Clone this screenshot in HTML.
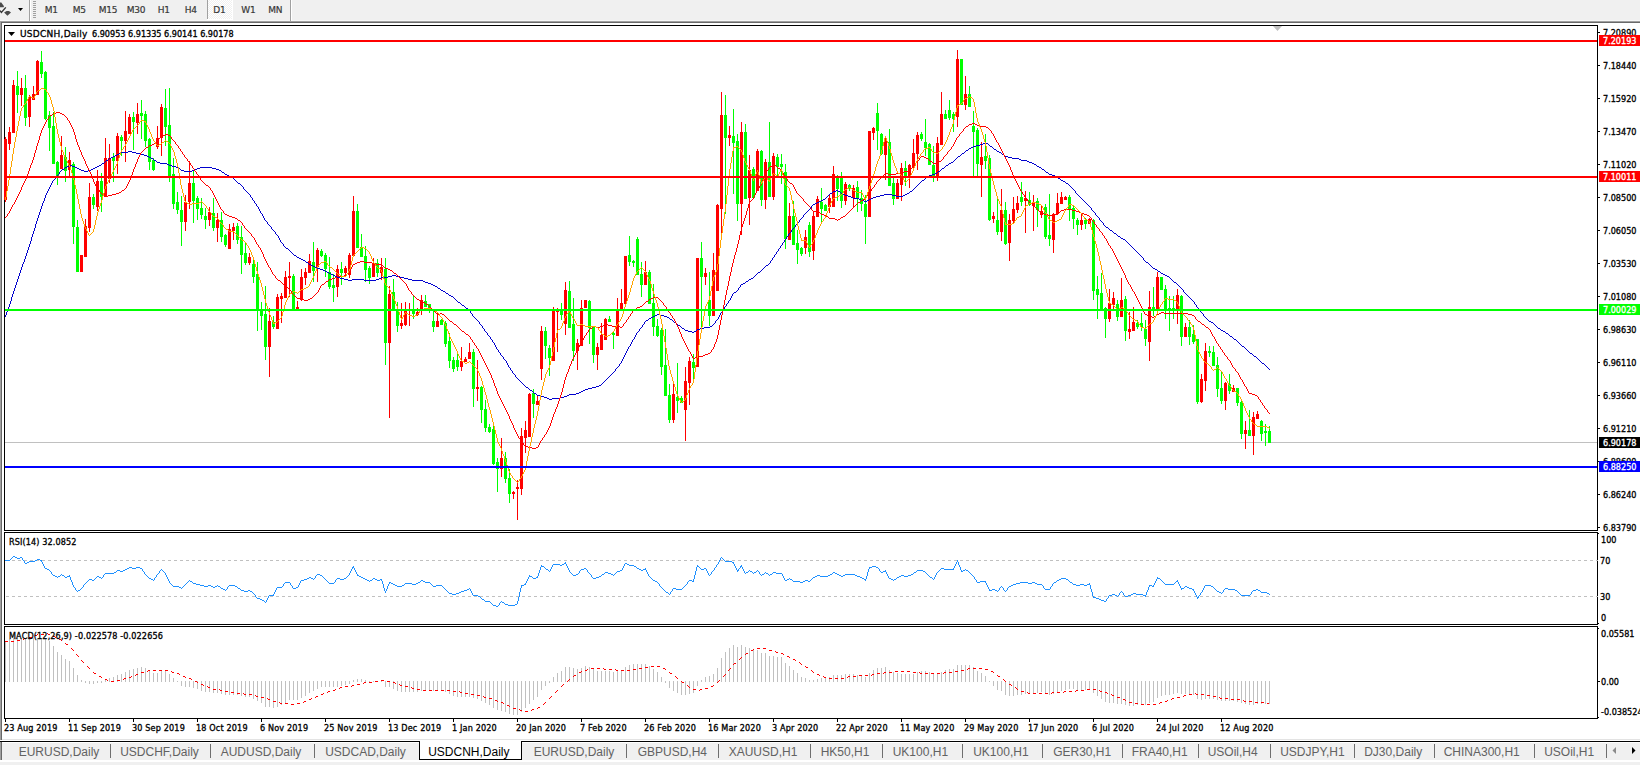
<!DOCTYPE html>
<html><head><meta charset="utf-8"><title>USDCNH,Daily</title>
<style>
html,body{margin:0;padding:0;width:1640px;height:765px;overflow:hidden;background:#f0f0f0;}
svg{display:block;position:absolute;left:0;top:0}
.t{font-family:"DejaVu Sans Condensed","DejaVu Sans",sans-serif;font-size:9px;fill:#000;stroke:#000;stroke-width:0.3px}
.t.w{fill:#fff;stroke:#fff}
.tw{font-family:"DejaVu Sans",sans-serif;font-size:9px;letter-spacing:0.25px}
.tb{font-family:"DejaVu Sans",sans-serif;font-size:9px;letter-spacing:-0.2px;fill:#383838;stroke:#383838;stroke-width:0.2px}
.tab{font-family:"Liberation Sans", sans-serif;font-size:12px;fill:#626262}
</style></head><body>
<svg width="1640" height="765" viewBox="0 0 1640 765" shape-rendering="crispEdges">

<rect x="0" y="0" width="1640" height="21" fill="#f0f0f0"/>
<rect x="0" y="20" width="1640" height="1" fill="#f7f7f7"/>
<g fill="#4a4a4a" shape-rendering="auto"><path d="M0 2.6 L1.3 2.6 L4 6.2 L3.6 7.3 L0 7.3 Z"/><path d="M4.1 12.4 L6.6 11 L9 11 L11 12.4 L7.4 15.8 Z"/></g>
<path d="M0 10.6 L1.4 12.4 L5.8 7.4" fill="none" stroke="#333" stroke-width="1.4" shape-rendering="auto"/>
<path d="M18 8 L23 8 L20.5 11 Z" fill="#000" shape-rendering="auto"/>
<rect x="29" y="0" width="1" height="21" fill="#a0a0a0"/><rect x="30" y="0" width="1" height="21" fill="#ffffff"/>
<rect x="33" y="1" width="3" height="1" fill="#a0a0a0"/>
<rect x="33" y="3" width="3" height="1" fill="#a0a0a0"/>
<rect x="33" y="5" width="3" height="1" fill="#a0a0a0"/>
<rect x="33" y="7" width="3" height="1" fill="#a0a0a0"/>
<rect x="33" y="9" width="3" height="1" fill="#a0a0a0"/>
<rect x="33" y="11" width="3" height="1" fill="#a0a0a0"/>
<rect x="33" y="13" width="3" height="1" fill="#a0a0a0"/>
<rect x="33" y="15" width="3" height="1" fill="#a0a0a0"/>
<rect x="33" y="17" width="3" height="1" fill="#a0a0a0"/>
<text class="tb" x="44.7" y="13">M1</text>
<text class="tb" x="72.7" y="13">M5</text>
<text class="tb" x="98.7" y="13">M15</text>
<text class="tb" x="126.7" y="13">M30</text>
<text class="tb" x="157.7" y="13">H1</text>
<text class="tb" x="184.7" y="13">H4</text>
<text class="tb" x="241.2" y="13">W1</text>
<text class="tb" x="268.2" y="13">MN</text>
<defs><pattern id="chk" x="0" y="0" width="2" height="2" patternUnits="userSpaceOnUse"><rect width="2" height="2" fill="#f0f0f0"/><rect width="1" height="1" fill="#ffffff"/><rect x="1" y="1" width="1" height="1" fill="#ffffff"/></pattern></defs>
<rect x="207" y="0" width="1" height="19" fill="#a0a0a0"/>
<rect x="208" y="0" width="24" height="19" fill="url(#chk)"/>
<rect x="232" y="0" width="1" height="20" fill="#ffffff"/><rect x="207" y="19" width="26" height="1" fill="#ffffff"/>
<text class="tb" x="213.2" y="13">D1</text>
<rect x="290" y="0" width="1" height="21" fill="#a0a0a0"/><rect x="291" y="0" width="1" height="21" fill="#ffffff"/>
<rect x="0" y="21" width="1640" height="1" fill="#a0a0a0"/>
<rect x="0" y="22" width="1640" height="1" fill="#696969"/>
<rect x="0" y="21" width="1" height="719" fill="#a0a0a0"/>
<rect x="1" y="22" width="1" height="718" fill="#696969"/>
<rect x="2" y="23" width="1638" height="716" fill="#ffffff"/>
<rect x="2" y="739" width="1638" height="1" fill="#e3e3e3"/>
<rect x="0" y="740" width="1640" height="1" fill="#ffffff"/>
<rect x="4.5" y="25.5" width="1593" height="505" fill="none" stroke="#000" stroke-width="1"/>
<rect x="4.5" y="532.5" width="1593" height="92" fill="none" stroke="#000" stroke-width="1"/>
<rect x="4.5" y="626.5" width="1593" height="92" fill="none" stroke="#000" stroke-width="1"/>
<rect x="5" y="442" width="1592" height="1" fill="#c0c0c0"/>
<g><rect x="5" y="137" width="1" height="65" fill="#ff0000"/><rect x="4" y="139" width="3" height="61" fill="#ff0000"/><rect x="9" y="127" width="1" height="23" fill="#ff0000"/><rect x="8" y="132" width="3" height="12" fill="#ff0000"/><rect x="13" y="80" width="1" height="53" fill="#ff0000"/><rect x="12" y="85" width="3" height="48" fill="#ff0000"/><rect x="17" y="71" width="1" height="42" fill="#00ff00"/><rect x="16" y="86" width="3" height="9" fill="#00ff00"/><rect x="21" y="78" width="1" height="28" fill="#ff0000"/><rect x="20" y="88" width="3" height="7" fill="#ff0000"/><rect x="25" y="75" width="1" height="51" fill="#00ff00"/><rect x="24" y="88" width="3" height="30" fill="#00ff00"/><rect x="29" y="95" width="1" height="32" fill="#ff0000"/><rect x="28" y="97" width="3" height="20" fill="#ff0000"/><rect x="33" y="86" width="1" height="14" fill="#ff0000"/><rect x="32" y="94" width="3" height="6" fill="#ff0000"/><rect x="37" y="60" width="1" height="35" fill="#ff0000"/><rect x="36" y="61" width="3" height="34" fill="#ff0000"/><rect x="41" y="51" width="1" height="27" fill="#00ff00"/><rect x="40" y="62" width="3" height="12" fill="#00ff00"/><rect x="45" y="71" width="1" height="49" fill="#00ff00"/><rect x="44" y="72" width="3" height="47" fill="#00ff00"/><rect x="49" y="111" width="1" height="40" fill="#00ff00"/><rect x="48" y="115" width="3" height="13" fill="#00ff00"/><rect x="53" y="112" width="1" height="52" fill="#00ff00"/><rect x="52" y="126" width="3" height="38" fill="#00ff00"/><rect x="57" y="161" width="1" height="24" fill="#00ff00"/><rect x="56" y="162" width="3" height="14" fill="#00ff00"/><rect x="61" y="136" width="1" height="33" fill="#ff0000"/><rect x="60" y="155" width="3" height="14" fill="#ff0000"/><rect x="65" y="147" width="1" height="35" fill="#00ff00"/><rect x="64" y="157" width="3" height="14" fill="#00ff00"/><rect x="69" y="152" width="1" height="24" fill="#ff0000"/><rect x="68" y="160" width="3" height="10" fill="#ff0000"/><rect x="73" y="162" width="1" height="82" fill="#00ff00"/><rect x="72" y="164" width="3" height="63" fill="#00ff00"/><rect x="77" y="220" width="1" height="52" fill="#00ff00"/><rect x="76" y="227" width="3" height="45" fill="#00ff00"/><rect x="81" y="255" width="1" height="17" fill="#ff0000"/><rect x="80" y="255" width="3" height="17" fill="#ff0000"/><rect x="85" y="219" width="1" height="38" fill="#ff0000"/><rect x="84" y="226" width="3" height="31" fill="#ff0000"/><rect x="89" y="183" width="1" height="49" fill="#ff0000"/><rect x="88" y="197" width="3" height="31" fill="#ff0000"/><rect x="93" y="194" width="1" height="15" fill="#00ff00"/><rect x="92" y="197" width="3" height="8" fill="#00ff00"/><rect x="97" y="170" width="1" height="41" fill="#ff0000"/><rect x="96" y="181" width="3" height="26" fill="#ff0000"/><rect x="101" y="173" width="1" height="39" fill="#00ff00"/><rect x="100" y="181" width="3" height="16" fill="#00ff00"/><rect x="105" y="138" width="1" height="59" fill="#ff0000"/><rect x="104" y="158" width="3" height="39" fill="#ff0000"/><rect x="109" y="144" width="1" height="39" fill="#ff0000"/><rect x="108" y="158" width="3" height="21" fill="#ff0000"/><rect x="113" y="153" width="1" height="29" fill="#00ff00"/><rect x="112" y="157" width="3" height="4" fill="#00ff00"/><rect x="117" y="133" width="1" height="41" fill="#ff0000"/><rect x="116" y="136" width="3" height="25" fill="#ff0000"/><rect x="121" y="135" width="1" height="21" fill="#00ff00"/><rect x="120" y="137" width="3" height="4" fill="#00ff00"/><rect x="125" y="111" width="1" height="51" fill="#ff0000"/><rect x="124" y="131" width="3" height="10" fill="#ff0000"/><rect x="129" y="114" width="1" height="20" fill="#ff0000"/><rect x="128" y="117" width="3" height="17" fill="#ff0000"/><rect x="133" y="112" width="1" height="38" fill="#00ff00"/><rect x="132" y="117" width="3" height="5" fill="#00ff00"/><rect x="137" y="103" width="1" height="31" fill="#ff0000"/><rect x="136" y="114" width="3" height="9" fill="#ff0000"/><rect x="141" y="100" width="1" height="39" fill="#00ff00"/><rect x="140" y="113" width="3" height="3" fill="#00ff00"/><rect x="145" y="111" width="1" height="36" fill="#00ff00"/><rect x="144" y="114" width="3" height="27" fill="#00ff00"/><rect x="149" y="138" width="1" height="32" fill="#00ff00"/><rect x="148" y="139" width="3" height="23" fill="#00ff00"/><rect x="153" y="158" width="1" height="13" fill="#00ff00"/><rect x="152" y="160" width="3" height="10" fill="#00ff00"/><rect x="157" y="126" width="1" height="23" fill="#ff0000"/><rect x="156" y="138" width="3" height="9" fill="#ff0000"/><rect x="161" y="104" width="1" height="52" fill="#ff0000"/><rect x="160" y="107" width="3" height="31" fill="#ff0000"/><rect x="165" y="89" width="1" height="57" fill="#00ff00"/><rect x="164" y="108" width="3" height="19" fill="#00ff00"/><rect x="169" y="88" width="1" height="94" fill="#00ff00"/><rect x="168" y="125" width="3" height="51" fill="#00ff00"/><rect x="173" y="158" width="1" height="51" fill="#00ff00"/><rect x="172" y="174" width="3" height="30" fill="#00ff00"/><rect x="177" y="192" width="1" height="22" fill="#00ff00"/><rect x="176" y="202" width="3" height="8" fill="#00ff00"/><rect x="181" y="196" width="1" height="50" fill="#00ff00"/><rect x="180" y="210" width="3" height="12" fill="#00ff00"/><rect x="185" y="195" width="1" height="36" fill="#ff0000"/><rect x="184" y="202" width="3" height="20" fill="#ff0000"/><rect x="189" y="161" width="1" height="48" fill="#ff0000"/><rect x="188" y="183" width="3" height="19" fill="#ff0000"/><rect x="193" y="171" width="1" height="52" fill="#00ff00"/><rect x="192" y="183" width="3" height="18" fill="#00ff00"/><rect x="197" y="196" width="1" height="24" fill="#00ff00"/><rect x="196" y="198" width="3" height="11" fill="#00ff00"/><rect x="201" y="198" width="1" height="21" fill="#00ff00"/><rect x="200" y="208" width="3" height="7" fill="#00ff00"/><rect x="205" y="208" width="1" height="21" fill="#00ff00"/><rect x="204" y="216" width="3" height="4" fill="#00ff00"/><rect x="209" y="207" width="1" height="19" fill="#ff0000"/><rect x="208" y="212" width="3" height="8" fill="#ff0000"/><rect x="213" y="198" width="1" height="33" fill="#00ff00"/><rect x="212" y="213" width="3" height="15" fill="#00ff00"/><rect x="217" y="213" width="1" height="29" fill="#ff0000"/><rect x="216" y="220" width="3" height="8" fill="#ff0000"/><rect x="221" y="212" width="1" height="30" fill="#00ff00"/><rect x="220" y="220" width="3" height="17" fill="#00ff00"/><rect x="225" y="234" width="1" height="13" fill="#00ff00"/><rect x="224" y="235" width="3" height="10" fill="#00ff00"/><rect x="229" y="224" width="1" height="25" fill="#ff0000"/><rect x="228" y="229" width="3" height="20" fill="#ff0000"/><rect x="233" y="223" width="1" height="17" fill="#ff0000"/><rect x="232" y="227" width="3" height="4" fill="#ff0000"/><rect x="237" y="223" width="1" height="21" fill="#00ff00"/><rect x="236" y="226" width="3" height="14" fill="#00ff00"/><rect x="241" y="226" width="1" height="48" fill="#00ff00"/><rect x="240" y="237" width="3" height="18" fill="#00ff00"/><rect x="245" y="243" width="1" height="22" fill="#00ff00"/><rect x="244" y="253" width="3" height="10" fill="#00ff00"/><rect x="249" y="253" width="1" height="12" fill="#ff0000"/><rect x="248" y="257" width="3" height="6" fill="#ff0000"/><rect x="253" y="258" width="1" height="25" fill="#00ff00"/><rect x="252" y="264" width="3" height="13" fill="#00ff00"/><rect x="257" y="262" width="1" height="69" fill="#00ff00"/><rect x="256" y="274" width="3" height="36" fill="#00ff00"/><rect x="261" y="302" width="1" height="28" fill="#00ff00"/><rect x="260" y="311" width="3" height="5" fill="#00ff00"/><rect x="265" y="286" width="1" height="74" fill="#00ff00"/><rect x="264" y="314" width="3" height="33" fill="#00ff00"/><rect x="269" y="308" width="1" height="69" fill="#ff0000"/><rect x="268" y="321" width="3" height="26" fill="#ff0000"/><rect x="273" y="316" width="1" height="13" fill="#00ff00"/><rect x="272" y="322" width="3" height="5" fill="#00ff00"/><rect x="277" y="294" width="1" height="35" fill="#ff0000"/><rect x="276" y="297" width="3" height="32" fill="#ff0000"/><rect x="281" y="293" width="1" height="30" fill="#ff0000"/><rect x="280" y="296" width="3" height="3" fill="#ff0000"/><rect x="285" y="271" width="1" height="27" fill="#ff0000"/><rect x="284" y="277" width="3" height="21" fill="#ff0000"/><rect x="289" y="262" width="1" height="35" fill="#ff0000"/><rect x="288" y="276" width="3" height="2" fill="#ff0000"/><rect x="293" y="274" width="1" height="37" fill="#00ff00"/><rect x="292" y="276" width="3" height="35" fill="#00ff00"/><rect x="297" y="301" width="1" height="9" fill="#ff0000"/><rect x="296" y="307" width="3" height="3" fill="#ff0000"/><rect x="301" y="269" width="1" height="32" fill="#ff0000"/><rect x="300" y="277" width="3" height="23" fill="#ff0000"/><rect x="305" y="268" width="1" height="17" fill="#ff0000"/><rect x="304" y="272" width="3" height="6" fill="#ff0000"/><rect x="309" y="254" width="1" height="19" fill="#ff0000"/><rect x="308" y="261" width="3" height="12" fill="#ff0000"/><rect x="313" y="242" width="1" height="40" fill="#00ff00"/><rect x="312" y="262" width="3" height="9" fill="#00ff00"/><rect x="317" y="248" width="1" height="34" fill="#ff0000"/><rect x="316" y="250" width="3" height="17" fill="#ff0000"/><rect x="321" y="249" width="1" height="8" fill="#00ff00"/><rect x="320" y="251" width="3" height="5" fill="#00ff00"/><rect x="325" y="253" width="1" height="24" fill="#00ff00"/><rect x="324" y="255" width="3" height="14" fill="#00ff00"/><rect x="329" y="257" width="1" height="32" fill="#00ff00"/><rect x="328" y="272" width="3" height="15" fill="#00ff00"/><rect x="333" y="274" width="1" height="28" fill="#00ff00"/><rect x="332" y="285" width="3" height="3" fill="#00ff00"/><rect x="337" y="265" width="1" height="32" fill="#ff0000"/><rect x="336" y="269" width="3" height="18" fill="#ff0000"/><rect x="341" y="262" width="1" height="23" fill="#00ff00"/><rect x="340" y="269" width="3" height="4" fill="#00ff00"/><rect x="345" y="266" width="1" height="9" fill="#ff0000"/><rect x="344" y="268" width="3" height="5" fill="#ff0000"/><rect x="349" y="253" width="1" height="25" fill="#ff0000"/><rect x="348" y="255" width="3" height="20" fill="#ff0000"/><rect x="353" y="196" width="1" height="60" fill="#ff0000"/><rect x="352" y="211" width="3" height="45" fill="#ff0000"/><rect x="357" y="204" width="1" height="44" fill="#00ff00"/><rect x="356" y="211" width="3" height="37" fill="#00ff00"/><rect x="361" y="234" width="1" height="23" fill="#00ff00"/><rect x="360" y="247" width="3" height="10" fill="#00ff00"/><rect x="365" y="246" width="1" height="36" fill="#00ff00"/><rect x="364" y="256" width="3" height="14" fill="#00ff00"/><rect x="369" y="266" width="1" height="18" fill="#00ff00"/><rect x="368" y="268" width="3" height="10" fill="#00ff00"/><rect x="373" y="258" width="1" height="19" fill="#ff0000"/><rect x="372" y="263" width="3" height="14" fill="#ff0000"/><rect x="377" y="259" width="1" height="18" fill="#00ff00"/><rect x="376" y="263" width="3" height="10" fill="#00ff00"/><rect x="381" y="258" width="1" height="22" fill="#ff0000"/><rect x="380" y="267" width="3" height="6" fill="#ff0000"/><rect x="385" y="258" width="1" height="107" fill="#00ff00"/><rect x="384" y="269" width="3" height="74" fill="#00ff00"/><rect x="389" y="286" width="1" height="132" fill="#ff0000"/><rect x="388" y="294" width="3" height="49" fill="#ff0000"/><rect x="393" y="279" width="1" height="31" fill="#00ff00"/><rect x="392" y="292" width="3" height="18" fill="#00ff00"/><rect x="397" y="302" width="1" height="30" fill="#00ff00"/><rect x="396" y="311" width="3" height="15" fill="#00ff00"/><rect x="401" y="303" width="1" height="26" fill="#ff0000"/><rect x="400" y="323" width="3" height="3" fill="#ff0000"/><rect x="405" y="302" width="1" height="24" fill="#ff0000"/><rect x="404" y="311" width="3" height="14" fill="#ff0000"/><rect x="409" y="303" width="1" height="23" fill="#ff0000"/><rect x="408" y="309" width="3" height="2" fill="#ff0000"/><rect x="413" y="296" width="1" height="23" fill="#00ff00"/><rect x="412" y="310" width="3" height="4" fill="#00ff00"/><rect x="417" y="308" width="1" height="8" fill="#ff0000"/><rect x="416" y="312" width="3" height="3" fill="#ff0000"/><rect x="421" y="295" width="1" height="20" fill="#ff0000"/><rect x="420" y="300" width="3" height="11" fill="#ff0000"/><rect x="425" y="295" width="1" height="12" fill="#00ff00"/><rect x="424" y="301" width="3" height="6" fill="#00ff00"/><rect x="429" y="304" width="1" height="9" fill="#00ff00"/><rect x="428" y="304" width="3" height="4" fill="#00ff00"/><rect x="433" y="311" width="1" height="21" fill="#00ff00"/><rect x="432" y="321" width="3" height="6" fill="#00ff00"/><rect x="437" y="313" width="1" height="14" fill="#ff0000"/><rect x="436" y="321" width="3" height="6" fill="#ff0000"/><rect x="441" y="319" width="1" height="6" fill="#00ff00"/><rect x="440" y="320" width="3" height="5" fill="#00ff00"/><rect x="445" y="321" width="1" height="26" fill="#00ff00"/><rect x="444" y="323" width="3" height="21" fill="#00ff00"/><rect x="449" y="333" width="1" height="35" fill="#00ff00"/><rect x="448" y="341" width="3" height="20" fill="#00ff00"/><rect x="453" y="357" width="1" height="15" fill="#00ff00"/><rect x="452" y="360" width="3" height="9" fill="#00ff00"/><rect x="457" y="354" width="1" height="17" fill="#00ff00"/><rect x="456" y="360" width="3" height="7" fill="#00ff00"/><rect x="461" y="347" width="1" height="24" fill="#ff0000"/><rect x="460" y="361" width="3" height="6" fill="#ff0000"/><rect x="465" y="357" width="1" height="5" fill="#ff0000"/><rect x="464" y="359" width="3" height="3" fill="#ff0000"/><rect x="469" y="343" width="1" height="16" fill="#ff0000"/><rect x="468" y="352" width="3" height="7" fill="#ff0000"/><rect x="473" y="349" width="1" height="58" fill="#00ff00"/><rect x="472" y="352" width="3" height="37" fill="#00ff00"/><rect x="477" y="360" width="1" height="41" fill="#ff0000"/><rect x="476" y="387" width="3" height="2" fill="#ff0000"/><rect x="481" y="386" width="1" height="37" fill="#00ff00"/><rect x="480" y="387" width="3" height="23" fill="#00ff00"/><rect x="485" y="400" width="1" height="32" fill="#00ff00"/><rect x="484" y="409" width="3" height="19" fill="#00ff00"/><rect x="489" y="424" width="1" height="9" fill="#00ff00"/><rect x="488" y="427" width="3" height="5" fill="#00ff00"/><rect x="493" y="426" width="1" height="39" fill="#00ff00"/><rect x="492" y="429" width="3" height="35" fill="#00ff00"/><rect x="497" y="458" width="1" height="34" fill="#00ff00"/><rect x="496" y="462" width="3" height="7" fill="#00ff00"/><rect x="501" y="438" width="1" height="39" fill="#ff0000"/><rect x="500" y="458" width="3" height="11" fill="#ff0000"/><rect x="505" y="452" width="1" height="31" fill="#00ff00"/><rect x="504" y="458" width="3" height="21" fill="#00ff00"/><rect x="509" y="469" width="1" height="34" fill="#00ff00"/><rect x="508" y="478" width="3" height="16" fill="#00ff00"/><rect x="513" y="491" width="1" height="8" fill="#ff0000"/><rect x="512" y="492" width="3" height="2" fill="#ff0000"/><rect x="517" y="480" width="1" height="40" fill="#ff0000"/><rect x="516" y="487" width="3" height="2" fill="#ff0000"/><rect x="521" y="428" width="1" height="67" fill="#ff0000"/><rect x="520" y="436" width="3" height="53" fill="#ff0000"/><rect x="525" y="421" width="1" height="32" fill="#ff0000"/><rect x="524" y="430" width="3" height="8" fill="#ff0000"/><rect x="529" y="393" width="1" height="44" fill="#ff0000"/><rect x="528" y="394" width="3" height="43" fill="#ff0000"/><rect x="533" y="389" width="1" height="29" fill="#00ff00"/><rect x="532" y="393" width="3" height="11" fill="#00ff00"/><rect x="537" y="395" width="1" height="10" fill="#ff0000"/><rect x="536" y="401" width="3" height="4" fill="#ff0000"/><rect x="541" y="326" width="1" height="54" fill="#ff0000"/><rect x="540" y="331" width="3" height="38" fill="#ff0000"/><rect x="545" y="327" width="1" height="32" fill="#00ff00"/><rect x="544" y="331" width="3" height="15" fill="#00ff00"/><rect x="549" y="345" width="1" height="31" fill="#00ff00"/><rect x="548" y="348" width="3" height="10" fill="#00ff00"/><rect x="553" y="307" width="1" height="54" fill="#ff0000"/><rect x="552" y="309" width="3" height="52" fill="#ff0000"/><rect x="557" y="308" width="1" height="44" fill="#ff0000"/><rect x="556" y="309" width="3" height="3" fill="#ff0000"/><rect x="561" y="303" width="1" height="17" fill="#00ff00"/><rect x="560" y="309" width="3" height="6" fill="#00ff00"/><rect x="565" y="282" width="1" height="53" fill="#ff0000"/><rect x="564" y="290" width="3" height="34" fill="#ff0000"/><rect x="569" y="281" width="1" height="47" fill="#00ff00"/><rect x="568" y="291" width="3" height="37" fill="#00ff00"/><rect x="573" y="298" width="1" height="63" fill="#00ff00"/><rect x="572" y="324" width="3" height="27" fill="#00ff00"/><rect x="577" y="339" width="1" height="31" fill="#ff0000"/><rect x="576" y="343" width="3" height="8" fill="#ff0000"/><rect x="581" y="300" width="1" height="46" fill="#ff0000"/><rect x="580" y="308" width="3" height="38" fill="#ff0000"/><rect x="585" y="300" width="1" height="8" fill="#ff0000"/><rect x="584" y="300" width="3" height="8" fill="#ff0000"/><rect x="589" y="300" width="1" height="44" fill="#00ff00"/><rect x="588" y="301" width="3" height="27" fill="#00ff00"/><rect x="593" y="326" width="1" height="37" fill="#00ff00"/><rect x="592" y="327" width="3" height="28" fill="#00ff00"/><rect x="597" y="343" width="1" height="27" fill="#ff0000"/><rect x="596" y="347" width="3" height="8" fill="#ff0000"/><rect x="601" y="323" width="1" height="27" fill="#ff0000"/><rect x="600" y="335" width="3" height="15" fill="#ff0000"/><rect x="605" y="318" width="1" height="22" fill="#ff0000"/><rect x="604" y="319" width="3" height="21" fill="#ff0000"/><rect x="609" y="316" width="1" height="6" fill="#00ff00"/><rect x="608" y="319" width="3" height="3" fill="#00ff00"/><rect x="613" y="331" width="1" height="18" fill="#00ff00"/><rect x="612" y="333" width="3" height="2" fill="#00ff00"/><rect x="617" y="298" width="1" height="38" fill="#ff0000"/><rect x="616" y="311" width="3" height="25" fill="#ff0000"/><rect x="621" y="289" width="1" height="21" fill="#ff0000"/><rect x="620" y="303" width="3" height="7" fill="#ff0000"/><rect x="625" y="256" width="1" height="48" fill="#ff0000"/><rect x="624" y="256" width="3" height="48" fill="#ff0000"/><rect x="629" y="236" width="1" height="30" fill="#00ff00"/><rect x="628" y="255" width="3" height="7" fill="#00ff00"/><rect x="633" y="260" width="1" height="7" fill="#00ff00"/><rect x="632" y="261" width="3" height="2" fill="#00ff00"/><rect x="637" y="237" width="1" height="38" fill="#00ff00"/><rect x="636" y="239" width="3" height="36" fill="#00ff00"/><rect x="641" y="262" width="1" height="35" fill="#00ff00"/><rect x="640" y="274" width="3" height="11" fill="#00ff00"/><rect x="645" y="261" width="1" height="24" fill="#ff0000"/><rect x="644" y="272" width="3" height="13" fill="#ff0000"/><rect x="649" y="270" width="1" height="34" fill="#00ff00"/><rect x="648" y="272" width="3" height="32" fill="#00ff00"/><rect x="653" y="284" width="1" height="52" fill="#00ff00"/><rect x="652" y="303" width="3" height="24" fill="#00ff00"/><rect x="657" y="319" width="1" height="18" fill="#00ff00"/><rect x="656" y="326" width="3" height="10" fill="#00ff00"/><rect x="661" y="328" width="1" height="47" fill="#00ff00"/><rect x="660" y="330" width="3" height="37" fill="#00ff00"/><rect x="665" y="329" width="1" height="67" fill="#00ff00"/><rect x="664" y="365" width="3" height="31" fill="#00ff00"/><rect x="669" y="384" width="1" height="39" fill="#00ff00"/><rect x="668" y="395" width="3" height="25" fill="#00ff00"/><rect x="673" y="384" width="1" height="39" fill="#ff0000"/><rect x="672" y="394" width="3" height="26" fill="#ff0000"/><rect x="677" y="363" width="1" height="50" fill="#00ff00"/><rect x="676" y="397" width="3" height="4" fill="#00ff00"/><rect x="681" y="396" width="1" height="7" fill="#00ff00"/><rect x="680" y="398" width="3" height="5" fill="#00ff00"/><rect x="685" y="367" width="1" height="74" fill="#ff0000"/><rect x="684" y="381" width="3" height="29" fill="#ff0000"/><rect x="689" y="357" width="1" height="48" fill="#ff0000"/><rect x="688" y="361" width="3" height="22" fill="#ff0000"/><rect x="693" y="354" width="1" height="25" fill="#00ff00"/><rect x="692" y="362" width="3" height="6" fill="#00ff00"/><rect x="697" y="258" width="1" height="109" fill="#ff0000"/><rect x="696" y="258" width="3" height="109" fill="#ff0000"/><rect x="701" y="242" width="1" height="85" fill="#00ff00"/><rect x="700" y="258" width="3" height="19" fill="#00ff00"/><rect x="705" y="268" width="1" height="17" fill="#ff0000"/><rect x="704" y="273" width="3" height="4" fill="#ff0000"/><rect x="709" y="272" width="1" height="54" fill="#00ff00"/><rect x="708" y="300" width="3" height="16" fill="#00ff00"/><rect x="713" y="253" width="1" height="63" fill="#ff0000"/><rect x="712" y="270" width="3" height="46" fill="#ff0000"/><rect x="717" y="204" width="1" height="87" fill="#ff0000"/><rect x="716" y="205" width="3" height="86" fill="#ff0000"/><rect x="721" y="92" width="1" height="142" fill="#ff0000"/><rect x="720" y="115" width="3" height="94" fill="#ff0000"/><rect x="725" y="95" width="1" height="119" fill="#00ff00"/><rect x="724" y="115" width="3" height="23" fill="#00ff00"/><rect x="729" y="126" width="1" height="20" fill="#ff0000"/><rect x="728" y="135" width="3" height="3" fill="#ff0000"/><rect x="733" y="109" width="1" height="85" fill="#00ff00"/><rect x="732" y="136" width="3" height="7" fill="#00ff00"/><rect x="737" y="134" width="1" height="87" fill="#00ff00"/><rect x="736" y="141" width="3" height="63" fill="#00ff00"/><rect x="741" y="122" width="1" height="113" fill="#ff0000"/><rect x="740" y="132" width="3" height="72" fill="#ff0000"/><rect x="745" y="124" width="1" height="75" fill="#00ff00"/><rect x="744" y="132" width="3" height="67" fill="#00ff00"/><rect x="749" y="155" width="1" height="70" fill="#ff0000"/><rect x="748" y="170" width="3" height="28" fill="#ff0000"/><rect x="753" y="167" width="1" height="31" fill="#00ff00"/><rect x="752" y="169" width="3" height="29" fill="#00ff00"/><rect x="757" y="149" width="1" height="42" fill="#ff0000"/><rect x="756" y="151" width="3" height="40" fill="#ff0000"/><rect x="761" y="150" width="1" height="56" fill="#00ff00"/><rect x="760" y="151" width="3" height="49" fill="#00ff00"/><rect x="765" y="159" width="1" height="50" fill="#ff0000"/><rect x="764" y="162" width="3" height="38" fill="#ff0000"/><rect x="769" y="122" width="1" height="75" fill="#00ff00"/><rect x="768" y="162" width="3" height="35" fill="#00ff00"/><rect x="773" y="153" width="1" height="47" fill="#ff0000"/><rect x="772" y="156" width="3" height="41" fill="#ff0000"/><rect x="777" y="154" width="1" height="22" fill="#00ff00"/><rect x="776" y="157" width="3" height="10" fill="#00ff00"/><rect x="781" y="154" width="1" height="30" fill="#00ff00"/><rect x="780" y="164" width="3" height="3" fill="#00ff00"/><rect x="785" y="164" width="1" height="85" fill="#00ff00"/><rect x="784" y="172" width="3" height="67" fill="#00ff00"/><rect x="789" y="203" width="1" height="37" fill="#ff0000"/><rect x="788" y="216" width="3" height="24" fill="#ff0000"/><rect x="793" y="201" width="1" height="44" fill="#00ff00"/><rect x="792" y="216" width="3" height="29" fill="#00ff00"/><rect x="797" y="230" width="1" height="34" fill="#00ff00"/><rect x="796" y="243" width="3" height="7" fill="#00ff00"/><rect x="801" y="247" width="1" height="9" fill="#00ff00"/><rect x="800" y="248" width="3" height="6" fill="#00ff00"/><rect x="805" y="230" width="1" height="24" fill="#ff0000"/><rect x="804" y="237" width="3" height="11" fill="#ff0000"/><rect x="809" y="222" width="1" height="35" fill="#00ff00"/><rect x="808" y="225" width="3" height="27" fill="#00ff00"/><rect x="813" y="211" width="1" height="49" fill="#ff0000"/><rect x="812" y="216" width="3" height="35" fill="#ff0000"/><rect x="817" y="196" width="1" height="21" fill="#ff0000"/><rect x="816" y="199" width="3" height="18" fill="#ff0000"/><rect x="821" y="188" width="1" height="35" fill="#00ff00"/><rect x="820" y="202" width="3" height="7" fill="#00ff00"/><rect x="825" y="204" width="1" height="7" fill="#00ff00"/><rect x="824" y="205" width="3" height="6" fill="#00ff00"/><rect x="829" y="195" width="1" height="18" fill="#ff0000"/><rect x="828" y="198" width="3" height="9" fill="#ff0000"/><rect x="833" y="166" width="1" height="41" fill="#ff0000"/><rect x="832" y="174" width="3" height="33" fill="#ff0000"/><rect x="837" y="175" width="1" height="26" fill="#00ff00"/><rect x="836" y="178" width="3" height="11" fill="#00ff00"/><rect x="841" y="172" width="1" height="36" fill="#00ff00"/><rect x="840" y="178" width="3" height="23" fill="#00ff00"/><rect x="845" y="182" width="1" height="23" fill="#ff0000"/><rect x="844" y="184" width="3" height="17" fill="#ff0000"/><rect x="849" y="184" width="1" height="7" fill="#00ff00"/><rect x="848" y="185" width="3" height="4" fill="#00ff00"/><rect x="853" y="185" width="1" height="22" fill="#ff0000"/><rect x="852" y="188" width="3" height="10" fill="#ff0000"/><rect x="857" y="181" width="1" height="31" fill="#00ff00"/><rect x="856" y="187" width="3" height="12" fill="#00ff00"/><rect x="861" y="190" width="1" height="21" fill="#00ff00"/><rect x="860" y="198" width="3" height="6" fill="#00ff00"/><rect x="865" y="195" width="1" height="49" fill="#00ff00"/><rect x="864" y="204" width="3" height="13" fill="#00ff00"/><rect x="869" y="131" width="1" height="86" fill="#ff0000"/><rect x="868" y="131" width="3" height="86" fill="#ff0000"/><rect x="873" y="127" width="1" height="13" fill="#ff0000"/><rect x="872" y="128" width="3" height="5" fill="#ff0000"/><rect x="877" y="103" width="1" height="47" fill="#00ff00"/><rect x="876" y="113" width="3" height="18" fill="#00ff00"/><rect x="881" y="133" width="1" height="22" fill="#00ff00"/><rect x="880" y="134" width="3" height="20" fill="#00ff00"/><rect x="885" y="138" width="1" height="42" fill="#ff0000"/><rect x="884" y="140" width="3" height="15" fill="#ff0000"/><rect x="889" y="129" width="1" height="57" fill="#00ff00"/><rect x="888" y="142" width="3" height="44" fill="#00ff00"/><rect x="893" y="177" width="1" height="28" fill="#00ff00"/><rect x="892" y="183" width="3" height="16" fill="#00ff00"/><rect x="897" y="179" width="1" height="20" fill="#ff0000"/><rect x="896" y="183" width="3" height="16" fill="#ff0000"/><rect x="901" y="163" width="1" height="38" fill="#ff0000"/><rect x="900" y="168" width="3" height="17" fill="#ff0000"/><rect x="905" y="161" width="1" height="25" fill="#00ff00"/><rect x="904" y="168" width="3" height="8" fill="#00ff00"/><rect x="909" y="164" width="1" height="24" fill="#ff0000"/><rect x="908" y="165" width="3" height="13" fill="#ff0000"/><rect x="913" y="139" width="1" height="31" fill="#ff0000"/><rect x="912" y="153" width="3" height="15" fill="#ff0000"/><rect x="917" y="132" width="1" height="38" fill="#ff0000"/><rect x="916" y="135" width="3" height="19" fill="#ff0000"/><rect x="921" y="132" width="1" height="9" fill="#00ff00"/><rect x="920" y="134" width="3" height="5" fill="#00ff00"/><rect x="925" y="119" width="1" height="37" fill="#00ff00"/><rect x="924" y="142" width="3" height="6" fill="#00ff00"/><rect x="929" y="143" width="1" height="22" fill="#00ff00"/><rect x="928" y="144" width="3" height="21" fill="#00ff00"/><rect x="933" y="146" width="1" height="36" fill="#00ff00"/><rect x="932" y="165" width="3" height="11" fill="#00ff00"/><rect x="937" y="137" width="1" height="44" fill="#ff0000"/><rect x="936" y="143" width="3" height="35" fill="#ff0000"/><rect x="941" y="92" width="1" height="53" fill="#ff0000"/><rect x="940" y="114" width="3" height="31" fill="#ff0000"/><rect x="945" y="110" width="1" height="9" fill="#00ff00"/><rect x="944" y="114" width="3" height="5" fill="#00ff00"/><rect x="949" y="100" width="1" height="20" fill="#00ff00"/><rect x="948" y="110" width="3" height="8" fill="#00ff00"/><rect x="953" y="112" width="1" height="20" fill="#00ff00"/><rect x="952" y="114" width="3" height="5" fill="#00ff00"/><rect x="957" y="50" width="1" height="77" fill="#ff0000"/><rect x="956" y="59" width="3" height="58" fill="#ff0000"/><rect x="961" y="59" width="1" height="46" fill="#00ff00"/><rect x="960" y="59" width="3" height="46" fill="#00ff00"/><rect x="965" y="76" width="1" height="34" fill="#ff0000"/><rect x="964" y="94" width="3" height="11" fill="#ff0000"/><rect x="969" y="86" width="1" height="21" fill="#00ff00"/><rect x="968" y="94" width="3" height="13" fill="#00ff00"/><rect x="973" y="111" width="1" height="65" fill="#00ff00"/><rect x="972" y="126" width="3" height="6" fill="#00ff00"/><rect x="977" y="128" width="1" height="48" fill="#00ff00"/><rect x="976" y="130" width="3" height="34" fill="#00ff00"/><rect x="981" y="142" width="1" height="55" fill="#ff0000"/><rect x="980" y="157" width="3" height="8" fill="#ff0000"/><rect x="985" y="134" width="1" height="35" fill="#00ff00"/><rect x="984" y="156" width="3" height="5" fill="#00ff00"/><rect x="989" y="155" width="1" height="66" fill="#00ff00"/><rect x="988" y="158" width="3" height="62" fill="#00ff00"/><rect x="993" y="212" width="1" height="11" fill="#ff0000"/><rect x="992" y="216" width="3" height="3" fill="#ff0000"/><rect x="997" y="197" width="1" height="38" fill="#00ff00"/><rect x="996" y="220" width="3" height="12" fill="#00ff00"/><rect x="1001" y="189" width="1" height="52" fill="#ff0000"/><rect x="1000" y="210" width="3" height="22" fill="#ff0000"/><rect x="1005" y="202" width="1" height="43" fill="#00ff00"/><rect x="1004" y="210" width="3" height="34" fill="#00ff00"/><rect x="1009" y="214" width="1" height="47" fill="#ff0000"/><rect x="1008" y="220" width="3" height="23" fill="#ff0000"/><rect x="1013" y="197" width="1" height="26" fill="#ff0000"/><rect x="1012" y="209" width="3" height="12" fill="#ff0000"/><rect x="1017" y="196" width="1" height="17" fill="#ff0000"/><rect x="1016" y="203" width="3" height="7" fill="#ff0000"/><rect x="1021" y="182" width="1" height="24" fill="#00ff00"/><rect x="1020" y="197" width="3" height="5" fill="#00ff00"/><rect x="1025" y="191" width="1" height="42" fill="#ff0000"/><rect x="1024" y="198" width="3" height="3" fill="#ff0000"/><rect x="1029" y="192" width="1" height="14" fill="#00ff00"/><rect x="1028" y="200" width="3" height="5" fill="#00ff00"/><rect x="1033" y="195" width="1" height="36" fill="#ff0000"/><rect x="1032" y="202" width="3" height="4" fill="#ff0000"/><rect x="1037" y="198" width="1" height="29" fill="#00ff00"/><rect x="1036" y="201" width="3" height="9" fill="#00ff00"/><rect x="1041" y="206" width="1" height="12" fill="#ff0000"/><rect x="1040" y="211" width="3" height="4" fill="#ff0000"/><rect x="1045" y="204" width="1" height="35" fill="#00ff00"/><rect x="1044" y="207" width="3" height="30" fill="#00ff00"/><rect x="1049" y="194" width="1" height="52" fill="#00ff00"/><rect x="1048" y="235" width="3" height="4" fill="#00ff00"/><rect x="1053" y="213" width="1" height="40" fill="#ff0000"/><rect x="1052" y="214" width="3" height="26" fill="#ff0000"/><rect x="1057" y="193" width="1" height="21" fill="#ff0000"/><rect x="1056" y="203" width="3" height="11" fill="#ff0000"/><rect x="1061" y="192" width="1" height="12" fill="#ff0000"/><rect x="1060" y="197" width="3" height="7" fill="#ff0000"/><rect x="1065" y="196" width="1" height="4" fill="#ff0000"/><rect x="1064" y="197" width="3" height="3" fill="#ff0000"/><rect x="1069" y="195" width="1" height="26" fill="#00ff00"/><rect x="1068" y="197" width="3" height="12" fill="#00ff00"/><rect x="1073" y="206" width="1" height="23" fill="#00ff00"/><rect x="1072" y="208" width="3" height="11" fill="#00ff00"/><rect x="1077" y="218" width="1" height="17" fill="#00ff00"/><rect x="1076" y="220" width="3" height="5" fill="#00ff00"/><rect x="1081" y="214" width="1" height="16" fill="#ff0000"/><rect x="1080" y="220" width="3" height="5" fill="#ff0000"/><rect x="1085" y="218" width="1" height="11" fill="#00ff00"/><rect x="1084" y="220" width="3" height="4" fill="#00ff00"/><rect x="1089" y="218" width="1" height="6" fill="#ff0000"/><rect x="1088" y="219" width="3" height="5" fill="#ff0000"/><rect x="1093" y="219" width="1" height="81" fill="#00ff00"/><rect x="1092" y="220" width="3" height="71" fill="#00ff00"/><rect x="1097" y="276" width="1" height="43" fill="#00ff00"/><rect x="1096" y="289" width="3" height="6" fill="#00ff00"/><rect x="1101" y="273" width="1" height="38" fill="#00ff00"/><rect x="1100" y="293" width="3" height="18" fill="#00ff00"/><rect x="1105" y="307" width="1" height="31" fill="#00ff00"/><rect x="1104" y="308" width="3" height="11" fill="#00ff00"/><rect x="1109" y="289" width="1" height="33" fill="#ff0000"/><rect x="1108" y="303" width="3" height="16" fill="#ff0000"/><rect x="1113" y="292" width="1" height="17" fill="#ff0000"/><rect x="1112" y="298" width="3" height="7" fill="#ff0000"/><rect x="1117" y="300" width="1" height="21" fill="#00ff00"/><rect x="1116" y="304" width="3" height="13" fill="#00ff00"/><rect x="1121" y="278" width="1" height="39" fill="#ff0000"/><rect x="1120" y="300" width="3" height="17" fill="#ff0000"/><rect x="1125" y="296" width="1" height="45" fill="#00ff00"/><rect x="1124" y="299" width="3" height="32" fill="#00ff00"/><rect x="1129" y="312" width="1" height="27" fill="#ff0000"/><rect x="1128" y="329" width="3" height="3" fill="#ff0000"/><rect x="1133" y="307" width="1" height="24" fill="#ff0000"/><rect x="1132" y="322" width="3" height="9" fill="#ff0000"/><rect x="1137" y="320" width="1" height="9" fill="#00ff00"/><rect x="1136" y="323" width="3" height="4" fill="#00ff00"/><rect x="1141" y="313" width="1" height="18" fill="#00ff00"/><rect x="1140" y="323" width="3" height="4" fill="#00ff00"/><rect x="1145" y="320" width="1" height="26" fill="#00ff00"/><rect x="1144" y="329" width="3" height="10" fill="#00ff00"/><rect x="1149" y="291" width="1" height="70" fill="#ff0000"/><rect x="1148" y="307" width="3" height="35" fill="#ff0000"/><rect x="1153" y="287" width="1" height="29" fill="#00ff00"/><rect x="1152" y="307" width="3" height="4" fill="#00ff00"/><rect x="1157" y="272" width="1" height="39" fill="#ff0000"/><rect x="1156" y="277" width="3" height="34" fill="#ff0000"/><rect x="1161" y="277" width="1" height="13" fill="#00ff00"/><rect x="1160" y="277" width="3" height="13" fill="#00ff00"/><rect x="1165" y="285" width="1" height="34" fill="#00ff00"/><rect x="1164" y="289" width="3" height="20" fill="#00ff00"/><rect x="1169" y="296" width="1" height="35" fill="#00ff00"/><rect x="1168" y="308" width="3" height="3" fill="#00ff00"/><rect x="1173" y="296" width="1" height="23" fill="#00ff00"/><rect x="1172" y="308" width="3" height="3" fill="#00ff00"/><rect x="1177" y="289" width="1" height="35" fill="#ff0000"/><rect x="1176" y="295" width="3" height="15" fill="#ff0000"/><rect x="1181" y="295" width="1" height="51" fill="#00ff00"/><rect x="1180" y="296" width="3" height="41" fill="#00ff00"/><rect x="1185" y="323" width="1" height="14" fill="#ff0000"/><rect x="1184" y="327" width="3" height="10" fill="#ff0000"/><rect x="1189" y="320" width="1" height="25" fill="#00ff00"/><rect x="1188" y="327" width="3" height="10" fill="#00ff00"/><rect x="1193" y="325" width="1" height="19" fill="#00ff00"/><rect x="1192" y="334" width="3" height="8" fill="#00ff00"/><rect x="1197" y="339" width="1" height="65" fill="#00ff00"/><rect x="1196" y="339" width="3" height="63" fill="#00ff00"/><rect x="1201" y="374" width="1" height="29" fill="#ff0000"/><rect x="1200" y="379" width="3" height="23" fill="#ff0000"/><rect x="1205" y="343" width="1" height="48" fill="#ff0000"/><rect x="1204" y="351" width="3" height="30" fill="#ff0000"/><rect x="1209" y="346" width="1" height="11" fill="#00ff00"/><rect x="1208" y="351" width="3" height="2" fill="#00ff00"/><rect x="1213" y="346" width="1" height="20" fill="#00ff00"/><rect x="1212" y="352" width="3" height="14" fill="#00ff00"/><rect x="1217" y="357" width="1" height="40" fill="#00ff00"/><rect x="1216" y="365" width="3" height="24" fill="#00ff00"/><rect x="1221" y="372" width="1" height="32" fill="#00ff00"/><rect x="1220" y="388" width="3" height="13" fill="#00ff00"/><rect x="1225" y="382" width="1" height="28" fill="#ff0000"/><rect x="1224" y="383" width="3" height="18" fill="#ff0000"/><rect x="1229" y="374" width="1" height="20" fill="#00ff00"/><rect x="1228" y="384" width="3" height="7" fill="#00ff00"/><rect x="1233" y="385" width="1" height="7" fill="#ff0000"/><rect x="1232" y="388" width="3" height="4" fill="#ff0000"/><rect x="1237" y="388" width="1" height="18" fill="#00ff00"/><rect x="1236" y="388" width="3" height="15" fill="#00ff00"/><rect x="1241" y="401" width="1" height="38" fill="#00ff00"/><rect x="1240" y="402" width="3" height="32" fill="#00ff00"/><rect x="1245" y="421" width="1" height="28" fill="#ff0000"/><rect x="1244" y="430" width="3" height="4" fill="#ff0000"/><rect x="1249" y="410" width="1" height="26" fill="#00ff00"/><rect x="1248" y="430" width="3" height="6" fill="#00ff00"/><rect x="1253" y="412" width="1" height="43" fill="#ff0000"/><rect x="1252" y="417" width="3" height="19" fill="#ff0000"/><rect x="1257" y="411" width="1" height="8" fill="#ff0000"/><rect x="1256" y="414" width="3" height="5" fill="#ff0000"/><rect x="1261" y="420" width="1" height="21" fill="#00ff00"/><rect x="1260" y="421" width="3" height="13" fill="#00ff00"/><rect x="1265" y="424" width="1" height="22" fill="#00ff00"/><rect x="1264" y="431" width="3" height="2" fill="#00ff00"/><rect x="1269" y="426" width="1" height="17" fill="#00ff00"/><rect x="1268" y="431" width="3" height="12" fill="#00ff00"/></g>
<g><path d="M5 315h1v2h-1zM6 312h1v3h-1zM7 310h1v2h-1zM8 307h1v3h-1zM9 304h1v3h-1zM10 301h1v3h-1zM11 297h1v4h-1zM12 294h1v3h-1zM13 291h1v3h-1zM14 288h1v3h-1zM15 285h1v3h-1zM16 282h1v3h-1zM17 279h1v3h-1zM18 276h1v3h-1zM19 273h1v3h-1zM20 270h1v3h-1zM21 267h1v3h-1zM22 264h1v3h-1zM23 262h1v2h-1zM24 259h1v3h-1zM25 256h1v3h-1zM26 253h1v3h-1zM27 250h1v3h-1zM28 247h1v3h-1zM29 244h1v3h-1zM30 241h1v3h-1zM31 237h1v4h-1zM32 234h1v3h-1zM33 231h1v3h-1zM34 228h1v3h-1zM35 224h1v4h-1zM36 221h1v3h-1zM37 218h1v3h-1zM38 215h1v3h-1zM39 212h1v3h-1zM40 209h1v3h-1zM41 206h1v3h-1zM42 203h1v3h-1zM43 201h1v2h-1zM44 198h1v3h-1zM45 195h1v3h-1zM46 193h1v2h-1zM47 191h1v2h-1zM48 189h1v2h-1zM49 187h1v2h-1zM50 185h1v2h-1zM51 183h1v2h-1zM52 181h1v2h-1zM53 180h1v1h-1zM54 179h1v1h-1zM55 177h1v2h-1zM56 176h1v1h-1zM57 175h1v1h-1zM58 174h1v1h-1zM59 172h1v2h-1zM60 171h1v1h-1zM61 170h1v1h-1zM62 169h1v1h-1zM63 169h1v1h-1zM64 168h1v1h-1zM65 167h1v1h-1zM66 167h1v1h-1zM67 166h1v1h-1zM68 166h1v1h-1zM69 165h1v1h-1zM70 165h1v1h-1zM71 165h1v1h-1zM72 166h1v1h-1zM73 166h1v1h-1zM74 166h1v1h-1zM75 167h1v1h-1zM76 167h1v1h-1zM77 168h1v1h-1zM78 168h1v1h-1zM79 169h1v1h-1zM80 169h1v1h-1zM81 170h1v1h-1zM82 170h1v1h-1zM83 170h1v1h-1zM84 171h1v1h-1zM85 171h1v1h-1zM86 171h1v1h-1zM87 171h1v1h-1zM88 170h1v1h-1zM89 170h1v1h-1zM90 170h1v1h-1zM91 169h1v1h-1zM92 169h1v1h-1zM93 168h1v1h-1zM94 168h1v1h-1zM95 167h1v1h-1zM96 167h1v1h-1zM97 166h1v1h-1zM98 166h1v1h-1zM99 165h1v1h-1zM100 165h1v1h-1zM101 164h1v1h-1zM102 163h1v1h-1zM103 163h1v1h-1zM104 162h1v1h-1zM105 161h1v1h-1zM106 160h1v1h-1zM107 160h1v1h-1zM108 159h1v1h-1zM109 158h1v1h-1zM110 158h1v1h-1zM111 157h1v1h-1zM112 157h1v1h-1zM113 156h1v1h-1zM114 156h1v1h-1zM115 155h1v1h-1zM116 155h1v1h-1zM117 154h1v1h-1zM118 154h1v1h-1zM119 153h1v1h-1zM120 153h1v1h-1zM121 152h1v1h-1zM122 152h1v1h-1zM123 152h1v1h-1zM124 152h1v1h-1zM125 152h1v1h-1zM126 152h1v1h-1zM127 152h1v1h-1zM128 151h1v1h-1zM129 151h1v1h-1zM130 151h1v1h-1zM131 151h1v1h-1zM132 152h1v1h-1zM133 152h1v1h-1zM134 152h1v1h-1zM135 152h1v1h-1zM136 153h1v1h-1zM137 153h1v1h-1zM138 153h1v1h-1zM139 153h1v1h-1zM140 154h1v1h-1zM141 154h1v1h-1zM142 154h1v1h-1zM143 154h1v1h-1zM144 155h1v1h-1zM145 155h1v1h-1zM146 155h1v1h-1zM147 156h1v1h-1zM148 156h1v1h-1zM149 157h1v1h-1zM150 157h1v1h-1zM151 158h1v1h-1zM152 158h1v1h-1zM153 159h1v1h-1zM154 160h1v1h-1zM155 160h1v1h-1zM156 161h1v1h-1zM157 162h1v1h-1zM158 162h1v1h-1zM159 162h1v1h-1zM160 163h1v1h-1zM161 163h1v1h-1zM162 163h1v1h-1zM163 163h1v1h-1zM164 163h1v1h-1zM165 163h1v1h-1zM166 163h1v1h-1zM167 164h1v1h-1zM168 164h1v1h-1zM169 165h1v1h-1zM170 165h1v1h-1zM171 165h1v1h-1zM172 166h1v1h-1zM173 166h1v1h-1zM174 166h1v1h-1zM175 166h1v1h-1zM176 167h1v1h-1zM177 167h1v1h-1zM178 168h1v1h-1zM179 168h1v1h-1zM180 169h1v1h-1zM181 170h1v1h-1zM182 170h1v1h-1zM183 170h1v1h-1zM184 171h1v1h-1zM185 171h1v1h-1zM186 171h1v1h-1zM187 171h1v1h-1zM188 171h1v1h-1zM189 171h1v1h-1zM190 171h1v1h-1zM191 171h1v1h-1zM192 170h1v1h-1zM193 170h1v1h-1zM194 170h1v1h-1zM195 169h1v1h-1zM196 169h1v1h-1zM197 168h1v1h-1zM198 168h1v1h-1zM199 168h1v1h-1zM200 167h1v1h-1zM201 167h1v1h-1zM202 167h1v1h-1zM203 167h1v1h-1zM204 167h1v1h-1zM205 167h1v1h-1zM206 167h1v1h-1zM207 167h1v1h-1zM208 167h1v1h-1zM209 167h1v1h-1zM210 167h1v1h-1zM211 167h1v1h-1zM212 168h1v1h-1zM213 168h1v1h-1zM214 168h1v1h-1zM215 168h1v1h-1zM216 169h1v1h-1zM217 169h1v1h-1zM218 169h1v1h-1zM219 170h1v1h-1zM220 170h1v1h-1zM221 171h1v1h-1zM222 172h1v1h-1zM223 172h1v1h-1zM224 173h1v1h-1zM225 174h1v1h-1zM226 174h1v1h-1zM227 175h1v1h-1zM228 175h1v1h-1zM229 176h1v1h-1zM230 176h1v1h-1zM231 177h1v1h-1zM232 177h1v1h-1zM233 178h1v1h-1zM234 179h1v1h-1zM235 180h1v1h-1zM236 181h1v1h-1zM237 182h1v1h-1zM238 183h1v1h-1zM239 183h1v1h-1zM240 184h1v1h-1zM241 185h1v1h-1zM242 186h1v1h-1zM243 187h1v2h-1zM244 189h1v1h-1zM245 190h1v1h-1zM246 191h1v1h-1zM247 192h1v1h-1zM248 193h1v1h-1zM249 194h1v1h-1zM250 195h1v2h-1zM251 197h1v1h-1zM252 198h1v2h-1zM253 200h1v1h-1zM254 201h1v2h-1zM255 203h1v1h-1zM256 204h1v2h-1zM257 206h1v1h-1zM258 207h1v2h-1zM259 209h1v2h-1zM260 211h1v2h-1zM261 213h1v1h-1zM262 214h1v2h-1zM263 216h1v2h-1zM264 218h1v2h-1zM265 220h1v1h-1zM266 221h1v1h-1zM267 222h1v2h-1zM268 224h1v1h-1zM269 225h1v1h-1zM270 226h1v1h-1zM271 227h1v2h-1zM272 229h1v1h-1zM273 230h1v1h-1zM274 231h1v1h-1zM275 232h1v2h-1zM276 234h1v1h-1zM277 235h1v1h-1zM278 236h1v2h-1zM279 238h1v2h-1zM280 240h1v2h-1zM281 242h1v1h-1zM282 243h1v1h-1zM283 244h1v2h-1zM284 246h1v1h-1zM285 247h1v1h-1zM286 248h1v1h-1zM287 248h1v1h-1zM288 249h1v1h-1zM289 250h1v1h-1zM290 251h1v1h-1zM291 252h1v1h-1zM292 253h1v1h-1zM293 254h1v1h-1zM294 255h1v1h-1zM295 255h1v1h-1zM296 256h1v1h-1zM297 257h1v1h-1zM298 257h1v1h-1zM299 258h1v1h-1zM300 258h1v1h-1zM301 259h1v1h-1zM302 259h1v1h-1zM303 260h1v1h-1zM304 260h1v1h-1zM305 261h1v1h-1zM306 262h1v1h-1zM307 262h1v1h-1zM308 263h1v1h-1zM309 264h1v1h-1zM310 264h1v1h-1zM311 265h1v1h-1zM312 265h1v1h-1zM313 266h1v1h-1zM314 266h1v1h-1zM315 267h1v1h-1zM316 267h1v1h-1zM317 268h1v1h-1zM318 268h1v1h-1zM319 268h1v1h-1zM320 269h1v1h-1zM321 269h1v1h-1zM322 269h1v1h-1zM323 270h1v1h-1zM324 270h1v1h-1zM325 271h1v1h-1zM326 271h1v1h-1zM327 272h1v1h-1zM328 272h1v1h-1zM329 273h1v1h-1zM330 273h1v1h-1zM331 274h1v1h-1zM332 274h1v1h-1zM333 275h1v1h-1zM334 275h1v1h-1zM335 276h1v1h-1zM336 276h1v1h-1zM337 277h1v1h-1zM338 277h1v1h-1zM339 277h1v1h-1zM340 278h1v1h-1zM341 278h1v1h-1zM342 278h1v1h-1zM343 278h1v1h-1zM344 279h1v1h-1zM345 279h1v1h-1zM346 279h1v1h-1zM347 279h1v1h-1zM348 280h1v1h-1zM349 280h1v1h-1zM350 280h1v1h-1zM351 280h1v1h-1zM352 279h1v1h-1zM353 279h1v1h-1zM354 279h1v1h-1zM355 279h1v1h-1zM356 279h1v1h-1zM357 279h1v1h-1zM358 279h1v1h-1zM359 279h1v1h-1zM360 279h1v1h-1zM361 279h1v1h-1zM362 279h1v1h-1zM363 279h1v1h-1zM364 280h1v1h-1zM365 280h1v1h-1zM366 280h1v1h-1zM367 280h1v1h-1zM368 280h1v1h-1zM369 280h1v1h-1zM370 280h1v1h-1zM371 280h1v1h-1zM372 280h1v1h-1zM373 280h1v1h-1zM374 280h1v1h-1zM375 280h1v1h-1zM376 279h1v1h-1zM377 279h1v1h-1zM378 279h1v1h-1zM379 278h1v1h-1zM380 278h1v1h-1zM381 277h1v1h-1zM382 277h1v1h-1zM383 277h1v1h-1zM384 277h1v1h-1zM385 277h1v1h-1zM386 277h1v1h-1zM387 277h1v1h-1zM388 276h1v1h-1zM389 276h1v1h-1zM390 276h1v1h-1zM391 276h1v1h-1zM392 275h1v1h-1zM393 275h1v1h-1zM394 275h1v1h-1zM395 275h1v1h-1zM396 276h1v1h-1zM397 276h1v1h-1zM398 276h1v1h-1zM399 276h1v1h-1zM400 277h1v1h-1zM401 277h1v1h-1zM402 277h1v1h-1zM403 277h1v1h-1zM404 278h1v1h-1zM405 278h1v1h-1zM406 278h1v1h-1zM407 278h1v1h-1zM408 279h1v1h-1zM409 279h1v1h-1zM410 279h1v1h-1zM411 279h1v1h-1zM412 280h1v1h-1zM413 280h1v1h-1zM414 280h1v1h-1zM415 280h1v1h-1zM416 280h1v1h-1zM417 280h1v1h-1zM418 280h1v1h-1zM419 280h1v1h-1zM420 280h1v1h-1zM421 280h1v1h-1zM422 280h1v1h-1zM423 281h1v1h-1zM424 281h1v1h-1zM425 282h1v1h-1zM426 282h1v1h-1zM427 282h1v1h-1zM428 283h1v1h-1zM429 283h1v1h-1zM430 283h1v1h-1zM431 284h1v1h-1zM432 284h1v1h-1zM433 285h1v1h-1zM434 285h1v1h-1zM435 286h1v1h-1zM436 286h1v1h-1zM437 287h1v1h-1zM438 288h1v1h-1zM439 288h1v1h-1zM440 289h1v1h-1zM441 290h1v1h-1zM442 290h1v1h-1zM443 291h1v1h-1zM444 291h1v1h-1zM445 292h1v1h-1zM446 293h1v1h-1zM447 293h1v1h-1zM448 294h1v1h-1zM449 295h1v1h-1zM450 295h1v1h-1zM451 296h1v1h-1zM452 296h1v1h-1zM453 297h1v1h-1zM454 298h1v1h-1zM455 299h1v1h-1zM456 300h1v1h-1zM457 301h1v1h-1zM458 302h1v1h-1zM459 302h1v1h-1zM460 303h1v1h-1zM461 304h1v1h-1zM462 305h1v1h-1zM463 305h1v1h-1zM464 306h1v1h-1zM465 307h1v1h-1zM466 308h1v1h-1zM467 308h1v1h-1zM468 309h1v1h-1zM469 310h1v1h-1zM470 311h1v2h-1zM471 313h1v1h-1zM472 314h1v2h-1zM473 316h1v1h-1zM474 317h1v1h-1zM475 318h1v1h-1zM476 319h1v1h-1zM477 320h1v1h-1zM478 321h1v1h-1zM479 322h1v2h-1zM480 324h1v1h-1zM481 325h1v1h-1zM482 326h1v2h-1zM483 328h1v1h-1zM484 329h1v2h-1zM485 331h1v1h-1zM486 332h1v1h-1zM487 333h1v2h-1zM488 335h1v1h-1zM489 336h1v1h-1zM490 337h1v2h-1zM491 339h1v1h-1zM492 340h1v2h-1zM493 342h1v1h-1zM494 343h1v2h-1zM495 345h1v2h-1zM496 347h1v2h-1zM497 349h1v1h-1zM498 350h1v2h-1zM499 352h1v1h-1zM500 353h1v2h-1zM501 355h1v1h-1zM502 356h1v1h-1zM503 357h1v2h-1zM504 359h1v1h-1zM505 360h1v1h-1zM506 361h1v2h-1zM507 363h1v2h-1zM508 365h1v2h-1zM509 367h1v1h-1zM510 368h1v2h-1zM511 370h1v1h-1zM512 371h1v2h-1zM513 373h1v1h-1zM514 374h1v1h-1zM515 375h1v2h-1zM516 377h1v1h-1zM517 378h1v1h-1zM518 379h1v1h-1zM519 380h1v1h-1zM520 381h1v1h-1zM521 382h1v1h-1zM522 383h1v1h-1zM523 384h1v1h-1zM524 385h1v1h-1zM525 386h1v1h-1zM526 387h1v1h-1zM527 387h1v1h-1zM528 388h1v1h-1zM529 389h1v1h-1zM530 390h1v1h-1zM531 390h1v1h-1zM532 391h1v1h-1zM533 392h1v1h-1zM534 393h1v1h-1zM535 393h1v1h-1zM536 394h1v1h-1zM537 395h1v1h-1zM538 395h1v1h-1zM539 395h1v1h-1zM540 396h1v1h-1zM541 396h1v1h-1zM542 396h1v1h-1zM543 396h1v1h-1zM544 397h1v1h-1zM545 397h1v1h-1zM546 397h1v1h-1zM547 398h1v1h-1zM548 398h1v1h-1zM549 399h1v1h-1zM550 399h1v1h-1zM551 399h1v1h-1zM552 398h1v1h-1zM553 398h1v1h-1zM554 398h1v1h-1zM555 398h1v1h-1zM556 398h1v1h-1zM557 398h1v1h-1zM558 398h1v1h-1zM559 398h1v1h-1zM560 397h1v1h-1zM561 397h1v1h-1zM562 397h1v1h-1zM563 397h1v1h-1zM564 396h1v1h-1zM565 396h1v1h-1zM566 396h1v1h-1zM567 395h1v1h-1zM568 395h1v1h-1zM569 394h1v1h-1zM570 394h1v1h-1zM571 394h1v1h-1zM572 394h1v1h-1zM573 394h1v1h-1zM574 394h1v1h-1zM575 394h1v1h-1zM576 393h1v1h-1zM577 393h1v1h-1zM578 393h1v1h-1zM579 392h1v1h-1zM580 392h1v1h-1zM581 391h1v1h-1zM582 391h1v1h-1zM583 390h1v1h-1zM584 390h1v1h-1zM585 389h1v1h-1zM586 389h1v1h-1zM587 389h1v1h-1zM588 388h1v1h-1zM589 388h1v1h-1zM590 388h1v1h-1zM591 388h1v1h-1zM592 387h1v1h-1zM593 387h1v1h-1zM594 387h1v1h-1zM595 387h1v1h-1zM596 386h1v1h-1zM597 386h1v1h-1zM598 386h1v1h-1zM599 385h1v1h-1zM600 385h1v1h-1zM601 384h1v1h-1zM602 383h1v1h-1zM603 382h1v1h-1zM604 381h1v1h-1zM605 380h1v1h-1zM606 379h1v1h-1zM607 378h1v1h-1zM608 377h1v1h-1zM609 376h1v1h-1zM610 375h1v1h-1zM611 374h1v1h-1zM612 373h1v1h-1zM613 372h1v1h-1zM614 371h1v1h-1zM615 369h1v2h-1zM616 368h1v1h-1zM617 367h1v1h-1zM618 366h1v1h-1zM619 364h1v2h-1zM620 363h1v1h-1zM621 361h1v2h-1zM622 359h1v2h-1zM623 357h1v2h-1zM624 355h1v2h-1zM625 353h1v2h-1zM626 351h1v2h-1zM627 349h1v2h-1zM628 347h1v2h-1zM629 346h1v1h-1zM630 344h1v2h-1zM631 342h1v2h-1zM632 340h1v2h-1zM633 339h1v1h-1zM634 337h1v2h-1zM635 335h1v2h-1zM636 333h1v2h-1zM637 332h1v1h-1zM638 331h1v1h-1zM639 329h1v2h-1zM640 328h1v1h-1zM641 327h1v1h-1zM642 325h1v2h-1zM643 324h1v1h-1zM644 322h1v2h-1zM645 321h1v1h-1zM646 320h1v1h-1zM647 320h1v1h-1zM648 319h1v1h-1zM649 318h1v1h-1zM650 318h1v1h-1zM651 317h1v1h-1zM652 317h1v1h-1zM653 316h1v1h-1zM654 316h1v1h-1zM655 315h1v1h-1zM656 315h1v1h-1zM657 314h1v1h-1zM658 314h1v1h-1zM659 314h1v1h-1zM660 315h1v1h-1zM661 315h1v1h-1zM662 315h1v1h-1zM663 315h1v1h-1zM664 316h1v1h-1zM665 316h1v1h-1zM666 316h1v1h-1zM667 317h1v1h-1zM668 317h1v1h-1zM669 318h1v1h-1zM670 319h1v1h-1zM671 319h1v1h-1zM672 320h1v1h-1zM673 321h1v1h-1zM674 322h1v1h-1zM675 322h1v1h-1zM676 323h1v1h-1zM677 324h1v1h-1zM678 325h1v1h-1zM679 325h1v1h-1zM680 326h1v1h-1zM681 327h1v1h-1zM682 328h1v1h-1zM683 328h1v1h-1zM684 329h1v1h-1zM685 330h1v1h-1zM686 330h1v1h-1zM687 330h1v1h-1zM688 331h1v1h-1zM689 331h1v1h-1zM690 331h1v1h-1zM691 331h1v1h-1zM692 332h1v1h-1zM693 332h1v1h-1zM694 331h1v1h-1zM695 331h1v1h-1zM696 330h1v1h-1zM697 329h1v1h-1zM698 329h1v1h-1zM699 329h1v1h-1zM700 328h1v1h-1zM701 328h1v1h-1zM702 328h1v1h-1zM703 328h1v1h-1zM704 327h1v1h-1zM705 327h1v1h-1zM706 327h1v1h-1zM707 327h1v1h-1zM708 327h1v1h-1zM709 327h1v1h-1zM710 326h1v1h-1zM711 326h1v1h-1zM712 325h1v1h-1zM713 324h1v1h-1zM714 323h1v1h-1zM715 321h1v2h-1zM716 320h1v1h-1zM717 319h1v1h-1zM718 317h1v2h-1zM719 315h1v2h-1zM720 313h1v2h-1zM721 312h1v1h-1zM722 310h1v2h-1zM723 309h1v1h-1zM724 307h1v2h-1zM725 306h1v1h-1zM726 304h1v2h-1zM727 303h1v1h-1zM728 301h1v2h-1zM729 300h1v1h-1zM730 298h1v2h-1zM731 296h1v2h-1zM732 294h1v2h-1zM733 293h1v1h-1zM734 292h1v1h-1zM735 292h1v1h-1zM736 291h1v1h-1zM737 290h1v1h-1zM738 288h1v2h-1zM739 287h1v1h-1zM740 285h1v2h-1zM741 284h1v1h-1zM742 284h1v1h-1zM743 283h1v1h-1zM744 283h1v1h-1zM745 282h1v1h-1zM746 281h1v1h-1zM747 281h1v1h-1zM748 280h1v1h-1zM749 279h1v1h-1zM750 279h1v1h-1zM751 278h1v1h-1zM752 278h1v1h-1zM753 277h1v1h-1zM754 276h1v1h-1zM755 275h1v1h-1zM756 274h1v1h-1zM757 273h1v1h-1zM758 272h1v1h-1zM759 272h1v1h-1zM760 271h1v1h-1zM761 270h1v1h-1zM762 269h1v1h-1zM763 268h1v1h-1zM764 267h1v1h-1zM765 266h1v1h-1zM766 265h1v1h-1zM767 265h1v1h-1zM768 264h1v1h-1zM769 263h1v1h-1zM770 261h1v2h-1zM771 260h1v1h-1zM772 258h1v2h-1zM773 257h1v1h-1zM774 255h1v2h-1zM775 254h1v1h-1zM776 252h1v2h-1zM777 251h1v1h-1zM778 249h1v2h-1zM779 248h1v1h-1zM780 246h1v2h-1zM781 245h1v1h-1zM782 243h1v2h-1zM783 242h1v1h-1zM784 240h1v2h-1zM785 239h1v1h-1zM786 237h1v2h-1zM787 236h1v1h-1zM788 234h1v2h-1zM789 233h1v1h-1zM790 232h1v1h-1zM791 230h1v2h-1zM792 229h1v1h-1zM793 228h1v1h-1zM794 227h1v1h-1zM795 225h1v2h-1zM796 224h1v1h-1zM797 223h1v1h-1zM798 222h1v1h-1zM799 220h1v2h-1zM800 219h1v1h-1zM801 218h1v1h-1zM802 217h1v1h-1zM803 215h1v2h-1zM804 214h1v1h-1zM805 213h1v1h-1zM806 212h1v1h-1zM807 211h1v1h-1zM808 210h1v1h-1zM809 209h1v1h-1zM810 208h1v1h-1zM811 206h1v2h-1zM812 205h1v1h-1zM813 204h1v1h-1zM814 204h1v1h-1zM815 203h1v1h-1zM816 203h1v1h-1zM817 202h1v1h-1zM818 202h1v1h-1zM819 201h1v1h-1zM820 201h1v1h-1zM821 200h1v1h-1zM822 200h1v1h-1zM823 199h1v1h-1zM824 199h1v1h-1zM825 198h1v1h-1zM826 197h1v1h-1zM827 196h1v1h-1zM828 195h1v1h-1zM829 194h1v1h-1zM830 193h1v1h-1zM831 193h1v1h-1zM832 192h1v1h-1zM833 191h1v1h-1zM834 191h1v1h-1zM835 191h1v1h-1zM836 190h1v1h-1zM837 190h1v1h-1zM838 191h1v1h-1zM839 191h1v1h-1zM840 192h1v1h-1zM841 193h1v1h-1zM842 193h1v1h-1zM843 194h1v1h-1zM844 194h1v1h-1zM845 195h1v1h-1zM846 195h1v1h-1zM847 195h1v1h-1zM848 196h1v1h-1zM849 196h1v1h-1zM850 196h1v1h-1zM851 197h1v1h-1zM852 197h1v1h-1zM853 198h1v1h-1zM854 198h1v1h-1zM855 198h1v1h-1zM856 198h1v1h-1zM857 198h1v1h-1zM858 198h1v1h-1zM859 199h1v1h-1zM860 199h1v1h-1zM861 200h1v1h-1zM862 200h1v1h-1zM863 200h1v1h-1zM864 201h1v1h-1zM865 201h1v1h-1zM866 201h1v1h-1zM867 200h1v1h-1zM868 200h1v1h-1zM869 199h1v1h-1zM870 199h1v1h-1zM871 198h1v1h-1zM872 198h1v1h-1zM873 197h1v1h-1zM874 197h1v1h-1zM875 197h1v1h-1zM876 196h1v1h-1zM877 196h1v1h-1zM878 196h1v1h-1zM879 196h1v1h-1zM880 195h1v1h-1zM881 195h1v1h-1zM882 195h1v1h-1zM883 195h1v1h-1zM884 194h1v1h-1zM885 194h1v1h-1zM886 194h1v1h-1zM887 194h1v1h-1zM888 194h1v1h-1zM889 194h1v1h-1zM890 194h1v1h-1zM891 194h1v1h-1zM892 195h1v1h-1zM893 195h1v1h-1zM894 195h1v1h-1zM895 195h1v1h-1zM896 196h1v1h-1zM897 196h1v1h-1zM898 196h1v1h-1zM899 196h1v1h-1zM900 196h1v1h-1zM901 196h1v1h-1zM902 196h1v1h-1zM903 195h1v1h-1zM904 195h1v1h-1zM905 194h1v1h-1zM906 194h1v1h-1zM907 193h1v1h-1zM908 193h1v1h-1zM909 192h1v1h-1zM910 191h1v1h-1zM911 191h1v1h-1zM912 190h1v1h-1zM913 189h1v1h-1zM914 188h1v1h-1zM915 187h1v1h-1zM916 186h1v1h-1zM917 185h1v1h-1zM918 184h1v1h-1zM919 183h1v1h-1zM920 182h1v1h-1zM921 181h1v1h-1zM922 180h1v1h-1zM923 180h1v1h-1zM924 179h1v1h-1zM925 178h1v1h-1zM926 177h1v1h-1zM927 177h1v1h-1zM928 176h1v1h-1zM929 175h1v1h-1zM930 175h1v1h-1zM931 175h1v1h-1zM932 174h1v1h-1zM933 174h1v1h-1zM934 174h1v1h-1zM935 173h1v1h-1zM936 173h1v1h-1zM937 172h1v1h-1zM938 171h1v1h-1zM939 171h1v1h-1zM940 170h1v1h-1zM941 169h1v1h-1zM942 168h1v1h-1zM943 168h1v1h-1zM944 167h1v1h-1zM945 166h1v1h-1zM946 165h1v1h-1zM947 165h1v1h-1zM948 164h1v1h-1zM949 163h1v1h-1zM950 163h1v1h-1zM951 162h1v1h-1zM952 162h1v1h-1zM953 161h1v1h-1zM954 160h1v1h-1zM955 159h1v1h-1zM956 158h1v1h-1zM957 157h1v1h-1zM958 156h1v1h-1zM959 156h1v1h-1zM960 155h1v1h-1zM961 154h1v1h-1zM962 153h1v1h-1zM963 153h1v1h-1zM964 152h1v1h-1zM965 151h1v1h-1zM966 150h1v1h-1zM967 150h1v1h-1zM968 149h1v1h-1zM969 148h1v1h-1zM970 148h1v1h-1zM971 147h1v1h-1zM972 147h1v1h-1zM973 146h1v1h-1zM974 146h1v1h-1zM975 146h1v1h-1zM976 145h1v1h-1zM977 145h1v1h-1zM978 145h1v1h-1zM979 145h1v1h-1zM980 144h1v1h-1zM981 144h1v1h-1zM982 144h1v1h-1zM983 143h1v1h-1zM984 143h1v1h-1zM985 142h1v1h-1zM986 143h1v1h-1zM987 143h1v1h-1zM988 144h1v1h-1zM989 145h1v1h-1zM990 146h1v1h-1zM991 146h1v1h-1zM992 147h1v1h-1zM993 148h1v1h-1zM994 149h1v1h-1zM995 149h1v1h-1zM996 150h1v1h-1zM997 151h1v1h-1zM998 151h1v1h-1zM999 152h1v1h-1zM1000 152h1v1h-1zM1001 153h1v1h-1zM1002 154h1v1h-1zM1003 154h1v1h-1zM1004 155h1v1h-1zM1005 156h1v1h-1zM1006 156h1v1h-1zM1007 156h1v1h-1zM1008 157h1v1h-1zM1009 157h1v1h-1zM1010 157h1v1h-1zM1011 157h1v1h-1zM1012 158h1v1h-1zM1013 158h1v1h-1zM1014 158h1v1h-1zM1015 158h1v1h-1zM1016 158h1v1h-1zM1017 158h1v1h-1zM1018 158h1v1h-1zM1019 159h1v1h-1zM1020 159h1v1h-1zM1021 160h1v1h-1zM1022 160h1v1h-1zM1023 160h1v1h-1zM1024 160h1v1h-1zM1025 160h1v1h-1zM1026 160h1v1h-1zM1027 161h1v1h-1zM1028 161h1v1h-1zM1029 162h1v1h-1zM1030 162h1v1h-1zM1031 162h1v1h-1zM1032 163h1v1h-1zM1033 163h1v1h-1zM1034 164h1v1h-1zM1035 164h1v1h-1zM1036 165h1v1h-1zM1037 166h1v1h-1zM1038 166h1v1h-1zM1039 167h1v1h-1zM1040 167h1v1h-1zM1041 168h1v1h-1zM1042 169h1v1h-1zM1043 169h1v1h-1zM1044 170h1v1h-1zM1045 171h1v1h-1zM1046 172h1v1h-1zM1047 172h1v1h-1zM1048 173h1v1h-1zM1049 174h1v1h-1zM1050 174h1v1h-1zM1051 174h1v1h-1zM1052 175h1v1h-1zM1053 175h1v1h-1zM1054 175h1v1h-1zM1055 176h1v1h-1zM1056 176h1v1h-1zM1057 177h1v1h-1zM1058 178h1v1h-1zM1059 178h1v1h-1zM1060 179h1v1h-1zM1061 180h1v1h-1zM1062 180h1v1h-1zM1063 181h1v1h-1zM1064 181h1v1h-1zM1065 182h1v1h-1zM1066 183h1v1h-1zM1067 183h1v1h-1zM1068 184h1v1h-1zM1069 185h1v1h-1zM1070 186h1v1h-1zM1071 187h1v1h-1zM1072 188h1v1h-1zM1073 189h1v1h-1zM1074 190h1v1h-1zM1075 191h1v2h-1zM1076 193h1v1h-1zM1077 194h1v1h-1zM1078 195h1v1h-1zM1079 196h1v1h-1zM1080 197h1v1h-1zM1081 198h1v1h-1zM1082 199h1v1h-1zM1083 200h1v1h-1zM1084 201h1v1h-1zM1085 202h1v1h-1zM1086 203h1v1h-1zM1087 204h1v1h-1zM1088 205h1v1h-1zM1089 206h1v1h-1zM1090 207h1v1h-1zM1091 208h1v2h-1zM1092 210h1v1h-1zM1093 211h1v1h-1zM1094 212h1v1h-1zM1095 213h1v2h-1zM1096 215h1v1h-1zM1097 216h1v1h-1zM1098 217h1v1h-1zM1099 218h1v2h-1zM1100 220h1v1h-1zM1101 221h1v1h-1zM1102 222h1v1h-1zM1103 223h1v2h-1zM1104 225h1v1h-1zM1105 226h1v1h-1zM1106 227h1v1h-1zM1107 227h1v1h-1zM1108 228h1v1h-1zM1109 229h1v1h-1zM1110 230h1v1h-1zM1111 230h1v1h-1zM1112 231h1v1h-1zM1113 232h1v1h-1zM1114 233h1v1h-1zM1115 233h1v1h-1zM1116 234h1v1h-1zM1117 235h1v1h-1zM1118 236h1v1h-1zM1119 236h1v1h-1zM1120 237h1v1h-1zM1121 238h1v1h-1zM1122 238h1v1h-1zM1123 239h1v1h-1zM1124 239h1v1h-1zM1125 240h1v1h-1zM1126 241h1v1h-1zM1127 242h1v1h-1zM1128 243h1v1h-1zM1129 244h1v1h-1zM1130 245h1v1h-1zM1131 246h1v1h-1zM1132 247h1v1h-1zM1133 248h1v1h-1zM1134 249h1v1h-1zM1135 250h1v1h-1zM1136 251h1v1h-1zM1137 252h1v1h-1zM1138 253h1v1h-1zM1139 254h1v1h-1zM1140 255h1v1h-1zM1141 256h1v1h-1zM1142 257h1v1h-1zM1143 258h1v2h-1zM1144 260h1v1h-1zM1145 261h1v1h-1zM1146 262h1v1h-1zM1147 262h1v1h-1zM1148 263h1v1h-1zM1149 264h1v1h-1zM1150 265h1v1h-1zM1151 266h1v1h-1zM1152 267h1v1h-1zM1153 268h1v1h-1zM1154 268h1v1h-1zM1155 269h1v1h-1zM1156 269h1v1h-1zM1157 270h1v1h-1zM1158 271h1v1h-1zM1159 271h1v1h-1zM1160 272h1v1h-1zM1161 273h1v1h-1zM1162 273h1v1h-1zM1163 274h1v1h-1zM1164 274h1v1h-1zM1165 275h1v1h-1zM1166 275h1v1h-1zM1167 276h1v1h-1zM1168 276h1v1h-1zM1169 277h1v1h-1zM1170 278h1v1h-1zM1171 279h1v1h-1zM1172 280h1v1h-1zM1173 281h1v1h-1zM1174 282h1v1h-1zM1175 282h1v1h-1zM1176 283h1v1h-1zM1177 284h1v1h-1zM1178 285h1v1h-1zM1179 286h1v1h-1zM1180 287h1v1h-1zM1181 288h1v1h-1zM1182 289h1v1h-1zM1183 290h1v2h-1zM1184 292h1v1h-1zM1185 293h1v1h-1zM1186 294h1v1h-1zM1187 295h1v1h-1zM1188 296h1v1h-1zM1189 297h1v1h-1zM1190 298h1v1h-1zM1191 299h1v1h-1zM1192 300h1v1h-1zM1193 301h1v1h-1zM1194 302h1v2h-1zM1195 304h1v1h-1zM1196 305h1v2h-1zM1197 307h1v1h-1zM1198 308h1v1h-1zM1199 309h1v2h-1zM1200 311h1v1h-1zM1201 312h1v1h-1zM1202 313h1v1h-1zM1203 314h1v2h-1zM1204 316h1v1h-1zM1205 317h1v1h-1zM1206 318h1v1h-1zM1207 319h1v1h-1zM1208 320h1v1h-1zM1209 321h1v1h-1zM1210 321h1v1h-1zM1211 322h1v1h-1zM1212 322h1v1h-1zM1213 323h1v1h-1zM1214 324h1v1h-1zM1215 325h1v1h-1zM1216 326h1v1h-1zM1217 327h1v1h-1zM1218 328h1v1h-1zM1219 328h1v1h-1zM1220 329h1v1h-1zM1221 330h1v1h-1zM1222 330h1v1h-1zM1223 331h1v1h-1zM1224 331h1v1h-1zM1225 332h1v1h-1zM1226 333h1v1h-1zM1227 333h1v1h-1zM1228 334h1v1h-1zM1229 335h1v1h-1zM1230 336h1v1h-1zM1231 336h1v1h-1zM1232 337h1v1h-1zM1233 338h1v1h-1zM1234 339h1v1h-1zM1235 339h1v1h-1zM1236 340h1v1h-1zM1237 341h1v1h-1zM1238 342h1v1h-1zM1239 343h1v1h-1zM1240 344h1v1h-1zM1241 345h1v1h-1zM1242 346h1v1h-1zM1243 346h1v1h-1zM1244 347h1v1h-1zM1245 348h1v1h-1zM1246 349h1v1h-1zM1247 350h1v1h-1zM1248 351h1v1h-1zM1249 352h1v1h-1zM1250 353h1v1h-1zM1251 353h1v1h-1zM1252 354h1v1h-1zM1253 355h1v1h-1zM1254 356h1v1h-1zM1255 356h1v1h-1zM1256 357h1v1h-1zM1257 358h1v1h-1zM1258 359h1v1h-1zM1259 360h1v1h-1zM1260 361h1v1h-1zM1261 362h1v1h-1zM1262 363h1v1h-1zM1263 363h1v1h-1zM1264 364h1v1h-1zM1265 365h1v1h-1zM1266 366h1v1h-1zM1267 367h1v1h-1zM1268 368h1v1h-1zM1269 369h1v1h-1z" fill="#0000cd"/><path d="M5 217h1v1h-1zM6 216h1v1h-1zM7 214h1v2h-1zM8 213h1v1h-1zM9 211h1v2h-1zM10 209h1v2h-1zM11 207h1v2h-1zM12 205h1v2h-1zM13 204h1v1h-1zM14 202h1v2h-1zM15 200h1v2h-1zM16 198h1v2h-1zM17 196h1v2h-1zM18 194h1v2h-1zM19 192h1v2h-1zM20 190h1v2h-1zM21 187h1v3h-1zM22 185h1v2h-1zM23 183h1v2h-1zM24 181h1v2h-1zM25 179h1v2h-1zM26 176h1v3h-1zM27 174h1v2h-1zM28 171h1v3h-1zM29 168h1v3h-1zM30 165h1v3h-1zM31 163h1v2h-1zM32 160h1v3h-1zM33 157h1v3h-1zM34 153h1v4h-1zM35 150h1v3h-1zM36 146h1v4h-1zM37 143h1v3h-1zM38 140h1v3h-1zM39 136h1v4h-1zM40 133h1v3h-1zM41 130h1v3h-1zM42 128h1v2h-1zM43 126h1v2h-1zM44 124h1v2h-1zM45 122h1v2h-1zM46 120h1v2h-1zM47 119h1v1h-1zM48 117h1v2h-1zM49 116h1v1h-1zM50 115h1v1h-1zM51 115h1v1h-1zM52 114h1v1h-1zM53 113h1v1h-1zM54 113h1v1h-1zM55 113h1v1h-1zM56 112h1v1h-1zM57 112h1v1h-1zM58 112h1v1h-1zM59 112h1v1h-1zM60 113h1v1h-1zM61 113h1v1h-1zM62 114h1v1h-1zM63 114h1v1h-1zM64 115h1v1h-1zM65 116h1v1h-1zM66 117h1v1h-1zM67 118h1v2h-1zM68 120h1v1h-1zM69 121h1v2h-1zM70 123h1v2h-1zM71 125h1v2h-1zM72 127h1v2h-1zM73 129h1v3h-1zM74 132h1v3h-1zM75 135h1v4h-1zM76 139h1v3h-1zM77 142h1v3h-1zM78 145h1v2h-1zM79 147h1v3h-1zM80 150h1v2h-1zM81 152h1v3h-1zM82 155h1v2h-1zM83 157h1v2h-1zM84 159h1v2h-1zM85 161h1v3h-1zM86 164h1v2h-1zM87 166h1v2h-1zM88 168h1v2h-1zM89 170h1v2h-1zM90 172h1v2h-1zM91 174h1v3h-1zM92 177h1v2h-1zM93 179h1v3h-1zM94 182h1v2h-1zM95 184h1v2h-1zM96 186h1v2h-1zM97 188h1v1h-1zM98 189h1v1h-1zM99 190h1v2h-1zM100 192h1v1h-1zM101 193h1v1h-1zM102 194h1v1h-1zM103 194h1v1h-1zM104 195h1v1h-1zM105 196h1v1h-1zM106 196h1v1h-1zM107 196h1v1h-1zM108 195h1v1h-1zM109 195h1v1h-1zM110 195h1v1h-1zM111 195h1v1h-1zM112 194h1v1h-1zM113 194h1v1h-1zM114 194h1v1h-1zM115 194h1v1h-1zM116 193h1v1h-1zM117 193h1v1h-1zM118 193h1v1h-1zM119 192h1v1h-1zM120 192h1v1h-1zM121 191h1v1h-1zM122 190h1v1h-1zM123 190h1v1h-1zM124 189h1v1h-1zM125 188h1v1h-1zM126 186h1v2h-1zM127 184h1v2h-1zM128 182h1v2h-1zM129 180h1v2h-1zM130 177h1v3h-1zM131 175h1v2h-1zM132 172h1v3h-1zM133 169h1v3h-1zM134 167h1v2h-1zM135 164h1v3h-1zM136 162h1v2h-1zM137 159h1v3h-1zM138 157h1v2h-1zM139 155h1v2h-1zM140 153h1v2h-1zM141 152h1v1h-1zM142 151h1v1h-1zM143 150h1v1h-1zM144 149h1v1h-1zM145 148h1v1h-1zM146 147h1v1h-1zM147 147h1v1h-1zM148 146h1v1h-1zM149 145h1v1h-1zM150 145h1v1h-1zM151 145h1v1h-1zM152 144h1v1h-1zM153 144h1v1h-1zM154 143h1v1h-1zM155 142h1v1h-1zM156 141h1v1h-1zM157 140h1v1h-1zM158 139h1v1h-1zM159 138h1v1h-1zM160 137h1v1h-1zM161 136h1v1h-1zM162 136h1v1h-1zM163 135h1v1h-1zM164 135h1v1h-1zM165 134h1v1h-1zM166 134h1v1h-1zM167 134h1v1h-1zM168 135h1v1h-1zM169 135h1v1h-1zM170 136h1v1h-1zM171 137h1v2h-1zM172 139h1v1h-1zM173 140h1v1h-1zM174 141h1v1h-1zM175 142h1v2h-1zM176 144h1v1h-1zM177 145h1v1h-1zM178 146h1v2h-1zM179 148h1v1h-1zM180 149h1v2h-1zM181 151h1v1h-1zM182 152h1v2h-1zM183 154h1v1h-1zM184 155h1v2h-1zM185 157h1v1h-1zM186 158h1v1h-1zM187 159h1v2h-1zM188 161h1v1h-1zM189 162h1v1h-1zM190 163h1v2h-1zM191 165h1v1h-1zM192 166h1v2h-1zM193 168h1v1h-1zM194 169h1v2h-1zM195 171h1v1h-1zM196 172h1v2h-1zM197 174h1v1h-1zM198 175h1v2h-1zM199 177h1v1h-1zM200 178h1v2h-1zM201 180h1v1h-1zM202 181h1v1h-1zM203 182h1v1h-1zM204 183h1v1h-1zM205 184h1v1h-1zM206 185h1v1h-1zM207 185h1v1h-1zM208 186h1v1h-1zM209 187h1v1h-1zM210 188h1v2h-1zM211 190h1v1h-1zM212 191h1v2h-1zM213 193h1v2h-1zM214 195h1v2h-1zM215 197h1v2h-1zM216 199h1v2h-1zM217 201h1v2h-1zM218 203h1v2h-1zM219 205h1v2h-1zM220 207h1v2h-1zM221 209h1v1h-1zM222 210h1v1h-1zM223 211h1v2h-1zM224 213h1v1h-1zM225 214h1v1h-1zM226 214h1v1h-1zM227 215h1v1h-1zM228 215h1v1h-1zM229 216h1v1h-1zM230 216h1v1h-1zM231 216h1v1h-1zM232 217h1v1h-1zM233 217h1v1h-1zM234 217h1v1h-1zM235 218h1v1h-1zM236 218h1v1h-1zM237 219h1v1h-1zM238 220h1v1h-1zM239 220h1v1h-1zM240 221h1v1h-1zM241 222h1v1h-1zM242 223h1v2h-1zM243 225h1v1h-1zM244 226h1v2h-1zM245 228h1v1h-1zM246 229h1v1h-1zM247 230h1v1h-1zM248 231h1v1h-1zM249 232h1v1h-1zM250 233h1v1h-1zM251 234h1v2h-1zM252 236h1v1h-1zM253 237h1v1h-1zM254 238h1v2h-1zM255 240h1v2h-1zM256 242h1v2h-1zM257 244h1v1h-1zM258 245h1v2h-1zM259 247h1v1h-1zM260 248h1v2h-1zM261 250h1v2h-1zM262 252h1v2h-1zM263 254h1v3h-1zM264 257h1v2h-1zM265 259h1v2h-1zM266 261h1v2h-1zM267 263h1v2h-1zM268 265h1v2h-1zM269 267h1v1h-1zM270 268h1v2h-1zM271 270h1v2h-1zM272 272h1v2h-1zM273 274h1v1h-1zM274 275h1v1h-1zM275 276h1v2h-1zM276 278h1v1h-1zM277 279h1v1h-1zM278 280h1v1h-1zM279 280h1v1h-1zM280 281h1v1h-1zM281 282h1v1h-1zM282 283h1v1h-1zM283 284h1v1h-1zM284 285h1v1h-1zM285 286h1v1h-1zM286 287h1v1h-1zM287 287h1v1h-1zM288 288h1v1h-1zM289 289h1v1h-1zM290 290h1v1h-1zM291 291h1v2h-1zM292 293h1v1h-1zM293 294h1v1h-1zM294 295h1v1h-1zM295 296h1v1h-1zM296 297h1v1h-1zM297 298h1v1h-1zM298 298h1v1h-1zM299 298h1v1h-1zM300 299h1v1h-1zM301 299h1v1h-1zM302 299h1v1h-1zM303 299h1v1h-1zM304 300h1v1h-1zM305 300h1v1h-1zM306 300h1v1h-1zM307 300h1v1h-1zM308 299h1v1h-1zM309 299h1v1h-1zM310 298h1v1h-1zM311 298h1v1h-1zM312 297h1v1h-1zM313 296h1v1h-1zM314 295h1v1h-1zM315 294h1v1h-1zM316 293h1v1h-1zM317 292h1v1h-1zM318 290h1v2h-1zM319 288h1v2h-1zM320 286h1v2h-1zM321 285h1v1h-1zM322 284h1v1h-1zM323 284h1v1h-1zM324 283h1v1h-1zM325 282h1v1h-1zM326 281h1v1h-1zM327 281h1v1h-1zM328 280h1v1h-1zM329 279h1v1h-1zM330 279h1v1h-1zM331 279h1v1h-1zM332 278h1v1h-1zM333 278h1v1h-1zM334 278h1v1h-1zM335 277h1v1h-1zM336 277h1v1h-1zM337 276h1v1h-1zM338 276h1v1h-1zM339 276h1v1h-1zM340 276h1v1h-1zM341 276h1v1h-1zM342 276h1v1h-1zM343 276h1v1h-1zM344 275h1v1h-1zM345 275h1v1h-1zM346 274h1v1h-1zM347 273h1v1h-1zM348 272h1v1h-1zM349 271h1v1h-1zM350 269h1v2h-1zM351 267h1v2h-1zM352 265h1v2h-1zM353 264h1v1h-1zM354 264h1v1h-1zM355 263h1v1h-1zM356 263h1v1h-1zM357 262h1v1h-1zM358 262h1v1h-1zM359 262h1v1h-1zM360 261h1v1h-1zM361 261h1v1h-1zM362 261h1v1h-1zM363 261h1v1h-1zM364 262h1v1h-1zM365 262h1v1h-1zM366 262h1v1h-1zM367 262h1v1h-1zM368 262h1v1h-1zM369 262h1v1h-1zM370 262h1v1h-1zM371 262h1v1h-1zM372 263h1v1h-1zM373 263h1v1h-1zM374 263h1v1h-1zM375 263h1v1h-1zM376 264h1v1h-1zM377 264h1v1h-1zM378 264h1v1h-1zM379 264h1v1h-1zM380 264h1v1h-1zM381 264h1v1h-1zM382 265h1v1h-1zM383 266h1v1h-1zM384 267h1v1h-1zM385 268h1v1h-1zM386 268h1v1h-1zM387 268h1v1h-1zM388 269h1v1h-1zM389 269h1v1h-1zM390 270h1v1h-1zM391 270h1v1h-1zM392 271h1v1h-1zM393 272h1v1h-1zM394 273h1v1h-1zM395 273h1v1h-1zM396 274h1v1h-1zM397 275h1v1h-1zM398 276h1v1h-1zM399 277h1v1h-1zM400 278h1v1h-1zM401 279h1v1h-1zM402 280h1v1h-1zM403 281h1v1h-1zM404 282h1v1h-1zM405 283h1v1h-1zM406 284h1v2h-1zM407 286h1v2h-1zM408 288h1v2h-1zM409 290h1v1h-1zM410 291h1v1h-1zM411 292h1v2h-1zM412 294h1v1h-1zM413 295h1v1h-1zM414 296h1v1h-1zM415 297h1v1h-1zM416 298h1v1h-1zM417 299h1v1h-1zM418 299h1v1h-1zM419 300h1v1h-1zM420 300h1v1h-1zM421 301h1v1h-1zM422 301h1v1h-1zM423 302h1v1h-1zM424 302h1v1h-1zM425 303h1v1h-1zM426 304h1v1h-1zM427 304h1v1h-1zM428 305h1v1h-1zM429 306h1v1h-1zM430 307h1v1h-1zM431 308h1v1h-1zM432 309h1v1h-1zM433 310h1v1h-1zM434 311h1v1h-1zM435 312h1v1h-1zM436 313h1v1h-1zM437 314h1v1h-1zM438 314h1v1h-1zM439 314h1v1h-1zM440 313h1v1h-1zM441 313h1v1h-1zM442 314h1v1h-1zM443 314h1v1h-1zM444 315h1v1h-1zM445 316h1v1h-1zM446 317h1v1h-1zM447 318h1v1h-1zM448 319h1v1h-1zM449 320h1v1h-1zM450 321h1v1h-1zM451 321h1v1h-1zM452 322h1v1h-1zM453 323h1v1h-1zM454 324h1v1h-1zM455 324h1v1h-1zM456 325h1v1h-1zM457 326h1v1h-1zM458 327h1v1h-1zM459 328h1v1h-1zM460 329h1v1h-1zM461 330h1v1h-1zM462 331h1v1h-1zM463 331h1v1h-1zM464 332h1v1h-1zM465 333h1v1h-1zM466 334h1v1h-1zM467 334h1v1h-1zM468 335h1v1h-1zM469 336h1v1h-1zM470 337h1v2h-1zM471 339h1v1h-1zM472 340h1v2h-1zM473 342h1v1h-1zM474 343h1v2h-1zM475 345h1v1h-1zM476 346h1v2h-1zM477 348h1v1h-1zM478 349h1v2h-1zM479 351h1v2h-1zM480 353h1v2h-1zM481 355h1v2h-1zM482 357h1v2h-1zM483 359h1v2h-1zM484 361h1v2h-1zM485 363h1v2h-1zM486 365h1v2h-1zM487 367h1v2h-1zM488 369h1v2h-1zM489 371h1v2h-1zM490 373h1v2h-1zM491 375h1v3h-1zM492 378h1v2h-1zM493 380h1v3h-1zM494 383h1v3h-1zM495 386h1v2h-1zM496 388h1v3h-1zM497 391h1v3h-1zM498 394h1v2h-1zM499 396h1v2h-1zM500 398h1v2h-1zM501 400h1v2h-1zM502 402h1v2h-1zM503 404h1v2h-1zM504 406h1v2h-1zM505 408h1v2h-1zM506 410h1v2h-1zM507 412h1v2h-1zM508 414h1v2h-1zM509 416h1v3h-1zM510 419h1v2h-1zM511 421h1v2h-1zM512 423h1v2h-1zM513 425h1v3h-1zM514 428h1v2h-1zM515 430h1v2h-1zM516 432h1v2h-1zM517 434h1v2h-1zM518 436h1v2h-1zM519 438h1v1h-1zM520 439h1v2h-1zM521 441h1v1h-1zM522 442h1v1h-1zM523 443h1v2h-1zM524 445h1v1h-1zM525 446h1v1h-1zM526 446h1v1h-1zM527 446h1v1h-1zM528 447h1v1h-1zM529 447h1v1h-1zM530 447h1v1h-1zM531 447h1v1h-1zM532 448h1v1h-1zM533 448h1v1h-1zM534 448h1v1h-1zM535 448h1v1h-1zM536 447h1v1h-1zM537 447h1v1h-1zM538 445h1v2h-1zM539 443h1v2h-1zM540 441h1v2h-1zM541 440h1v1h-1zM542 438h1v2h-1zM543 437h1v1h-1zM544 435h1v2h-1zM545 434h1v1h-1zM546 432h1v2h-1zM547 430h1v2h-1zM548 428h1v2h-1zM549 426h1v2h-1zM550 423h1v3h-1zM551 420h1v3h-1zM552 417h1v3h-1zM553 414h1v3h-1zM554 412h1v2h-1zM555 409h1v3h-1zM556 407h1v2h-1zM557 404h1v3h-1zM558 401h1v3h-1zM559 398h1v3h-1zM560 395h1v3h-1zM561 392h1v3h-1zM562 388h1v4h-1zM563 384h1v4h-1zM564 380h1v4h-1zM565 377h1v3h-1zM566 374h1v3h-1zM567 372h1v2h-1zM568 369h1v3h-1zM569 366h1v3h-1zM570 364h1v2h-1zM571 361h1v3h-1zM572 359h1v2h-1zM573 357h1v2h-1zM574 355h1v2h-1zM575 353h1v2h-1zM576 351h1v2h-1zM577 349h1v2h-1zM578 347h1v2h-1zM579 345h1v2h-1zM580 343h1v2h-1zM581 342h1v1h-1zM582 340h1v2h-1zM583 338h1v2h-1zM584 336h1v2h-1zM585 335h1v1h-1zM586 333h1v2h-1zM587 332h1v1h-1zM588 330h1v2h-1zM589 329h1v1h-1zM590 328h1v1h-1zM591 328h1v1h-1zM592 327h1v1h-1zM593 326h1v1h-1zM594 326h1v1h-1zM595 326h1v1h-1zM596 327h1v1h-1zM597 327h1v1h-1zM598 327h1v1h-1zM599 327h1v1h-1zM600 326h1v1h-1zM601 326h1v1h-1zM602 326h1v1h-1zM603 325h1v1h-1zM604 325h1v1h-1zM605 324h1v1h-1zM606 324h1v1h-1zM607 324h1v1h-1zM608 325h1v1h-1zM609 325h1v1h-1zM610 325h1v1h-1zM611 325h1v1h-1zM612 326h1v1h-1zM613 326h1v1h-1zM614 326h1v1h-1zM615 326h1v1h-1zM616 326h1v1h-1zM617 326h1v1h-1zM618 326h1v1h-1zM619 326h1v1h-1zM620 327h1v1h-1zM621 327h1v1h-1zM622 326h1v1h-1zM623 324h1v2h-1zM624 323h1v1h-1zM625 322h1v1h-1zM626 320h1v2h-1zM627 319h1v1h-1zM628 317h1v2h-1zM629 316h1v1h-1zM630 314h1v2h-1zM631 313h1v1h-1zM632 311h1v2h-1zM633 310h1v1h-1zM634 309h1v1h-1zM635 309h1v1h-1zM636 308h1v1h-1zM637 307h1v1h-1zM638 307h1v1h-1zM639 307h1v1h-1zM640 306h1v1h-1zM641 306h1v1h-1zM642 305h1v1h-1zM643 304h1v1h-1zM644 303h1v1h-1zM645 302h1v1h-1zM646 301h1v1h-1zM647 301h1v1h-1zM648 300h1v1h-1zM649 299h1v1h-1zM650 299h1v1h-1zM651 298h1v1h-1zM652 298h1v1h-1zM653 297h1v1h-1zM654 297h1v1h-1zM655 297h1v1h-1zM656 297h1v1h-1zM657 297h1v1h-1zM658 298h1v1h-1zM659 299h1v1h-1zM660 300h1v1h-1zM661 301h1v1h-1zM662 302h1v1h-1zM663 303h1v2h-1zM664 305h1v1h-1zM665 306h1v1h-1zM666 307h1v2h-1zM667 309h1v1h-1zM668 310h1v2h-1zM669 312h1v1h-1zM670 313h1v2h-1zM671 315h1v1h-1zM672 316h1v2h-1zM673 318h1v1h-1zM674 319h1v2h-1zM675 321h1v2h-1zM676 323h1v2h-1zM677 325h1v2h-1zM678 327h1v2h-1zM679 329h1v3h-1zM680 332h1v2h-1zM681 334h1v3h-1zM682 337h1v2h-1zM683 339h1v2h-1zM684 341h1v2h-1zM685 343h1v2h-1zM686 345h1v2h-1zM687 347h1v2h-1zM688 349h1v2h-1zM689 351h1v1h-1zM690 352h1v2h-1zM691 354h1v2h-1zM692 356h1v2h-1zM693 358h1v1h-1zM694 358h1v1h-1zM695 357h1v1h-1zM696 357h1v1h-1zM697 356h1v1h-1zM698 356h1v1h-1zM699 356h1v1h-1zM700 356h1v1h-1zM701 356h1v1h-1zM702 356h1v1h-1zM703 355h1v1h-1zM704 355h1v1h-1zM705 354h1v1h-1zM706 354h1v1h-1zM707 354h1v1h-1zM708 353h1v1h-1zM709 353h1v1h-1zM710 352h1v1h-1zM711 350h1v2h-1zM712 349h1v1h-1zM713 347h1v2h-1zM714 344h1v3h-1zM715 342h1v2h-1zM716 339h1v3h-1zM717 335h1v4h-1zM718 330h1v5h-1zM719 325h1v5h-1zM720 320h1v5h-1zM721 315h1v5h-1zM722 310h1v5h-1zM723 305h1v5h-1zM724 300h1v5h-1zM725 295h1v5h-1zM726 290h1v5h-1zM727 286h1v4h-1zM728 281h1v5h-1zM729 276h1v5h-1zM730 272h1v4h-1zM731 267h1v5h-1zM732 263h1v4h-1zM733 259h1v4h-1zM734 255h1v4h-1zM735 252h1v3h-1zM736 248h1v4h-1zM737 244h1v4h-1zM738 240h1v4h-1zM739 235h1v5h-1zM740 231h1v4h-1zM741 227h1v4h-1zM742 224h1v3h-1zM743 221h1v3h-1zM744 218h1v3h-1zM745 215h1v3h-1zM746 211h1v4h-1zM747 208h1v3h-1zM748 204h1v4h-1zM749 202h1v2h-1zM750 201h1v1h-1zM751 200h1v1h-1zM752 199h1v1h-1zM753 197h1v2h-1zM754 195h1v2h-1zM755 193h1v2h-1zM756 191h1v2h-1zM757 189h1v2h-1zM758 188h1v1h-1zM759 186h1v2h-1zM760 185h1v1h-1zM761 183h1v2h-1zM762 180h1v3h-1zM763 178h1v2h-1zM764 175h1v3h-1zM765 173h1v2h-1zM766 171h1v2h-1zM767 170h1v1h-1zM768 168h1v2h-1zM769 167h1v1h-1zM770 166h1v1h-1zM771 166h1v1h-1zM772 165h1v1h-1zM773 164h1v1h-1zM774 165h1v1h-1zM775 165h1v1h-1zM776 166h1v1h-1zM777 167h1v1h-1zM778 168h1v1h-1zM779 168h1v1h-1zM780 169h1v1h-1zM781 170h1v1h-1zM782 171h1v2h-1zM783 173h1v2h-1zM784 175h1v2h-1zM785 177h1v1h-1zM786 178h1v1h-1zM787 179h1v2h-1zM788 181h1v1h-1zM789 182h1v1h-1zM790 183h1v1h-1zM791 183h1v1h-1zM792 184h1v1h-1zM793 185h1v2h-1zM794 187h1v2h-1zM795 189h1v2h-1zM796 191h1v2h-1zM797 193h1v1h-1zM798 194h1v1h-1zM799 195h1v1h-1zM800 196h1v1h-1zM801 197h1v1h-1zM802 198h1v1h-1zM803 199h1v2h-1zM804 201h1v1h-1zM805 202h1v1h-1zM806 203h1v1h-1zM807 204h1v1h-1zM808 205h1v1h-1zM809 206h1v1h-1zM810 207h1v1h-1zM811 208h1v2h-1zM812 210h1v1h-1zM813 211h1v1h-1zM814 211h1v1h-1zM815 211h1v1h-1zM816 211h1v1h-1zM817 211h1v1h-1zM818 212h1v1h-1zM819 212h1v1h-1zM820 213h1v1h-1zM821 214h1v1h-1zM822 214h1v1h-1zM823 214h1v1h-1zM824 215h1v1h-1zM825 215h1v1h-1zM826 216h1v1h-1zM827 216h1v1h-1zM828 217h1v1h-1zM829 218h1v1h-1zM830 218h1v1h-1zM831 218h1v1h-1zM832 218h1v1h-1zM833 218h1v1h-1zM834 218h1v1h-1zM835 219h1v1h-1zM836 219h1v1h-1zM837 220h1v1h-1zM838 219h1v1h-1zM839 219h1v1h-1zM840 218h1v1h-1zM841 217h1v1h-1zM842 217h1v1h-1zM843 216h1v1h-1zM844 216h1v1h-1zM845 215h1v1h-1zM846 214h1v1h-1zM847 213h1v1h-1zM848 212h1v1h-1zM849 211h1v1h-1zM850 210h1v1h-1zM851 209h1v1h-1zM852 208h1v1h-1zM853 207h1v1h-1zM854 206h1v1h-1zM855 205h1v1h-1zM856 204h1v1h-1zM857 203h1v1h-1zM858 202h1v1h-1zM859 202h1v1h-1zM860 201h1v1h-1zM861 200h1v1h-1zM862 200h1v1h-1zM863 199h1v1h-1zM864 199h1v1h-1zM865 198h1v1h-1zM866 196h1v2h-1zM867 195h1v1h-1zM868 193h1v2h-1zM869 192h1v1h-1zM870 191h1v1h-1zM871 189h1v2h-1zM872 188h1v1h-1zM873 187h1v1h-1zM874 185h1v2h-1zM875 184h1v1h-1zM876 182h1v2h-1zM877 181h1v1h-1zM878 180h1v1h-1zM879 179h1v1h-1zM880 178h1v1h-1zM881 177h1v1h-1zM882 176h1v1h-1zM883 175h1v1h-1zM884 174h1v1h-1zM885 173h1v1h-1zM886 173h1v1h-1zM887 173h1v1h-1zM888 174h1v1h-1zM889 174h1v1h-1zM890 174h1v1h-1zM891 174h1v1h-1zM892 174h1v1h-1zM893 174h1v1h-1zM894 174h1v1h-1zM895 174h1v1h-1zM896 173h1v1h-1zM897 173h1v1h-1zM898 173h1v1h-1zM899 173h1v1h-1zM900 172h1v1h-1zM901 172h1v1h-1zM902 172h1v1h-1zM903 172h1v1h-1zM904 171h1v1h-1zM905 171h1v1h-1zM906 171h1v1h-1zM907 171h1v1h-1zM908 170h1v1h-1zM909 170h1v1h-1zM910 169h1v1h-1zM911 168h1v1h-1zM912 167h1v1h-1zM913 166h1v1h-1zM914 165h1v1h-1zM915 163h1v2h-1zM916 162h1v1h-1zM917 161h1v1h-1zM918 160h1v1h-1zM919 158h1v2h-1zM920 157h1v1h-1zM921 156h1v1h-1zM922 156h1v1h-1zM923 156h1v1h-1zM924 157h1v1h-1zM925 157h1v1h-1zM926 158h1v1h-1zM927 158h1v1h-1zM928 159h1v1h-1zM929 160h1v1h-1zM930 161h1v1h-1zM931 161h1v1h-1zM932 162h1v1h-1zM933 163h1v1h-1zM934 163h1v1h-1zM935 163h1v1h-1zM936 162h1v1h-1zM937 162h1v1h-1zM938 162h1v1h-1zM939 161h1v1h-1zM940 161h1v1h-1zM941 160h1v1h-1zM942 159h1v1h-1zM943 157h1v2h-1zM944 156h1v1h-1zM945 155h1v1h-1zM946 154h1v1h-1zM947 152h1v2h-1zM948 151h1v1h-1zM949 150h1v1h-1zM950 149h1v1h-1zM951 147h1v2h-1zM952 146h1v1h-1zM953 144h1v2h-1zM954 142h1v2h-1zM955 140h1v2h-1zM956 138h1v2h-1zM957 137h1v1h-1zM958 136h1v1h-1zM959 134h1v2h-1zM960 133h1v1h-1zM961 132h1v1h-1zM962 131h1v1h-1zM963 129h1v2h-1zM964 128h1v1h-1zM965 127h1v1h-1zM966 126h1v1h-1zM967 126h1v1h-1zM968 125h1v1h-1zM969 124h1v1h-1zM970 124h1v1h-1zM971 124h1v1h-1zM972 123h1v1h-1zM973 123h1v1h-1zM974 123h1v1h-1zM975 124h1v1h-1zM976 124h1v1h-1zM977 125h1v1h-1zM978 125h1v1h-1zM979 125h1v1h-1zM980 126h1v1h-1zM981 126h1v1h-1zM982 126h1v1h-1zM983 126h1v1h-1zM984 126h1v1h-1zM985 126h1v1h-1zM986 127h1v1h-1zM987 127h1v1h-1zM988 128h1v1h-1zM989 129h1v1h-1zM990 130h1v1h-1zM991 131h1v2h-1zM992 133h1v1h-1zM993 134h1v2h-1zM994 136h1v2h-1zM995 138h1v2h-1zM996 140h1v2h-1zM997 142h1v1h-1zM998 143h1v2h-1zM999 145h1v2h-1zM1000 147h1v2h-1zM1001 149h1v2h-1zM1002 151h1v2h-1zM1003 153h1v2h-1zM1004 155h1v2h-1zM1005 157h1v2h-1zM1006 159h1v2h-1zM1007 161h1v2h-1zM1008 163h1v2h-1zM1009 165h1v2h-1zM1010 167h1v3h-1zM1011 170h1v2h-1zM1012 172h1v3h-1zM1013 175h1v2h-1zM1014 177h1v2h-1zM1015 179h1v2h-1zM1016 181h1v2h-1zM1017 183h1v2h-1zM1018 185h1v2h-1zM1019 187h1v2h-1zM1020 189h1v2h-1zM1021 191h1v1h-1zM1022 192h1v2h-1zM1023 194h1v1h-1zM1024 195h1v2h-1zM1025 197h1v1h-1zM1026 198h1v1h-1zM1027 199h1v2h-1zM1028 201h1v1h-1zM1029 202h1v1h-1zM1030 203h1v1h-1zM1031 203h1v1h-1zM1032 204h1v1h-1zM1033 205h1v1h-1zM1034 206h1v1h-1zM1035 207h1v1h-1zM1036 208h1v1h-1zM1037 209h1v1h-1zM1038 210h1v1h-1zM1039 211h1v1h-1zM1040 212h1v1h-1zM1041 213h1v1h-1zM1042 213h1v1h-1zM1043 213h1v1h-1zM1044 214h1v1h-1zM1045 214h1v1h-1zM1046 214h1v1h-1zM1047 214h1v1h-1zM1048 215h1v1h-1zM1049 215h1v1h-1zM1050 215h1v1h-1zM1051 215h1v1h-1zM1052 214h1v1h-1zM1053 214h1v1h-1zM1054 214h1v1h-1zM1055 214h1v1h-1zM1056 214h1v1h-1zM1057 214h1v1h-1zM1058 213h1v1h-1zM1059 212h1v1h-1zM1060 211h1v1h-1zM1061 210h1v1h-1zM1062 210h1v1h-1zM1063 210h1v1h-1zM1064 209h1v1h-1zM1065 209h1v1h-1zM1066 209h1v1h-1zM1067 209h1v1h-1zM1068 209h1v1h-1zM1069 209h1v1h-1zM1070 209h1v1h-1zM1071 209h1v1h-1zM1072 210h1v1h-1zM1073 210h1v1h-1zM1074 210h1v1h-1zM1075 210h1v1h-1zM1076 211h1v1h-1zM1077 211h1v1h-1zM1078 211h1v1h-1zM1079 212h1v1h-1zM1080 212h1v1h-1zM1081 213h1v1h-1zM1082 213h1v1h-1zM1083 213h1v1h-1zM1084 214h1v1h-1zM1085 214h1v1h-1zM1086 214h1v1h-1zM1087 215h1v1h-1zM1088 215h1v1h-1zM1089 216h1v1h-1zM1090 217h1v1h-1zM1091 218h1v2h-1zM1092 220h1v1h-1zM1093 221h1v1h-1zM1094 222h1v2h-1zM1095 224h1v1h-1zM1096 225h1v2h-1zM1097 227h1v1h-1zM1098 228h1v1h-1zM1099 229h1v2h-1zM1100 231h1v1h-1zM1101 232h1v1h-1zM1102 233h1v2h-1zM1103 235h1v1h-1zM1104 236h1v2h-1zM1105 238h1v1h-1zM1106 239h1v2h-1zM1107 241h1v2h-1zM1108 243h1v2h-1zM1109 245h1v1h-1zM1110 246h1v2h-1zM1111 248h1v1h-1zM1112 249h1v2h-1zM1113 251h1v2h-1zM1114 253h1v2h-1zM1115 255h1v2h-1zM1116 257h1v2h-1zM1117 259h1v2h-1zM1118 261h1v2h-1zM1119 263h1v2h-1zM1120 265h1v2h-1zM1121 267h1v2h-1zM1122 269h1v2h-1zM1123 271h1v2h-1zM1124 273h1v2h-1zM1125 275h1v3h-1zM1126 278h1v2h-1zM1127 280h1v2h-1zM1128 282h1v2h-1zM1129 284h1v1h-1zM1130 285h1v2h-1zM1131 287h1v2h-1zM1132 289h1v2h-1zM1133 291h1v1h-1zM1134 292h1v2h-1zM1135 294h1v2h-1zM1136 296h1v2h-1zM1137 298h1v2h-1zM1138 300h1v2h-1zM1139 302h1v2h-1zM1140 304h1v2h-1zM1141 306h1v2h-1zM1142 308h1v2h-1zM1143 310h1v2h-1zM1144 312h1v2h-1zM1145 314h1v1h-1zM1146 314h1v1h-1zM1147 315h1v1h-1zM1148 315h1v1h-1zM1149 316h1v1h-1zM1150 316h1v1h-1zM1151 316h1v1h-1zM1152 317h1v1h-1zM1153 317h1v1h-1zM1154 316h1v1h-1zM1155 316h1v1h-1zM1156 315h1v1h-1zM1157 314h1v1h-1zM1158 314h1v1h-1zM1159 313h1v1h-1zM1160 313h1v1h-1zM1161 312h1v1h-1zM1162 312h1v1h-1zM1163 312h1v1h-1zM1164 313h1v1h-1zM1165 313h1v1h-1zM1166 313h1v1h-1zM1167 313h1v1h-1zM1168 313h1v1h-1zM1169 313h1v1h-1zM1170 313h1v1h-1zM1171 313h1v1h-1zM1172 313h1v1h-1zM1173 313h1v1h-1zM1174 313h1v1h-1zM1175 313h1v1h-1zM1176 313h1v1h-1zM1177 313h1v1h-1zM1178 313h1v1h-1zM1179 313h1v1h-1zM1180 313h1v1h-1zM1181 313h1v1h-1zM1182 313h1v1h-1zM1183 313h1v1h-1zM1184 313h1v1h-1zM1185 313h1v1h-1zM1186 313h1v1h-1zM1187 313h1v1h-1zM1188 314h1v1h-1zM1189 314h1v1h-1zM1190 314h1v1h-1zM1191 314h1v1h-1zM1192 315h1v1h-1zM1193 315h1v1h-1zM1194 316h1v1h-1zM1195 317h1v2h-1zM1196 319h1v1h-1zM1197 320h1v1h-1zM1198 321h1v1h-1zM1199 321h1v1h-1zM1200 322h1v1h-1zM1201 323h1v1h-1zM1202 324h1v1h-1zM1203 324h1v1h-1zM1204 325h1v1h-1zM1205 326h1v1h-1zM1206 327h1v1h-1zM1207 327h1v1h-1zM1208 328h1v1h-1zM1209 329h1v1h-1zM1210 330h1v2h-1zM1211 332h1v2h-1zM1212 334h1v2h-1zM1213 336h1v1h-1zM1214 337h1v2h-1zM1215 339h1v2h-1zM1216 341h1v2h-1zM1217 343h1v1h-1zM1218 344h1v2h-1zM1219 346h1v1h-1zM1220 347h1v2h-1zM1221 349h1v1h-1zM1222 350h1v2h-1zM1223 352h1v1h-1zM1224 353h1v2h-1zM1225 355h1v1h-1zM1226 356h1v1h-1zM1227 357h1v2h-1zM1228 359h1v1h-1zM1229 360h1v1h-1zM1230 361h1v2h-1zM1231 363h1v2h-1zM1232 365h1v2h-1zM1233 367h1v1h-1zM1234 368h1v1h-1zM1235 369h1v2h-1zM1236 371h1v1h-1zM1237 372h1v1h-1zM1238 373h1v2h-1zM1239 375h1v2h-1zM1240 377h1v2h-1zM1241 379h1v1h-1zM1242 380h1v2h-1zM1243 382h1v2h-1zM1244 384h1v2h-1zM1245 386h1v1h-1zM1246 387h1v2h-1zM1247 389h1v2h-1zM1248 391h1v2h-1zM1249 393h1v1h-1zM1250 393h1v1h-1zM1251 393h1v1h-1zM1252 394h1v1h-1zM1253 394h1v1h-1zM1254 394h1v1h-1zM1255 395h1v1h-1zM1256 395h1v1h-1zM1257 396h1v1h-1zM1258 397h1v2h-1zM1259 399h1v1h-1zM1260 400h1v2h-1zM1261 402h1v1h-1zM1262 403h1v2h-1zM1263 405h1v1h-1zM1264 406h1v2h-1zM1265 408h1v1h-1zM1266 409h1v1h-1zM1267 410h1v2h-1zM1268 412h1v1h-1zM1269 413h1v1h-1z" fill="#ff0000"/><path d="M5 197h1v3h-1zM6 191h1v6h-1zM7 186h1v5h-1zM8 180h1v6h-1zM9 174h1v6h-1zM10 167h1v7h-1zM11 161h1v6h-1zM12 154h1v7h-1zM13 148h1v6h-1zM14 142h1v6h-1zM15 137h1v5h-1zM16 131h1v6h-1zM17 126h1v5h-1zM18 121h1v5h-1zM19 116h1v5h-1zM20 111h1v5h-1zM21 108h1v3h-1zM22 107h1v1h-1zM23 105h1v2h-1zM24 104h1v1h-1zM25 103h1v1h-1zM26 101h1v2h-1zM27 99h1v2h-1zM28 97h1v2h-1zM29 96h1v1h-1zM30 96h1v1h-1zM31 97h1v1h-1zM32 97h1v1h-1zM33 98h1v1h-1zM34 96h1v2h-1zM35 94h1v2h-1zM36 92h1v2h-1zM37 91h1v1h-1zM38 90h1v1h-1zM39 90h1v1h-1zM40 89h1v1h-1zM41 88h1v1h-1zM42 88h1v1h-1zM43 88h1v1h-1zM44 89h1v1h-1zM45 89h1v1h-1zM46 90h1v2h-1zM47 92h1v1h-1zM48 93h1v2h-1zM49 95h1v2h-1zM50 97h1v3h-1zM51 100h1v4h-1zM52 104h1v3h-1zM53 107h1v4h-1zM54 111h1v6h-1zM55 117h1v6h-1zM56 123h1v6h-1zM57 129h1v5h-1zM58 134h1v4h-1zM59 138h1v4h-1zM60 142h1v4h-1zM61 146h1v4h-1zM62 150h1v2h-1zM63 152h1v3h-1zM64 155h1v2h-1zM65 157h1v2h-1zM66 159h1v2h-1zM67 161h1v2h-1zM68 163h1v2h-1zM69 165h1v2h-1zM70 167h1v3h-1zM71 170h1v3h-1zM72 173h1v3h-1zM73 176h1v4h-1zM74 180h1v5h-1zM75 185h1v4h-1zM76 189h1v5h-1zM77 194h1v5h-1zM78 199h1v5h-1zM79 204h1v5h-1zM80 209h1v5h-1zM81 214h1v4h-1zM82 218h1v3h-1zM83 221h1v3h-1zM84 224h1v3h-1zM85 227h1v2h-1zM86 229h1v2h-1zM87 231h1v2h-1zM88 233h1v2h-1zM89 235h1v1h-1zM90 234h1v1h-1zM91 233h1v1h-1zM92 232h1v1h-1zM93 229h1v3h-1zM94 225h1v4h-1zM95 220h1v5h-1zM96 216h1v4h-1zM97 212h1v4h-1zM98 209h1v3h-1zM99 206h1v3h-1zM100 203h1v3h-1zM101 200h1v3h-1zM102 196h1v4h-1zM103 193h1v3h-1zM104 189h1v4h-1zM105 186h1v3h-1zM106 184h1v2h-1zM107 182h1v2h-1zM108 180h1v2h-1zM109 178h1v2h-1zM110 176h1v2h-1zM111 174h1v2h-1zM112 172h1v2h-1zM113 170h1v2h-1zM114 168h1v2h-1zM115 166h1v2h-1zM116 164h1v2h-1zM117 161h1v3h-1zM118 158h1v3h-1zM119 155h1v3h-1zM120 152h1v3h-1zM121 150h1v2h-1zM122 149h1v1h-1zM123 147h1v2h-1zM124 146h1v1h-1zM125 144h1v2h-1zM126 142h1v2h-1zM127 140h1v2h-1zM128 138h1v2h-1zM129 136h1v2h-1zM130 134h1v2h-1zM131 132h1v2h-1zM132 130h1v2h-1zM133 129h1v1h-1zM134 128h1v1h-1zM135 127h1v1h-1zM136 126h1v1h-1zM137 125h1v1h-1zM138 124h1v1h-1zM139 122h1v2h-1zM140 121h1v1h-1zM141 120h1v1h-1zM142 120h1v1h-1zM143 120h1v1h-1zM144 121h1v1h-1zM145 121h1v2h-1zM146 123h1v2h-1zM147 125h1v2h-1zM148 127h1v2h-1zM149 129h1v3h-1zM150 132h1v2h-1zM151 134h1v3h-1zM152 137h1v2h-1zM153 139h1v2h-1zM154 141h1v1h-1zM155 142h1v2h-1zM156 144h1v1h-1zM157 145h1v1h-1zM158 145h1v1h-1zM159 144h1v1h-1zM160 144h1v1h-1zM161 143h1v1h-1zM162 142h1v1h-1zM163 142h1v1h-1zM164 141h1v1h-1zM165 140h1v1h-1zM166 141h1v1h-1zM167 141h1v1h-1zM168 142h1v1h-1zM169 143h1v1h-1zM170 144h1v2h-1zM171 146h1v2h-1zM172 148h1v2h-1zM173 150h1v2h-1zM174 152h1v4h-1zM175 156h1v3h-1zM176 159h1v4h-1zM177 163h1v4h-1zM178 167h1v6h-1zM179 173h1v6h-1zM180 179h1v6h-1zM181 185h1v4h-1zM182 189h1v4h-1zM183 193h1v4h-1zM184 197h1v4h-1zM185 201h1v2h-1zM186 202h1v1h-1zM187 203h1v1h-1zM188 203h1v1h-1zM189 204h1v1h-1zM190 204h1v1h-1zM191 204h1v1h-1zM192 203h1v1h-1zM193 203h1v1h-1zM194 203h1v1h-1zM195 203h1v1h-1zM196 203h1v1h-1zM197 203h1v1h-1zM198 203h1v1h-1zM199 202h1v1h-1zM200 202h1v1h-1zM201 201h1v1h-1zM202 202h1v1h-1zM203 203h1v1h-1zM204 204h1v1h-1zM205 205h1v1h-1zM206 206h1v2h-1zM207 208h1v1h-1zM208 209h1v2h-1zM209 211h1v1h-1zM210 212h1v1h-1zM211 213h1v2h-1zM212 215h1v1h-1zM213 216h1v1h-1zM214 216h1v1h-1zM215 217h1v1h-1zM216 217h1v1h-1zM217 218h1v1h-1zM218 219h1v1h-1zM219 220h1v2h-1zM220 222h1v1h-1zM221 223h1v1h-1zM222 224h1v1h-1zM223 225h1v2h-1zM224 227h1v1h-1zM225 228h1v1h-1zM226 229h1v1h-1zM227 229h1v1h-1zM228 230h1v1h-1zM229 231h1v1h-1zM230 231h1v1h-1zM231 231h1v1h-1zM232 231h1v1h-1zM233 231h1v1h-1zM234 232h1v1h-1zM235 233h1v1h-1zM236 234h1v1h-1zM237 235h1v1h-1zM238 236h1v1h-1zM239 237h1v1h-1zM240 238h1v1h-1zM241 239h1v1h-1zM242 240h1v1h-1zM243 240h1v1h-1zM244 241h1v1h-1zM245 242h1v1h-1zM246 243h1v2h-1zM247 245h1v1h-1zM248 246h1v2h-1zM249 248h1v2h-1zM250 250h1v2h-1zM251 252h1v3h-1zM252 255h1v2h-1zM253 257h1v3h-1zM254 260h1v4h-1zM255 264h1v3h-1zM256 267h1v4h-1zM257 271h1v3h-1zM258 274h1v3h-1zM259 277h1v3h-1zM260 280h1v3h-1zM261 283h1v4h-1zM262 287h1v4h-1zM263 291h1v4h-1zM264 295h1v4h-1zM265 299h1v4h-1zM266 303h1v3h-1zM267 306h1v3h-1zM268 309h1v3h-1zM269 312h1v3h-1zM270 315h1v2h-1zM271 317h1v3h-1zM272 320h1v2h-1zM273 322h1v2h-1zM274 323h1v1h-1zM275 322h1v1h-1zM276 322h1v1h-1zM277 321h1v1h-1zM278 320h1v1h-1zM279 319h1v1h-1zM280 318h1v1h-1zM281 316h1v2h-1zM282 312h1v4h-1zM283 309h1v3h-1zM284 305h1v4h-1zM285 302h1v3h-1zM286 300h1v2h-1zM287 298h1v2h-1zM288 296h1v2h-1zM289 294h1v2h-1zM290 293h1v1h-1zM291 293h1v1h-1zM292 292h1v1h-1zM293 291h1v1h-1zM294 291h1v1h-1zM295 292h1v1h-1zM296 292h1v1h-1zM297 293h1v1h-1zM298 292h1v1h-1zM299 291h1v1h-1zM300 290h1v1h-1zM301 289h1v1h-1zM302 289h1v1h-1zM303 289h1v1h-1zM304 288h1v1h-1zM305 288h1v1h-1zM306 287h1v1h-1zM307 287h1v1h-1zM308 286h1v1h-1zM309 284h1v2h-1zM310 282h1v2h-1zM311 280h1v2h-1zM312 278h1v2h-1zM313 276h1v2h-1zM314 273h1v3h-1zM315 271h1v2h-1zM316 268h1v3h-1zM317 266h1v2h-1zM318 265h1v1h-1zM319 264h1v1h-1zM320 263h1v1h-1zM321 262h1v1h-1zM322 262h1v1h-1zM323 262h1v1h-1zM324 261h1v1h-1zM325 261h1v1h-1zM326 262h1v1h-1zM327 263h1v2h-1zM328 265h1v1h-1zM329 266h1v1h-1zM330 267h1v1h-1zM331 267h1v1h-1zM332 268h1v1h-1zM333 269h1v1h-1zM334 270h1v1h-1zM335 271h1v1h-1zM336 272h1v1h-1zM337 273h1v1h-1zM338 274h1v1h-1zM339 274h1v1h-1zM340 275h1v1h-1zM341 276h1v1h-1zM342 276h1v1h-1zM343 276h1v1h-1zM344 276h1v1h-1zM345 276h1v1h-1zM346 274h1v2h-1zM347 273h1v1h-1zM348 271h1v2h-1zM349 269h1v2h-1zM350 265h1v4h-1zM351 261h1v4h-1zM352 257h1v4h-1zM353 255h1v2h-1zM354 254h1v1h-1zM355 253h1v1h-1zM356 252h1v1h-1zM357 251h1v1h-1zM358 250h1v1h-1zM359 249h1v1h-1zM360 248h1v1h-1zM361 247h1v1h-1zM362 247h1v1h-1zM363 247h1v1h-1zM364 248h1v1h-1zM365 248h1v1h-1zM366 249h1v1h-1zM367 250h1v1h-1zM368 251h1v1h-1zM369 252h1v2h-1zM370 254h1v2h-1zM371 256h1v3h-1zM372 259h1v2h-1zM373 261h1v2h-1zM374 263h1v1h-1zM375 264h1v2h-1zM376 266h1v1h-1zM377 267h1v1h-1zM378 268h1v1h-1zM379 268h1v1h-1zM380 269h1v1h-1zM381 270h1v2h-1zM382 272h1v4h-1zM383 276h1v3h-1zM384 279h1v4h-1zM385 283h1v2h-1zM386 285h1v1h-1zM387 286h1v1h-1zM388 287h1v1h-1zM389 288h1v2h-1zM390 290h1v2h-1zM391 292h1v2h-1zM392 294h1v2h-1zM393 296h1v3h-1zM394 299h1v2h-1zM395 301h1v3h-1zM396 304h1v2h-1zM397 306h1v3h-1zM398 309h1v3h-1zM399 312h1v3h-1zM400 315h1v3h-1zM401 318h1v2h-1zM402 317h1v2h-1zM403 315h1v2h-1zM404 313h1v2h-1zM405 312h1v1h-1zM406 313h1v1h-1zM407 313h1v1h-1zM408 314h1v1h-1zM409 315h1v1h-1zM410 315h1v1h-1zM411 315h1v1h-1zM412 316h1v1h-1zM413 316h1v1h-1zM414 316h1v1h-1zM415 315h1v1h-1zM416 315h1v1h-1zM417 314h1v1h-1zM418 313h1v1h-1zM419 311h1v2h-1zM420 310h1v1h-1zM421 309h1v1h-1zM422 309h1v1h-1zM423 309h1v1h-1zM424 308h1v1h-1zM425 308h1v1h-1zM426 308h1v1h-1zM427 308h1v1h-1zM428 308h1v1h-1zM429 308h1v1h-1zM430 308h1v1h-1zM431 309h1v1h-1zM432 309h1v1h-1zM433 310h1v1h-1zM434 310h1v1h-1zM435 311h1v1h-1zM436 311h1v1h-1zM437 312h1v1h-1zM438 313h1v1h-1zM439 314h1v2h-1zM440 316h1v1h-1zM441 317h1v1h-1zM442 318h1v2h-1zM443 320h1v2h-1zM444 322h1v2h-1zM445 324h1v2h-1zM446 326h1v3h-1zM447 329h1v2h-1zM448 331h1v3h-1zM449 334h1v3h-1zM450 337h1v2h-1zM451 339h1v2h-1zM452 341h1v2h-1zM453 343h1v2h-1zM454 345h1v2h-1zM455 347h1v2h-1zM456 349h1v2h-1zM457 351h1v3h-1zM458 354h1v2h-1zM459 356h1v2h-1zM460 358h1v2h-1zM461 360h1v1h-1zM462 361h1v1h-1zM463 361h1v1h-1zM464 362h1v1h-1zM465 363h1v1h-1zM466 363h1v1h-1zM467 362h1v1h-1zM468 362h1v1h-1zM469 361h1v1h-1zM470 362h1v1h-1zM471 363h1v1h-1zM472 364h1v1h-1zM473 365h1v1h-1zM474 366h1v1h-1zM475 367h1v1h-1zM476 368h1v1h-1zM477 369h1v2h-1zM478 371h1v2h-1zM479 373h1v3h-1zM480 376h1v2h-1zM481 378h1v3h-1zM482 381h1v4h-1zM483 385h1v3h-1zM484 388h1v4h-1zM485 392h1v3h-1zM486 395h1v4h-1zM487 399h1v4h-1zM488 403h1v4h-1zM489 407h1v3h-1zM490 410h1v4h-1zM491 414h1v4h-1zM492 418h1v4h-1zM493 422h1v4h-1zM494 426h1v4h-1zM495 430h1v4h-1zM496 434h1v4h-1zM497 438h1v4h-1zM498 442h1v2h-1zM499 444h1v2h-1zM500 446h1v2h-1zM501 448h1v3h-1zM502 451h1v3h-1zM503 454h1v2h-1zM504 456h1v3h-1zM505 459h1v3h-1zM506 462h1v3h-1zM507 465h1v3h-1zM508 468h1v3h-1zM509 471h1v2h-1zM510 473h1v2h-1zM511 475h1v1h-1zM512 476h1v2h-1zM513 478h1v1h-1zM514 479h1v1h-1zM515 480h1v1h-1zM516 481h1v1h-1zM517 482h1v1h-1zM518 481h1v1h-1zM519 479h1v2h-1zM520 478h1v1h-1zM521 476h1v2h-1zM522 474h1v2h-1zM523 472h1v2h-1zM524 470h1v2h-1zM525 466h1v4h-1zM526 461h1v5h-1zM527 456h1v5h-1zM528 451h1v5h-1zM529 446h1v5h-1zM530 442h1v4h-1zM531 437h1v5h-1zM532 433h1v4h-1zM533 428h1v5h-1zM534 424h1v4h-1zM535 420h1v4h-1zM536 416h1v4h-1zM537 411h1v5h-1zM538 406h1v5h-1zM539 400h1v6h-1zM540 395h1v5h-1zM541 390h1v5h-1zM542 386h1v4h-1zM543 382h1v4h-1zM544 378h1v4h-1zM545 374h1v4h-1zM546 372h1v2h-1zM547 370h1v2h-1zM548 368h1v2h-1zM549 365h1v3h-1zM550 361h1v4h-1zM551 356h1v5h-1zM552 352h1v4h-1zM553 347h1v5h-1zM554 342h1v5h-1zM555 338h1v4h-1zM556 333h1v5h-1zM557 330h1v3h-1zM558 329h1v1h-1zM559 329h1v1h-1zM560 328h1v1h-1zM561 326h1v2h-1zM562 323h1v3h-1zM563 321h1v2h-1zM564 318h1v3h-1zM565 316h1v2h-1zM566 314h1v2h-1zM567 313h1v1h-1zM568 311h1v2h-1zM569 310h1v2h-1zM570 312h1v2h-1zM571 314h1v2h-1zM572 316h1v2h-1zM573 318h1v1h-1zM574 319h1v2h-1zM575 321h1v2h-1zM576 323h1v2h-1zM577 325h1v1h-1zM578 325h1v1h-1zM579 325h1v1h-1zM580 324h1v1h-1zM581 324h1v1h-1zM582 324h1v1h-1zM583 325h1v1h-1zM584 325h1v1h-1zM585 326h1v1h-1zM586 326h1v1h-1zM587 326h1v1h-1zM588 326h1v1h-1zM589 326h1v1h-1zM590 326h1v1h-1zM591 326h1v1h-1zM592 326h1v1h-1zM593 326h1v1h-1zM594 326h1v1h-1zM595 326h1v1h-1zM596 327h1v1h-1zM597 327h1v1h-1zM598 328h1v2h-1zM599 330h1v1h-1zM600 331h1v2h-1zM601 333h1v1h-1zM602 334h1v1h-1zM603 334h1v1h-1zM604 335h1v1h-1zM605 336h1v1h-1zM606 336h1v1h-1zM607 336h1v1h-1zM608 335h1v1h-1zM609 335h1v1h-1zM610 334h1v1h-1zM611 333h1v1h-1zM612 332h1v1h-1zM613 331h1v1h-1zM614 329h1v2h-1zM615 327h1v2h-1zM616 325h1v2h-1zM617 324h1v1h-1zM618 322h1v2h-1zM619 321h1v1h-1zM620 319h1v2h-1zM621 317h1v2h-1zM622 314h1v3h-1zM623 310h1v4h-1zM624 307h1v3h-1zM625 304h1v3h-1zM626 301h1v3h-1zM627 298h1v3h-1zM628 295h1v3h-1zM629 292h1v3h-1zM630 288h1v4h-1zM631 285h1v3h-1zM632 281h1v4h-1zM633 278h1v3h-1zM634 276h1v2h-1zM635 274h1v2h-1zM636 272h1v2h-1zM637 271h1v1h-1zM638 270h1v1h-1zM639 269h1v1h-1zM640 268h1v1h-1zM641 267h1v1h-1zM642 268h1v1h-1zM643 269h1v1h-1zM644 270h1v1h-1zM645 271h1v2h-1zM646 273h1v2h-1zM647 275h1v2h-1zM648 277h1v2h-1zM649 279h1v2h-1zM650 281h1v3h-1zM651 284h1v4h-1zM652 288h1v3h-1zM653 291h1v3h-1zM654 294h1v3h-1zM655 297h1v3h-1zM656 300h1v3h-1zM657 303h1v4h-1zM658 307h1v4h-1zM659 311h1v4h-1zM660 315h1v4h-1zM661 319h1v5h-1zM662 324h1v6h-1zM663 330h1v6h-1zM664 336h1v6h-1zM665 342h1v6h-1zM666 348h1v6h-1zM667 354h1v6h-1zM668 360h1v6h-1zM669 366h1v4h-1zM670 370h1v4h-1zM671 374h1v3h-1zM672 377h1v4h-1zM673 381h1v3h-1zM674 384h1v3h-1zM675 387h1v4h-1zM676 391h1v3h-1zM677 394h1v2h-1zM678 396h1v2h-1zM679 398h1v2h-1zM680 400h1v2h-1zM681 402h1v1h-1zM682 401h1v1h-1zM683 401h1v1h-1zM684 400h1v1h-1zM685 398h1v2h-1zM686 395h1v3h-1zM687 393h1v2h-1zM688 390h1v3h-1zM689 388h1v2h-1zM690 386h1v2h-1zM691 385h1v1h-1zM692 383h1v2h-1zM693 379h1v4h-1zM694 372h1v7h-1zM695 365h1v7h-1zM696 358h1v7h-1zM697 351h1v7h-1zM698 345h1v6h-1zM699 339h1v6h-1zM700 333h1v6h-1zM701 327h1v6h-1zM702 321h1v6h-1zM703 316h1v5h-1zM704 310h1v6h-1zM705 306h1v4h-1zM706 304h1v2h-1zM707 302h1v2h-1zM708 300h1v2h-1zM709 296h1v4h-1zM710 291h1v5h-1zM711 286h1v5h-1zM712 281h1v5h-1zM713 277h1v4h-1zM714 275h1v2h-1zM715 272h1v3h-1zM716 270h1v2h-1zM717 264h1v6h-1zM718 256h1v8h-1zM719 248h1v8h-1zM720 240h1v8h-1zM721 233h1v7h-1zM722 226h1v7h-1zM723 219h1v7h-1zM724 212h1v7h-1zM725 204h1v8h-1zM726 195h1v9h-1zM727 186h1v9h-1zM728 177h1v9h-1zM729 169h1v8h-1zM730 163h1v6h-1zM731 157h1v6h-1zM732 151h1v6h-1zM733 147h1v4h-1zM734 147h1v1h-1zM735 147h1v1h-1zM736 146h1v1h-1zM737 146h1v1h-1zM738 147h1v1h-1zM739 148h1v1h-1zM740 149h1v1h-1zM741 150h1v2h-1zM742 152h1v3h-1zM743 155h1v3h-1zM744 158h1v3h-1zM745 161h1v2h-1zM746 163h1v2h-1zM747 165h1v2h-1zM748 167h1v2h-1zM749 169h1v2h-1zM750 171h1v3h-1zM751 174h1v2h-1zM752 176h1v3h-1zM753 179h1v2h-1zM754 177h1v2h-1zM755 174h1v3h-1zM756 172h1v2h-1zM757 170h1v2h-1zM758 172h1v3h-1zM759 175h1v4h-1zM760 179h1v3h-1zM761 182h1v2h-1zM762 181h1v2h-1zM763 179h1v2h-1zM764 177h1v2h-1zM765 176h1v1h-1zM766 177h1v1h-1zM767 178h1v2h-1zM768 180h1v1h-1zM769 180h1v2h-1zM770 178h1v2h-1zM771 176h1v2h-1zM772 174h1v2h-1zM773 173h1v1h-1zM774 174h1v1h-1zM775 174h1v1h-1zM776 175h1v1h-1zM777 176h1v1h-1zM778 174h1v2h-1zM779 172h1v2h-1zM780 170h1v2h-1zM781 169h1v2h-1zM782 171h1v4h-1zM783 175h1v4h-1zM784 179h1v4h-1zM785 183h1v2h-1zM786 185h1v1h-1zM787 186h1v1h-1zM788 187h1v1h-1zM789 188h1v3h-1zM790 191h1v4h-1zM791 195h1v5h-1zM792 200h1v4h-1zM793 204h1v5h-1zM794 209h1v4h-1zM795 213h1v4h-1zM796 217h1v4h-1zM797 221h1v5h-1zM798 226h1v4h-1zM799 230h1v4h-1zM800 234h1v4h-1zM801 238h1v3h-1zM802 240h1v1h-1zM803 240h1v1h-1zM804 240h1v1h-1zM805 240h1v1h-1zM806 241h1v2h-1zM807 243h1v2h-1zM808 245h1v2h-1zM809 247h1v1h-1zM810 245h1v2h-1zM811 244h1v1h-1zM812 242h1v2h-1zM813 240h1v2h-1zM814 238h1v2h-1zM815 235h1v3h-1zM816 233h1v2h-1zM817 230h1v3h-1zM818 228h1v2h-1zM819 226h1v2h-1zM820 224h1v2h-1zM821 222h1v2h-1zM822 221h1v1h-1zM823 219h1v2h-1zM824 218h1v1h-1zM825 216h1v2h-1zM826 213h1v3h-1zM827 211h1v2h-1zM828 208h1v3h-1zM829 205h1v3h-1zM830 203h1v2h-1zM831 201h1v2h-1zM832 199h1v2h-1zM833 198h1v1h-1zM834 198h1v1h-1zM835 197h1v1h-1zM836 197h1v1h-1zM837 196h1v1h-1zM838 196h1v1h-1zM839 195h1v1h-1zM840 195h1v1h-1zM841 194h1v1h-1zM842 193h1v1h-1zM843 191h1v2h-1zM844 190h1v1h-1zM845 189h1v1h-1zM846 189h1v1h-1zM847 188h1v1h-1zM848 188h1v1h-1zM849 187h1v1h-1zM850 188h1v1h-1zM851 188h1v1h-1zM852 189h1v1h-1zM853 190h1v1h-1zM854 190h1v1h-1zM855 191h1v1h-1zM856 191h1v1h-1zM857 192h1v1h-1zM858 192h1v1h-1zM859 192h1v1h-1zM860 192h1v1h-1zM861 192h1v1h-1zM862 193h1v2h-1zM863 195h1v2h-1zM864 197h1v2h-1zM865 198h1v2h-1zM866 195h1v3h-1zM867 192h1v3h-1zM868 189h1v3h-1zM869 186h1v3h-1zM870 183h1v3h-1zM871 180h1v3h-1zM872 177h1v3h-1zM873 174h1v3h-1zM874 171h1v3h-1zM875 167h1v4h-1zM876 164h1v3h-1zM877 161h1v3h-1zM878 159h1v2h-1zM879 156h1v3h-1zM880 154h1v2h-1zM881 150h1v4h-1zM882 146h1v4h-1zM883 142h1v4h-1zM884 138h1v4h-1zM885 136h1v2h-1zM886 138h1v3h-1zM887 141h1v2h-1zM888 143h1v3h-1zM889 146h1v3h-1zM890 149h1v4h-1zM891 153h1v3h-1zM892 156h1v4h-1zM893 160h1v3h-1zM894 163h1v3h-1zM895 166h1v2h-1zM896 168h1v3h-1zM897 171h1v2h-1zM898 173h1v1h-1zM899 173h1v1h-1zM900 174h1v1h-1zM901 175h1v1h-1zM902 176h1v2h-1zM903 178h1v2h-1zM904 180h1v2h-1zM905 182h1v1h-1zM906 181h1v1h-1zM907 180h1v1h-1zM908 179h1v1h-1zM909 177h1v2h-1zM910 175h1v2h-1zM911 173h1v2h-1zM912 171h1v2h-1zM913 168h1v3h-1zM914 166h1v2h-1zM915 163h1v3h-1zM916 161h1v2h-1zM917 159h1v2h-1zM918 157h1v2h-1zM919 156h1v1h-1zM920 154h1v2h-1zM921 153h1v1h-1zM922 152h1v1h-1zM923 150h1v2h-1zM924 149h1v1h-1zM925 148h1v1h-1zM926 148h1v1h-1zM927 148h1v1h-1zM928 147h1v1h-1zM929 147h1v1h-1zM930 148h1v1h-1zM931 149h1v2h-1zM932 151h1v1h-1zM933 152h1v1h-1zM934 152h1v1h-1zM935 152h1v1h-1zM936 153h1v1h-1zM937 153h1v1h-1zM938 152h1v1h-1zM939 151h1v1h-1zM940 150h1v1h-1zM941 149h1v1h-1zM942 147h1v2h-1zM943 146h1v1h-1zM944 144h1v2h-1zM945 142h1v2h-1zM946 140h1v2h-1zM947 137h1v3h-1zM948 135h1v2h-1zM949 132h1v3h-1zM950 129h1v3h-1zM951 127h1v2h-1zM952 124h1v3h-1zM953 120h1v4h-1zM954 116h1v4h-1zM955 112h1v4h-1zM956 108h1v4h-1zM957 105h1v3h-1zM958 105h1v1h-1zM959 104h1v1h-1zM960 104h1v1h-1zM961 103h1v1h-1zM962 102h1v1h-1zM963 100h1v2h-1zM964 99h1v1h-1zM965 98h1v1h-1zM966 98h1v1h-1zM967 97h1v1h-1zM968 97h1v1h-1zM969 96h1v1h-1zM970 97h1v1h-1zM971 97h1v1h-1zM972 98h1v1h-1zM973 99h1v3h-1zM974 102h1v5h-1zM975 107h1v6h-1zM976 113h1v5h-1zM977 118h1v4h-1zM978 122h1v2h-1zM979 124h1v3h-1zM980 127h1v2h-1zM981 129h1v3h-1zM982 132h1v3h-1zM983 135h1v4h-1zM984 139h1v3h-1zM985 142h1v4h-1zM986 146h1v6h-1zM987 152h1v6h-1zM988 158h1v6h-1zM989 164h1v5h-1zM990 169h1v4h-1zM991 173h1v4h-1zM992 177h1v4h-1zM993 181h1v4h-1zM994 185h1v4h-1zM995 189h1v3h-1zM996 192h1v4h-1zM997 196h1v3h-1zM998 199h1v2h-1zM999 201h1v3h-1zM1000 204h1v2h-1zM1001 206h1v4h-1zM1002 210h1v4h-1zM1003 214h1v4h-1zM1004 218h1v4h-1zM1005 222h1v3h-1zM1006 224h1v1h-1zM1007 224h1v1h-1zM1008 224h1v1h-1zM1009 224h1v1h-1zM1010 224h1v1h-1zM1011 224h1v1h-1zM1012 223h1v1h-1zM1013 223h1v1h-1zM1014 221h1v2h-1zM1015 220h1v1h-1zM1016 218h1v2h-1zM1017 217h1v1h-1zM1018 217h1v1h-1zM1019 216h1v1h-1zM1020 216h1v1h-1zM1021 214h1v2h-1zM1022 212h1v2h-1zM1023 210h1v2h-1zM1024 208h1v2h-1zM1025 206h1v2h-1zM1026 205h1v1h-1zM1027 205h1v1h-1zM1028 204h1v1h-1zM1029 203h1v1h-1zM1030 203h1v1h-1zM1031 203h1v1h-1zM1032 202h1v1h-1zM1033 202h1v1h-1zM1034 202h1v1h-1zM1035 202h1v1h-1zM1036 203h1v1h-1zM1037 203h1v1h-1zM1038 203h1v1h-1zM1039 204h1v1h-1zM1040 204h1v1h-1zM1041 205h1v1h-1zM1042 206h1v2h-1zM1043 208h1v2h-1zM1044 210h1v2h-1zM1045 212h1v1h-1zM1046 213h1v2h-1zM1047 215h1v2h-1zM1048 217h1v2h-1zM1049 219h1v1h-1zM1050 220h1v1h-1zM1051 220h1v1h-1zM1052 221h1v1h-1zM1053 222h1v1h-1zM1054 222h1v1h-1zM1055 221h1v1h-1zM1056 221h1v1h-1zM1057 220h1v1h-1zM1058 220h1v1h-1zM1059 219h1v1h-1zM1060 219h1v1h-1zM1061 217h1v2h-1zM1062 215h1v2h-1zM1063 213h1v2h-1zM1064 211h1v2h-1zM1065 210h1v1h-1zM1066 208h1v2h-1zM1067 207h1v1h-1zM1068 205h1v2h-1zM1069 204h1v1h-1zM1070 204h1v1h-1zM1071 204h1v1h-1zM1072 205h1v1h-1zM1073 205h1v1h-1zM1074 206h1v1h-1zM1075 207h1v1h-1zM1076 208h1v1h-1zM1077 209h1v1h-1zM1078 210h1v1h-1zM1079 211h1v1h-1zM1080 212h1v1h-1zM1081 213h1v1h-1zM1082 214h1v2h-1zM1083 216h1v1h-1zM1084 217h1v2h-1zM1085 219h1v1h-1zM1086 219h1v1h-1zM1087 220h1v1h-1zM1088 220h1v1h-1zM1089 221h1v2h-1zM1090 223h1v4h-1zM1091 227h1v3h-1zM1092 230h1v4h-1zM1093 234h1v3h-1zM1094 237h1v4h-1zM1095 241h1v3h-1zM1096 244h1v4h-1zM1097 248h1v4h-1zM1098 252h1v4h-1zM1099 256h1v5h-1zM1100 261h1v4h-1zM1101 265h1v5h-1zM1102 270h1v5h-1zM1103 275h1v4h-1zM1104 279h1v5h-1zM1105 284h1v5h-1zM1106 289h1v4h-1zM1107 293h1v4h-1zM1108 297h1v4h-1zM1109 301h1v3h-1zM1110 303h1v1h-1zM1111 304h1v1h-1zM1112 304h1v1h-1zM1113 305h1v1h-1zM1114 306h1v1h-1zM1115 307h1v1h-1zM1116 308h1v1h-1zM1117 309h1v1h-1zM1118 309h1v1h-1zM1119 308h1v1h-1zM1120 308h1v1h-1zM1121 307h1v1h-1zM1122 307h1v1h-1zM1123 308h1v1h-1zM1124 308h1v1h-1zM1125 309h1v1h-1zM1126 310h1v2h-1zM1127 312h1v1h-1zM1128 313h1v2h-1zM1129 315h1v1h-1zM1130 316h1v1h-1zM1131 317h1v1h-1zM1132 318h1v1h-1zM1133 319h1v1h-1zM1134 319h1v1h-1zM1135 320h1v1h-1zM1136 320h1v1h-1zM1137 321h1v1h-1zM1138 322h1v2h-1zM1139 324h1v1h-1zM1140 325h1v2h-1zM1141 327h1v1h-1zM1142 327h1v1h-1zM1143 327h1v1h-1zM1144 328h1v1h-1zM1145 328h1v1h-1zM1146 327h1v1h-1zM1147 326h1v1h-1zM1148 325h1v1h-1zM1149 324h1v1h-1zM1150 323h1v1h-1zM1151 323h1v1h-1zM1152 322h1v1h-1zM1153 320h1v2h-1zM1154 318h1v2h-1zM1155 316h1v2h-1zM1156 314h1v2h-1zM1157 311h1v3h-1zM1158 309h1v2h-1zM1159 307h1v2h-1zM1160 305h1v2h-1zM1161 304h1v1h-1zM1162 302h1v2h-1zM1163 301h1v1h-1zM1164 299h1v2h-1zM1165 298h1v1h-1zM1166 298h1v1h-1zM1167 298h1v1h-1zM1168 299h1v1h-1zM1169 299h1v1h-1zM1170 299h1v1h-1zM1171 299h1v1h-1zM1172 299h1v1h-1zM1173 299h1v1h-1zM1174 300h1v1h-1zM1175 300h1v1h-1zM1176 301h1v1h-1zM1177 302h1v2h-1zM1178 304h1v2h-1zM1179 306h1v3h-1zM1180 309h1v2h-1zM1181 311h1v2h-1zM1182 313h1v1h-1zM1183 314h1v1h-1zM1184 315h1v1h-1zM1185 316h1v1h-1zM1186 317h1v1h-1zM1187 318h1v2h-1zM1188 320h1v1h-1zM1189 321h1v1h-1zM1190 322h1v2h-1zM1191 324h1v1h-1zM1192 325h1v2h-1zM1193 327h1v3h-1zM1194 330h1v5h-1zM1195 335h1v6h-1zM1196 341h1v5h-1zM1197 346h1v4h-1zM1198 350h1v2h-1zM1199 352h1v2h-1zM1200 354h1v2h-1zM1201 356h1v2h-1zM1202 358h1v1h-1zM1203 359h1v2h-1zM1204 361h1v1h-1zM1205 362h1v1h-1zM1206 363h1v1h-1zM1207 363h1v1h-1zM1208 364h1v1h-1zM1209 365h1v1h-1zM1210 366h1v1h-1zM1211 367h1v2h-1zM1212 369h1v1h-1zM1213 370h1v1h-1zM1214 369h1v1h-1zM1215 369h1v1h-1zM1216 368h1v1h-1zM1217 367h1v1h-1zM1218 368h1v1h-1zM1219 369h1v1h-1zM1220 370h1v1h-1zM1221 371h1v1h-1zM1222 372h1v2h-1zM1223 374h1v2h-1zM1224 376h1v2h-1zM1225 378h1v1h-1zM1226 379h1v2h-1zM1227 381h1v2h-1zM1228 383h1v2h-1zM1229 385h1v1h-1zM1230 386h1v1h-1zM1231 387h1v2h-1zM1232 389h1v1h-1zM1233 390h1v1h-1zM1234 391h1v1h-1zM1235 391h1v1h-1zM1236 392h1v1h-1zM1237 393h1v1h-1zM1238 394h1v2h-1zM1239 396h1v1h-1zM1240 397h1v2h-1zM1241 399h1v2h-1zM1242 401h1v2h-1zM1243 403h1v3h-1zM1244 406h1v2h-1zM1245 408h1v3h-1zM1246 411h1v2h-1zM1247 413h1v2h-1zM1248 415h1v2h-1zM1249 417h1v2h-1zM1250 419h1v1h-1zM1251 420h1v2h-1zM1252 422h1v1h-1zM1253 423h1v1h-1zM1254 424h1v1h-1zM1255 424h1v1h-1zM1256 425h1v1h-1zM1257 426h1v1h-1zM1258 426h1v1h-1zM1259 426h1v1h-1zM1260 426h1v1h-1zM1261 426h1v1h-1zM1262 426h1v1h-1zM1263 426h1v1h-1zM1264 426h1v1h-1zM1265 426h1v1h-1zM1266 426h1v1h-1zM1267 427h1v1h-1zM1268 427h1v1h-1zM1269 428h1v1h-1z" fill="#ffa500"/></g>
<rect x="5" y="40" width="1592" height="2" fill="#ff0000"/>
<rect x="5" y="176" width="1592" height="2" fill="#ff0000"/>
<rect x="5" y="309" width="1592" height="2" fill="#00ff00"/>
<rect x="5" y="466" width="1592" height="2" fill="#0000ff"/>
<path d="M1273 26 L1282 26 L1277.5 31 Z" fill="#c0c0c0" shape-rendering="auto"/>
<path d="M8 32 L15 32 L11.5 36 Z" fill="#000" shape-rendering="auto"/>
<text class="t" x="20" y="37"><tspan class="tw">USDCNH,Daily</tspan><tspan x="92">6.90953 6.91335 6.90141 6.90178</tspan></text>
<rect x="1598" y="32" width="2" height="1" fill="#000"/>
<text class="t" x="1603" y="35.5">7.20890</text>
<rect x="1598" y="65" width="2" height="1" fill="#000"/>
<text class="t" x="1603" y="68.5">7.18440</text>
<rect x="1598" y="98" width="2" height="1" fill="#000"/>
<text class="t" x="1603" y="101.5">7.15920</text>
<rect x="1598" y="131" width="2" height="1" fill="#000"/>
<text class="t" x="1603" y="134.5">7.13470</text>
<rect x="1598" y="164" width="2" height="1" fill="#000"/>
<text class="t" x="1603" y="167.5">7.11020</text>
<rect x="1598" y="197" width="2" height="1" fill="#000"/>
<text class="t" x="1603" y="200.5">7.08500</text>
<rect x="1598" y="230" width="2" height="1" fill="#000"/>
<text class="t" x="1603" y="233.5">7.06050</text>
<rect x="1598" y="263" width="2" height="1" fill="#000"/>
<text class="t" x="1603" y="266.5">7.03530</text>
<rect x="1598" y="296" width="2" height="1" fill="#000"/>
<text class="t" x="1603" y="299.5">7.01080</text>
<rect x="1598" y="329" width="2" height="1" fill="#000"/>
<text class="t" x="1603" y="332.5">6.98630</text>
<rect x="1598" y="362" width="2" height="1" fill="#000"/>
<text class="t" x="1603" y="365.5">6.96110</text>
<rect x="1598" y="395" width="2" height="1" fill="#000"/>
<text class="t" x="1603" y="398.5">6.93660</text>
<rect x="1598" y="428" width="2" height="1" fill="#000"/>
<text class="t" x="1603" y="431.5">6.91210</text>
<rect x="1598" y="461" width="2" height="1" fill="#000"/>
<text class="t" x="1603" y="464.5">6.88690</text>
<rect x="1598" y="494" width="2" height="1" fill="#000"/>
<text class="t" x="1603" y="497.5">6.86240</text>
<rect x="1598" y="527" width="2" height="1" fill="#000"/>
<text class="t" x="1603" y="530.5">6.83790</text>
<rect x="1599" y="35" width="41" height="11" fill="#ff0000"/>
<text class="t w" x="1603" y="43.5">7.20193</text>
<rect x="1599" y="171" width="41" height="11" fill="#ff0000"/>
<text class="t w" x="1603" y="179.5">7.10011</text>
<rect x="1599" y="304" width="41" height="11" fill="#00ff00"/>
<text class="t w" x="1603" y="312.5">7.00029</text>
<rect x="1599" y="437" width="41" height="11" fill="#000000"/>
<text class="t w" x="1603" y="445.5">6.90178</text>
<rect x="1599" y="461" width="41" height="11" fill="#0000ff"/>
<text class="t w" x="1603" y="469.5">6.88250</text>
<rect x="5" y="560" width="1592" height="1" fill="none"/>
<line x1="6" y1="560.5" x2="1598" y2="560.5" stroke="#c0c0c0" stroke-width="1" stroke-dasharray="3,3"/>
<line x1="6" y1="596.5" x2="1598" y2="596.5" stroke="#c0c0c0" stroke-width="1" stroke-dasharray="3,3"/>
<path d="M5 560h1v1h-1zM6 560h1v1h-1zM7 560h1v1h-1zM8 560h1v1h-1zM9 560h1v1h-1zM10 559h1v1h-1zM11 558h1v1h-1zM12 557h1v1h-1zM13 556h1v1h-1zM14 556h1v1h-1zM15 557h1v1h-1zM16 557h1v1h-1zM17 558h1v1h-1zM18 558h1v1h-1zM19 558h1v1h-1zM20 557h1v1h-1zM21 557h1v1h-1zM22 558h1v2h-1zM23 560h1v1h-1zM24 561h1v2h-1zM25 563h1v1h-1zM26 563h1v1h-1zM27 562h1v1h-1zM28 562h1v1h-1zM29 561h1v1h-1zM30 561h1v1h-1zM31 561h1v1h-1zM32 561h1v1h-1zM33 561h1v1h-1zM34 561h1v1h-1zM35 560h1v1h-1zM36 560h1v1h-1zM37 559h1v1h-1zM38 559h1v1h-1zM39 559h1v1h-1zM40 560h1v1h-1zM41 560h1v2h-1zM42 562h1v2h-1zM43 564h1v2h-1zM44 566h1v2h-1zM45 568h1v1h-1zM46 568h1v1h-1zM47 569h1v1h-1zM48 569h1v1h-1zM49 570h1v1h-1zM50 571h1v1h-1zM51 572h1v2h-1zM52 574h1v1h-1zM53 575h1v1h-1zM54 575h1v1h-1zM55 576h1v1h-1zM56 576h1v1h-1zM57 577h1v1h-1zM58 576h1v1h-1zM59 576h1v1h-1zM60 575h1v1h-1zM61 574h1v1h-1zM62 575h1v1h-1zM63 575h1v1h-1zM64 576h1v1h-1zM65 577h1v1h-1zM66 577h1v1h-1zM67 576h1v1h-1zM68 576h1v1h-1zM69 575h1v2h-1zM70 577h1v3h-1zM71 580h1v2h-1zM72 582h1v3h-1zM73 585h1v2h-1zM74 587h1v1h-1zM75 588h1v2h-1zM76 590h1v1h-1zM77 591h1v1h-1zM78 590h1v1h-1zM79 590h1v1h-1zM80 589h1v1h-1zM81 588h1v1h-1zM82 587h1v1h-1zM83 585h1v2h-1zM84 584h1v1h-1zM85 583h1v1h-1zM86 582h1v1h-1zM87 581h1v1h-1zM88 580h1v1h-1zM89 579h1v1h-1zM90 579h1v1h-1zM91 579h1v1h-1zM92 580h1v1h-1zM93 580h1v1h-1zM94 579h1v1h-1zM95 578h1v1h-1zM96 577h1v1h-1zM97 576h1v1h-1zM98 576h1v1h-1zM99 577h1v1h-1zM100 577h1v1h-1zM101 578h1v1h-1zM102 577h1v1h-1zM103 575h1v2h-1zM104 574h1v1h-1zM105 573h1v1h-1zM106 573h1v1h-1zM107 573h1v1h-1zM108 573h1v1h-1zM109 573h1v1h-1zM110 573h1v1h-1zM111 573h1v1h-1zM112 573h1v1h-1zM113 573h1v1h-1zM114 572h1v1h-1zM115 572h1v1h-1zM116 571h1v1h-1zM117 570h1v1h-1zM118 570h1v1h-1zM119 570h1v1h-1zM120 571h1v1h-1zM121 571h1v1h-1zM122 571h1v1h-1zM123 570h1v1h-1zM124 570h1v1h-1zM125 569h1v1h-1zM126 569h1v1h-1zM127 568h1v1h-1zM128 568h1v1h-1zM129 567h1v1h-1zM130 567h1v1h-1zM131 567h1v1h-1zM132 568h1v1h-1zM133 568h1v1h-1zM134 568h1v1h-1zM135 568h1v1h-1zM136 567h1v1h-1zM137 567h1v1h-1zM138 567h1v1h-1zM139 567h1v1h-1zM140 568h1v1h-1zM141 568h1v1h-1zM142 569h1v2h-1zM143 571h1v1h-1zM144 572h1v2h-1zM145 574h1v1h-1zM146 575h1v1h-1zM147 576h1v1h-1zM148 577h1v1h-1zM149 578h1v1h-1zM150 578h1v1h-1zM151 579h1v1h-1zM152 579h1v1h-1zM153 580h1v1h-1zM154 578h1v2h-1zM155 577h1v1h-1zM156 575h1v2h-1zM157 574h1v1h-1zM158 573h1v1h-1zM159 571h1v2h-1zM160 570h1v1h-1zM161 569h1v1h-1zM162 570h1v1h-1zM163 571h1v1h-1zM164 572h1v1h-1zM165 573h1v2h-1zM166 575h1v2h-1zM167 577h1v2h-1zM168 579h1v2h-1zM169 581h1v2h-1zM170 583h1v1h-1zM171 584h1v1h-1zM172 585h1v1h-1zM173 586h1v1h-1zM174 586h1v1h-1zM175 586h1v1h-1zM176 586h1v1h-1zM177 586h1v1h-1zM178 586h1v1h-1zM179 587h1v1h-1zM180 587h1v1h-1zM181 588h1v1h-1zM182 587h1v1h-1zM183 586h1v1h-1zM184 585h1v1h-1zM185 584h1v1h-1zM186 583h1v1h-1zM187 582h1v1h-1zM188 581h1v1h-1zM189 580h1v1h-1zM190 581h1v1h-1zM191 581h1v1h-1zM192 582h1v1h-1zM193 583h1v1h-1zM194 583h1v1h-1zM195 583h1v1h-1zM196 584h1v1h-1zM197 584h1v1h-1zM198 584h1v1h-1zM199 584h1v1h-1zM200 585h1v1h-1zM201 585h1v1h-1zM202 585h1v1h-1zM203 585h1v1h-1zM204 586h1v1h-1zM205 586h1v1h-1zM206 586h1v1h-1zM207 586h1v1h-1zM208 585h1v1h-1zM209 585h1v1h-1zM210 585h1v1h-1zM211 586h1v1h-1zM212 586h1v1h-1zM213 587h1v1h-1zM214 587h1v1h-1zM215 586h1v1h-1zM216 586h1v1h-1zM217 585h1v1h-1zM218 586h1v1h-1zM219 586h1v1h-1zM220 587h1v1h-1zM221 588h1v1h-1zM222 588h1v1h-1zM223 589h1v1h-1zM224 589h1v1h-1zM225 590h1v1h-1zM226 589h1v1h-1zM227 587h1v2h-1zM228 586h1v1h-1zM229 585h1v1h-1zM230 585h1v1h-1zM231 585h1v1h-1zM232 585h1v1h-1zM233 585h1v1h-1zM234 585h1v1h-1zM235 586h1v1h-1zM236 586h1v1h-1zM237 587h1v1h-1zM238 588h1v1h-1zM239 588h1v1h-1zM240 589h1v1h-1zM241 590h1v1h-1zM242 590h1v1h-1zM243 590h1v1h-1zM244 591h1v1h-1zM245 591h1v1h-1zM246 591h1v1h-1zM247 591h1v1h-1zM248 590h1v1h-1zM249 590h1v1h-1zM250 591h1v1h-1zM251 591h1v1h-1zM252 592h1v1h-1zM253 593h1v1h-1zM254 594h1v1h-1zM255 595h1v2h-1zM256 597h1v1h-1zM257 598h1v1h-1zM258 598h1v1h-1zM259 598h1v1h-1zM260 599h1v1h-1zM261 599h1v1h-1zM262 600h1v1h-1zM263 600h1v1h-1zM264 601h1v1h-1zM265 602h1v1h-1zM266 600h1v2h-1zM267 598h1v2h-1zM268 596h1v2h-1zM269 595h1v1h-1zM270 595h1v1h-1zM271 595h1v1h-1zM272 595h1v1h-1zM273 594h1v2h-1zM274 592h1v2h-1zM275 590h1v2h-1zM276 588h1v2h-1zM277 587h1v1h-1zM278 587h1v1h-1zM279 587h1v1h-1zM280 587h1v1h-1zM281 587h1v1h-1zM282 586h1v1h-1zM283 584h1v2h-1zM284 583h1v1h-1zM285 582h1v1h-1zM286 582h1v1h-1zM287 582h1v1h-1zM288 582h1v1h-1zM289 582h1v1h-1zM290 583h1v2h-1zM291 585h1v1h-1zM292 586h1v2h-1zM293 588h1v1h-1zM294 588h1v1h-1zM295 588h1v1h-1zM296 587h1v1h-1zM297 587h1v1h-1zM298 585h1v2h-1zM299 583h1v2h-1zM300 581h1v2h-1zM301 580h1v1h-1zM302 580h1v1h-1zM303 580h1v1h-1zM304 579h1v1h-1zM305 579h1v1h-1zM306 579h1v1h-1zM307 578h1v1h-1zM308 578h1v1h-1zM309 577h1v1h-1zM310 577h1v1h-1zM311 578h1v1h-1zM312 578h1v1h-1zM313 579h1v1h-1zM314 578h1v1h-1zM315 576h1v2h-1zM316 575h1v1h-1zM317 574h1v1h-1zM318 574h1v1h-1zM319 574h1v1h-1zM320 575h1v1h-1zM321 575h1v1h-1zM322 576h1v1h-1zM323 577h1v1h-1zM324 578h1v1h-1zM325 579h1v1h-1zM326 580h1v1h-1zM327 581h1v1h-1zM328 582h1v1h-1zM329 583h1v1h-1zM330 583h1v1h-1zM331 583h1v1h-1zM332 583h1v1h-1zM333 583h1v1h-1zM334 582h1v1h-1zM335 580h1v2h-1zM336 579h1v1h-1zM337 578h1v1h-1zM338 578h1v1h-1zM339 578h1v1h-1zM340 579h1v1h-1zM341 579h1v1h-1zM342 579h1v1h-1zM343 579h1v1h-1zM344 578h1v1h-1zM345 578h1v1h-1zM346 577h1v1h-1zM347 576h1v1h-1zM348 575h1v1h-1zM349 573h1v2h-1zM350 571h1v2h-1zM351 569h1v2h-1zM352 567h1v2h-1zM353 566h1v2h-1zM354 568h1v2h-1zM355 570h1v2h-1zM356 572h1v2h-1zM357 574h1v2h-1zM358 575h1v1h-1zM359 576h1v1h-1zM360 576h1v1h-1zM361 577h1v1h-1zM362 577h1v1h-1zM363 578h1v1h-1zM364 578h1v1h-1zM365 579h1v1h-1zM366 579h1v1h-1zM367 580h1v1h-1zM368 580h1v1h-1zM369 581h1v1h-1zM370 580h1v1h-1zM371 580h1v1h-1zM372 579h1v1h-1zM373 578h1v1h-1zM374 578h1v1h-1zM375 579h1v1h-1zM376 579h1v1h-1zM377 580h1v1h-1zM378 580h1v1h-1zM379 580h1v1h-1zM380 579h1v1h-1zM381 579h1v2h-1zM382 581h1v3h-1zM383 584h1v4h-1zM384 588h1v3h-1zM385 591h1v2h-1zM386 589h1v2h-1zM387 586h1v3h-1zM388 584h1v2h-1zM389 582h1v2h-1zM390 582h1v1h-1zM391 583h1v1h-1zM392 583h1v1h-1zM393 584h1v1h-1zM394 584h1v1h-1zM395 585h1v1h-1zM396 585h1v1h-1zM397 586h1v1h-1zM398 586h1v1h-1zM399 586h1v1h-1zM400 586h1v1h-1zM401 586h1v1h-1zM402 585h1v1h-1zM403 585h1v1h-1zM404 584h1v1h-1zM405 583h1v1h-1zM406 583h1v1h-1zM407 583h1v1h-1zM408 583h1v1h-1zM409 583h1v1h-1zM410 583h1v1h-1zM411 583h1v1h-1zM412 584h1v1h-1zM413 584h1v1h-1zM414 584h1v1h-1zM415 584h1v1h-1zM416 583h1v1h-1zM417 583h1v1h-1zM418 582h1v1h-1zM419 582h1v1h-1zM420 581h1v1h-1zM421 580h1v1h-1zM422 580h1v1h-1zM423 581h1v1h-1zM424 581h1v1h-1zM425 582h1v1h-1zM426 582h1v1h-1zM427 582h1v1h-1zM428 582h1v1h-1zM429 582h1v1h-1zM430 583h1v1h-1zM431 584h1v1h-1zM432 585h1v1h-1zM433 586h1v1h-1zM434 586h1v1h-1zM435 586h1v1h-1zM436 585h1v1h-1zM437 585h1v1h-1zM438 585h1v1h-1zM439 585h1v1h-1zM440 585h1v1h-1zM441 585h1v1h-1zM442 586h1v1h-1zM443 587h1v1h-1zM444 588h1v1h-1zM445 589h1v1h-1zM446 590h1v1h-1zM447 591h1v1h-1zM448 592h1v1h-1zM449 593h1v1h-1zM450 593h1v1h-1zM451 593h1v1h-1zM452 594h1v1h-1zM453 594h1v1h-1zM454 594h1v1h-1zM455 594h1v1h-1zM456 593h1v1h-1zM457 593h1v1h-1zM458 593h1v1h-1zM459 592h1v1h-1zM460 592h1v1h-1zM461 591h1v1h-1zM462 591h1v1h-1zM463 591h1v1h-1zM464 590h1v1h-1zM465 590h1v1h-1zM466 590h1v1h-1zM467 589h1v1h-1zM468 589h1v1h-1zM469 588h1v1h-1zM470 589h1v2h-1zM471 591h1v2h-1zM472 593h1v2h-1zM473 595h1v1h-1zM474 595h1v1h-1zM475 595h1v1h-1zM476 595h1v1h-1zM477 595h1v1h-1zM478 596h1v1h-1zM479 596h1v1h-1zM480 597h1v1h-1zM481 598h1v1h-1zM482 599h1v1h-1zM483 599h1v1h-1zM484 600h1v1h-1zM485 601h1v1h-1zM486 601h1v1h-1zM487 601h1v1h-1zM488 601h1v1h-1zM489 601h1v1h-1zM490 602h1v1h-1zM491 603h1v1h-1zM492 604h1v1h-1zM493 605h1v1h-1zM494 605h1v1h-1zM495 605h1v1h-1zM496 606h1v1h-1zM497 606h1v1h-1zM498 605h1v1h-1zM499 603h1v2h-1zM500 602h1v1h-1zM501 601h1v1h-1zM502 602h1v1h-1zM503 602h1v1h-1zM504 603h1v1h-1zM505 604h1v1h-1zM506 604h1v1h-1zM507 604h1v1h-1zM508 605h1v1h-1zM509 605h1v1h-1zM510 605h1v1h-1zM511 605h1v1h-1zM512 605h1v1h-1zM513 605h1v1h-1zM514 605h1v1h-1zM515 604h1v1h-1zM516 604h1v1h-1zM517 601h1v3h-1zM518 597h1v4h-1zM519 592h1v5h-1zM520 588h1v4h-1zM521 585h1v3h-1zM522 585h1v1h-1zM523 585h1v1h-1zM524 584h1v1h-1zM525 583h1v2h-1zM526 581h1v2h-1zM527 579h1v2h-1zM528 577h1v2h-1zM529 575h1v2h-1zM530 576h1v1h-1zM531 576h1v1h-1zM532 577h1v1h-1zM533 578h1v1h-1zM534 578h1v1h-1zM535 578h1v1h-1zM536 577h1v1h-1zM537 576h1v2h-1zM538 573h1v3h-1zM539 570h1v3h-1zM540 567h1v3h-1zM541 565h1v2h-1zM542 566h1v1h-1zM543 566h1v1h-1zM544 567h1v1h-1zM545 568h1v1h-1zM546 569h1v1h-1zM547 569h1v1h-1zM548 570h1v1h-1zM549 571h1v1h-1zM550 569h1v2h-1zM551 567h1v2h-1zM552 565h1v2h-1zM553 564h1v1h-1zM554 564h1v1h-1zM555 564h1v1h-1zM556 564h1v1h-1zM557 564h1v1h-1zM558 564h1v1h-1zM559 564h1v1h-1zM560 565h1v1h-1zM561 565h1v1h-1zM562 564h1v1h-1zM563 564h1v1h-1zM564 563h1v1h-1zM565 562h1v2h-1zM566 564h1v2h-1zM567 566h1v2h-1zM568 568h1v2h-1zM569 570h1v2h-1zM570 572h1v1h-1zM571 573h1v1h-1zM572 574h1v1h-1zM573 575h1v1h-1zM574 575h1v1h-1zM575 575h1v1h-1zM576 574h1v1h-1zM577 574h1v1h-1zM578 573h1v1h-1zM579 571h1v2h-1zM580 570h1v1h-1zM581 569h1v1h-1zM582 569h1v1h-1zM583 569h1v1h-1zM584 568h1v1h-1zM585 568h1v1h-1zM586 569h1v1h-1zM587 570h1v2h-1zM588 572h1v1h-1zM589 573h1v1h-1zM590 574h1v1h-1zM591 575h1v2h-1zM592 577h1v1h-1zM593 578h1v1h-1zM594 578h1v1h-1zM595 578h1v1h-1zM596 577h1v1h-1zM597 577h1v1h-1zM598 577h1v1h-1zM599 576h1v1h-1zM600 576h1v1h-1zM601 575h1v1h-1zM602 574h1v1h-1zM603 574h1v1h-1zM604 573h1v1h-1zM605 572h1v1h-1zM606 572h1v1h-1zM607 572h1v1h-1zM608 573h1v1h-1zM609 573h1v1h-1zM610 573h1v1h-1zM611 574h1v1h-1zM612 574h1v1h-1zM613 575h1v1h-1zM614 574h1v1h-1zM615 573h1v1h-1zM616 572h1v1h-1zM617 571h1v1h-1zM618 571h1v1h-1zM619 571h1v1h-1zM620 570h1v1h-1zM621 570h1v1h-1zM622 568h1v2h-1zM623 566h1v2h-1zM624 564h1v2h-1zM625 563h1v1h-1zM626 563h1v1h-1zM627 564h1v1h-1zM628 564h1v1h-1zM629 565h1v1h-1zM630 565h1v1h-1zM631 565h1v1h-1zM632 565h1v1h-1zM633 565h1v1h-1zM634 566h1v1h-1zM635 566h1v1h-1zM636 567h1v1h-1zM637 568h1v1h-1zM638 568h1v1h-1zM639 569h1v1h-1zM640 569h1v1h-1zM641 570h1v1h-1zM642 570h1v1h-1zM643 569h1v1h-1zM644 569h1v1h-1zM645 568h1v2h-1zM646 570h1v2h-1zM647 572h1v2h-1zM648 574h1v2h-1zM649 576h1v1h-1zM650 577h1v1h-1zM651 578h1v1h-1zM652 579h1v1h-1zM653 580h1v1h-1zM654 580h1v1h-1zM655 581h1v1h-1zM656 581h1v1h-1zM657 582h1v1h-1zM658 583h1v1h-1zM659 584h1v2h-1zM660 586h1v1h-1zM661 587h1v1h-1zM662 588h1v1h-1zM663 589h1v1h-1zM664 590h1v1h-1zM665 591h1v1h-1zM666 592h1v1h-1zM667 592h1v1h-1zM668 593h1v1h-1zM669 594h1v1h-1zM670 592h1v2h-1zM671 591h1v1h-1zM672 589h1v2h-1zM673 588h1v1h-1zM674 588h1v1h-1zM675 588h1v1h-1zM676 589h1v1h-1zM677 589h1v1h-1zM678 589h1v1h-1zM679 589h1v1h-1zM680 589h1v1h-1zM681 589h1v1h-1zM682 588h1v1h-1zM683 587h1v1h-1zM684 586h1v1h-1zM685 585h1v1h-1zM686 584h1v1h-1zM687 582h1v2h-1zM688 581h1v1h-1zM689 580h1v1h-1zM690 580h1v1h-1zM691 580h1v1h-1zM692 581h1v1h-1zM693 579h1v3h-1zM694 575h1v4h-1zM695 571h1v4h-1zM696 567h1v4h-1zM697 565h1v2h-1zM698 566h1v1h-1zM699 567h1v1h-1zM700 568h1v1h-1zM701 569h1v1h-1zM702 569h1v1h-1zM703 569h1v1h-1zM704 568h1v1h-1zM705 568h1v1h-1zM706 569h1v2h-1zM707 571h1v2h-1zM708 573h1v2h-1zM709 575h1v1h-1zM710 574h1v1h-1zM711 572h1v2h-1zM712 571h1v1h-1zM713 570h1v1h-1zM714 568h1v2h-1zM715 567h1v1h-1zM716 565h1v2h-1zM717 564h1v1h-1zM718 562h1v2h-1zM719 560h1v2h-1zM720 558h1v2h-1zM721 557h1v1h-1zM722 558h1v1h-1zM723 559h1v1h-1zM724 560h1v1h-1zM725 561h1v1h-1zM726 561h1v1h-1zM727 561h1v1h-1zM728 561h1v1h-1zM729 561h1v1h-1zM730 561h1v1h-1zM731 561h1v1h-1zM732 562h1v1h-1zM733 562h1v2h-1zM734 564h1v2h-1zM735 566h1v2h-1zM736 568h1v2h-1zM737 570h1v2h-1zM738 569h1v2h-1zM739 568h1v1h-1zM740 566h1v2h-1zM741 565h1v2h-1zM742 567h1v2h-1zM743 569h1v2h-1zM744 571h1v2h-1zM745 573h1v1h-1zM746 572h1v1h-1zM747 572h1v1h-1zM748 571h1v1h-1zM749 570h1v1h-1zM750 571h1v1h-1zM751 571h1v1h-1zM752 572h1v1h-1zM753 573h1v1h-1zM754 572h1v1h-1zM755 572h1v1h-1zM756 571h1v1h-1zM757 570h1v1h-1zM758 571h1v1h-1zM759 572h1v2h-1zM760 574h1v1h-1zM761 575h1v1h-1zM762 574h1v1h-1zM763 574h1v1h-1zM764 573h1v1h-1zM765 572h1v1h-1zM766 573h1v1h-1zM767 573h1v1h-1zM768 574h1v1h-1zM769 575h1v1h-1zM770 574h1v1h-1zM771 574h1v1h-1zM772 573h1v1h-1zM773 572h1v1h-1zM774 572h1v1h-1zM775 572h1v1h-1zM776 573h1v1h-1zM777 573h1v1h-1zM778 573h1v1h-1zM779 573h1v1h-1zM780 573h1v1h-1zM781 573h1v1h-1zM782 574h1v2h-1zM783 576h1v2h-1zM784 578h1v2h-1zM785 580h1v1h-1zM786 580h1v1h-1zM787 579h1v1h-1zM788 579h1v1h-1zM789 578h1v1h-1zM790 579h1v1h-1zM791 579h1v1h-1zM792 580h1v1h-1zM793 581h1v1h-1zM794 581h1v1h-1zM795 581h1v1h-1zM796 581h1v1h-1zM797 581h1v1h-1zM798 581h1v1h-1zM799 581h1v1h-1zM800 582h1v1h-1zM801 582h1v1h-1zM802 582h1v1h-1zM803 581h1v1h-1zM804 581h1v1h-1zM805 580h1v1h-1zM806 580h1v1h-1zM807 580h1v1h-1zM808 581h1v1h-1zM809 581h1v1h-1zM810 580h1v1h-1zM811 579h1v1h-1zM812 578h1v1h-1zM813 577h1v1h-1zM814 577h1v1h-1zM815 576h1v1h-1zM816 576h1v1h-1zM817 575h1v1h-1zM818 575h1v1h-1zM819 575h1v1h-1zM820 576h1v1h-1zM821 576h1v1h-1zM822 576h1v1h-1zM823 576h1v1h-1zM824 576h1v1h-1zM825 576h1v1h-1zM826 576h1v1h-1zM827 576h1v1h-1zM828 575h1v1h-1zM829 575h1v1h-1zM830 574h1v1h-1zM831 574h1v1h-1zM832 573h1v1h-1zM833 572h1v1h-1zM834 572h1v1h-1zM835 573h1v1h-1zM836 573h1v1h-1zM837 574h1v1h-1zM838 574h1v1h-1zM839 575h1v1h-1zM840 575h1v1h-1zM841 576h1v1h-1zM842 576h1v1h-1zM843 575h1v1h-1zM844 575h1v1h-1zM845 574h1v1h-1zM846 574h1v1h-1zM847 574h1v1h-1zM848 574h1v1h-1zM849 574h1v1h-1zM850 574h1v1h-1zM851 574h1v1h-1zM852 574h1v1h-1zM853 574h1v1h-1zM854 574h1v1h-1zM855 575h1v1h-1zM856 575h1v1h-1zM857 576h1v1h-1zM858 576h1v1h-1zM859 576h1v1h-1zM860 577h1v1h-1zM861 577h1v1h-1zM862 578h1v1h-1zM863 578h1v1h-1zM864 579h1v1h-1zM865 579h1v2h-1zM866 576h1v3h-1zM867 572h1v4h-1zM868 569h1v3h-1zM869 567h1v2h-1zM870 567h1v1h-1zM871 567h1v1h-1zM872 566h1v1h-1zM873 566h1v1h-1zM874 566h1v1h-1zM875 566h1v1h-1zM876 567h1v1h-1zM877 567h1v1h-1zM878 568h1v1h-1zM879 569h1v2h-1zM880 571h1v1h-1zM881 572h1v1h-1zM882 572h1v1h-1zM883 571h1v1h-1zM884 571h1v1h-1zM885 570h1v2h-1zM886 572h1v2h-1zM887 574h1v2h-1zM888 576h1v2h-1zM889 578h1v1h-1zM890 578h1v1h-1zM891 579h1v1h-1zM892 579h1v1h-1zM893 580h1v1h-1zM894 579h1v1h-1zM895 579h1v1h-1zM896 578h1v1h-1zM897 577h1v1h-1zM898 577h1v1h-1zM899 576h1v1h-1zM900 576h1v1h-1zM901 575h1v1h-1zM902 575h1v1h-1zM903 575h1v1h-1zM904 576h1v1h-1zM905 576h1v1h-1zM906 576h1v1h-1zM907 576h1v1h-1zM908 575h1v1h-1zM909 575h1v1h-1zM910 575h1v1h-1zM911 574h1v1h-1zM912 574h1v1h-1zM913 573h1v1h-1zM914 572h1v1h-1zM915 572h1v1h-1zM916 571h1v1h-1zM917 570h1v1h-1zM918 570h1v1h-1zM919 570h1v1h-1zM920 570h1v1h-1zM921 570h1v1h-1zM922 570h1v1h-1zM923 571h1v1h-1zM924 571h1v1h-1zM925 572h1v1h-1zM926 573h1v1h-1zM927 574h1v1h-1zM928 575h1v1h-1zM929 576h1v1h-1zM930 577h1v1h-1zM931 577h1v1h-1zM932 578h1v1h-1zM933 579h1v1h-1zM934 577h1v2h-1zM935 575h1v2h-1zM936 573h1v2h-1zM937 572h1v1h-1zM938 571h1v1h-1zM939 570h1v1h-1zM940 569h1v1h-1zM941 568h1v1h-1zM942 568h1v1h-1zM943 568h1v1h-1zM944 569h1v1h-1zM945 569h1v1h-1zM946 569h1v1h-1zM947 569h1v1h-1zM948 569h1v1h-1zM949 569h1v1h-1zM950 569h1v1h-1zM951 569h1v1h-1zM952 569h1v1h-1zM953 568h1v2h-1zM954 566h1v2h-1zM955 564h1v2h-1zM956 562h1v2h-1zM957 560h1v2h-1zM958 562h1v3h-1zM959 565h1v2h-1zM960 567h1v3h-1zM961 570h1v2h-1zM962 571h1v1h-1zM963 570h1v1h-1zM964 570h1v1h-1zM965 569h1v1h-1zM966 570h1v1h-1zM967 570h1v1h-1zM968 571h1v1h-1zM969 572h1v1h-1zM970 573h1v1h-1zM971 574h1v1h-1zM972 575h1v1h-1zM973 576h1v1h-1zM974 577h1v2h-1zM975 579h1v1h-1zM976 580h1v2h-1zM977 582h1v1h-1zM978 582h1v1h-1zM979 582h1v1h-1zM980 581h1v1h-1zM981 581h1v1h-1zM982 581h1v1h-1zM983 581h1v1h-1zM984 581h1v1h-1zM985 581h1v2h-1zM986 583h1v2h-1zM987 585h1v2h-1zM988 587h1v2h-1zM989 589h1v2h-1zM990 590h1v1h-1zM991 590h1v1h-1zM992 589h1v1h-1zM993 589h1v1h-1zM994 589h1v1h-1zM995 590h1v1h-1zM996 590h1v1h-1zM997 591h1v1h-1zM998 590h1v1h-1zM999 588h1v2h-1zM1000 587h1v1h-1zM1001 586h1v1h-1zM1002 587h1v1h-1zM1003 588h1v2h-1zM1004 590h1v1h-1zM1005 591h1v1h-1zM1006 590h1v1h-1zM1007 588h1v2h-1zM1008 587h1v1h-1zM1009 586h1v1h-1zM1010 586h1v1h-1zM1011 585h1v1h-1zM1012 585h1v1h-1zM1013 584h1v1h-1zM1014 584h1v1h-1zM1015 584h1v1h-1zM1016 583h1v1h-1zM1017 583h1v1h-1zM1018 583h1v1h-1zM1019 583h1v1h-1zM1020 582h1v1h-1zM1021 582h1v1h-1zM1022 582h1v1h-1zM1023 582h1v1h-1zM1024 582h1v1h-1zM1025 582h1v1h-1zM1026 582h1v1h-1zM1027 582h1v1h-1zM1028 583h1v1h-1zM1029 583h1v1h-1zM1030 583h1v1h-1zM1031 583h1v1h-1zM1032 582h1v1h-1zM1033 582h1v1h-1zM1034 582h1v1h-1zM1035 583h1v1h-1zM1036 583h1v1h-1zM1037 584h1v1h-1zM1038 584h1v1h-1zM1039 584h1v1h-1zM1040 584h1v1h-1zM1041 584h1v1h-1zM1042 585h1v1h-1zM1043 586h1v2h-1zM1044 588h1v1h-1zM1045 589h1v1h-1zM1046 589h1v1h-1zM1047 589h1v1h-1zM1048 589h1v1h-1zM1049 589h1v1h-1zM1050 587h1v2h-1zM1051 586h1v1h-1zM1052 584h1v2h-1zM1053 583h1v1h-1zM1054 582h1v1h-1zM1055 582h1v1h-1zM1056 581h1v1h-1zM1057 580h1v1h-1zM1058 580h1v1h-1zM1059 579h1v1h-1zM1060 579h1v1h-1zM1061 578h1v1h-1zM1062 578h1v1h-1zM1063 578h1v1h-1zM1064 578h1v1h-1zM1065 578h1v1h-1zM1066 579h1v1h-1zM1067 579h1v1h-1zM1068 580h1v1h-1zM1069 581h1v1h-1zM1070 582h1v1h-1zM1071 582h1v1h-1zM1072 583h1v1h-1zM1073 584h1v1h-1zM1074 584h1v1h-1zM1075 584h1v1h-1zM1076 585h1v1h-1zM1077 585h1v1h-1zM1078 585h1v1h-1zM1079 585h1v1h-1zM1080 584h1v1h-1zM1081 584h1v1h-1zM1082 584h1v1h-1zM1083 584h1v1h-1zM1084 585h1v1h-1zM1085 585h1v1h-1zM1086 585h1v1h-1zM1087 584h1v1h-1zM1088 584h1v1h-1zM1089 583h1v2h-1zM1090 585h1v4h-1zM1091 589h1v3h-1zM1092 592h1v4h-1zM1093 596h1v2h-1zM1094 597h1v1h-1zM1095 597h1v1h-1zM1096 598h1v1h-1zM1097 598h1v1h-1zM1098 598h1v1h-1zM1099 599h1v1h-1zM1100 599h1v1h-1zM1101 600h1v1h-1zM1102 600h1v1h-1zM1103 600h1v1h-1zM1104 601h1v1h-1zM1105 601h1v1h-1zM1106 599h1v2h-1zM1107 598h1v1h-1zM1108 596h1v2h-1zM1109 595h1v1h-1zM1110 595h1v1h-1zM1111 595h1v1h-1zM1112 594h1v1h-1zM1113 594h1v1h-1zM1114 594h1v1h-1zM1115 595h1v1h-1zM1116 595h1v1h-1zM1117 596h1v1h-1zM1118 595h1v1h-1zM1119 593h1v2h-1zM1120 592h1v1h-1zM1121 591h1v1h-1zM1122 592h1v1h-1zM1123 593h1v2h-1zM1124 595h1v1h-1zM1125 596h1v1h-1zM1126 596h1v1h-1zM1127 596h1v1h-1zM1128 595h1v1h-1zM1129 595h1v1h-1zM1130 595h1v1h-1zM1131 594h1v1h-1zM1132 594h1v1h-1zM1133 593h1v1h-1zM1134 593h1v1h-1zM1135 593h1v1h-1zM1136 594h1v1h-1zM1137 594h1v1h-1zM1138 594h1v1h-1zM1139 594h1v1h-1zM1140 594h1v1h-1zM1141 594h1v1h-1zM1142 594h1v1h-1zM1143 595h1v1h-1zM1144 595h1v1h-1zM1145 595h1v2h-1zM1146 592h1v3h-1zM1147 590h1v2h-1zM1148 587h1v3h-1zM1149 585h1v2h-1zM1150 585h1v1h-1zM1151 585h1v1h-1zM1152 586h1v1h-1zM1153 585h1v2h-1zM1154 583h1v2h-1zM1155 581h1v2h-1zM1156 579h1v2h-1zM1157 577h1v2h-1zM1158 578h1v1h-1zM1159 578h1v1h-1zM1160 579h1v1h-1zM1161 580h1v1h-1zM1162 581h1v1h-1zM1163 582h1v1h-1zM1164 583h1v1h-1zM1165 584h1v1h-1zM1166 584h1v1h-1zM1167 584h1v1h-1zM1168 584h1v1h-1zM1169 584h1v1h-1zM1170 584h1v1h-1zM1171 584h1v1h-1zM1172 584h1v1h-1zM1173 584h1v1h-1zM1174 583h1v1h-1zM1175 582h1v1h-1zM1176 581h1v1h-1zM1177 580h1v2h-1zM1178 582h1v2h-1zM1179 584h1v2h-1zM1180 586h1v2h-1zM1181 588h1v2h-1zM1182 588h1v1h-1zM1183 588h1v1h-1zM1184 587h1v1h-1zM1185 586h1v1h-1zM1186 586h1v1h-1zM1187 587h1v1h-1zM1188 587h1v1h-1zM1189 588h1v1h-1zM1190 588h1v1h-1zM1191 588h1v1h-1zM1192 589h1v1h-1zM1193 589h1v2h-1zM1194 591h1v2h-1zM1195 593h1v2h-1zM1196 595h1v2h-1zM1197 597h1v2h-1zM1198 596h1v2h-1zM1199 595h1v1h-1zM1200 593h1v2h-1zM1201 592h1v1h-1zM1202 590h1v2h-1zM1203 588h1v2h-1zM1204 586h1v2h-1zM1205 585h1v1h-1zM1206 585h1v1h-1zM1207 585h1v1h-1zM1208 585h1v1h-1zM1209 585h1v1h-1zM1210 585h1v1h-1zM1211 586h1v1h-1zM1212 586h1v1h-1zM1213 587h1v1h-1zM1214 588h1v1h-1zM1215 589h1v1h-1zM1216 590h1v1h-1zM1217 591h1v1h-1zM1218 591h1v1h-1zM1219 592h1v1h-1zM1220 592h1v1h-1zM1221 593h1v1h-1zM1222 592h1v1h-1zM1223 590h1v2h-1zM1224 589h1v1h-1zM1225 588h1v1h-1zM1226 588h1v1h-1zM1227 588h1v1h-1zM1228 589h1v1h-1zM1229 589h1v1h-1zM1230 589h1v1h-1zM1231 589h1v1h-1zM1232 589h1v1h-1zM1233 589h1v1h-1zM1234 589h1v1h-1zM1235 590h1v1h-1zM1236 590h1v1h-1zM1237 591h1v1h-1zM1238 592h1v1h-1zM1239 593h1v1h-1zM1240 594h1v1h-1zM1241 595h1v1h-1zM1242 595h1v1h-1zM1243 595h1v1h-1zM1244 595h1v1h-1zM1245 595h1v1h-1zM1246 595h1v1h-1zM1247 595h1v1h-1zM1248 595h1v1h-1zM1249 595h1v1h-1zM1250 594h1v1h-1zM1251 592h1v2h-1zM1252 591h1v1h-1zM1253 590h1v1h-1zM1254 590h1v1h-1zM1255 590h1v1h-1zM1256 589h1v1h-1zM1257 589h1v1h-1zM1258 590h1v1h-1zM1259 590h1v1h-1zM1260 591h1v1h-1zM1261 592h1v1h-1zM1262 592h1v1h-1zM1263 592h1v1h-1zM1264 592h1v1h-1zM1265 592h1v1h-1zM1266 592h1v1h-1zM1267 593h1v1h-1zM1268 593h1v1h-1zM1269 594h1v1h-1z" fill="#1e90ff"/>
<text class="t" x="9" y="544.6" style="letter-spacing:0.12px">RSI(14) 32.0852</text>
<text class="t" x="1601" y="543">100</text>
<text class="t" x="1600" y="564">70</text>
<text class="t" x="1600" y="600">30</text>
<text class="t" x="1601" y="621">0</text>
<rect x="1598" y="533" width="1" height="1" fill="#000"/><rect x="1598" y="623" width="1" height="1" fill="#000"/>
<g><rect x="5" y="641" width="1" height="41" fill="#c0c0c0"/><rect x="9" y="639" width="1" height="43" fill="#c0c0c0"/><rect x="13" y="638" width="1" height="44" fill="#c0c0c0"/><rect x="17" y="638" width="1" height="44" fill="#c0c0c0"/><rect x="21" y="638" width="1" height="44" fill="#c0c0c0"/><rect x="25" y="638" width="1" height="44" fill="#c0c0c0"/><rect x="29" y="638" width="1" height="44" fill="#c0c0c0"/><rect x="33" y="638" width="1" height="44" fill="#c0c0c0"/><rect x="37" y="638" width="1" height="44" fill="#c0c0c0"/><rect x="41" y="638" width="1" height="44" fill="#c0c0c0"/><rect x="45" y="638" width="1" height="44" fill="#c0c0c0"/><rect x="49" y="641" width="1" height="41" fill="#c0c0c0"/><rect x="53" y="646" width="1" height="36" fill="#c0c0c0"/><rect x="57" y="652" width="1" height="30" fill="#c0c0c0"/><rect x="61" y="655" width="1" height="27" fill="#c0c0c0"/><rect x="65" y="659" width="1" height="23" fill="#c0c0c0"/><rect x="69" y="661" width="1" height="21" fill="#c0c0c0"/><rect x="73" y="668" width="1" height="14" fill="#c0c0c0"/><rect x="77" y="675" width="1" height="7" fill="#c0c0c0"/><rect x="81" y="680" width="1" height="2" fill="#c0c0c0"/><rect x="85" y="681" width="1" height="2" fill="#c0c0c0"/><rect x="89" y="681" width="1" height="3" fill="#c0c0c0"/><rect x="93" y="681" width="1" height="3" fill="#c0c0c0"/><rect x="97" y="681" width="1" height="2" fill="#c0c0c0"/><rect x="101" y="681" width="1" height="2" fill="#c0c0c0"/><rect x="105" y="680" width="1" height="2" fill="#c0c0c0"/><rect x="109" y="678" width="1" height="4" fill="#c0c0c0"/><rect x="113" y="677" width="1" height="5" fill="#c0c0c0"/><rect x="117" y="675" width="1" height="7" fill="#c0c0c0"/><rect x="121" y="674" width="1" height="8" fill="#c0c0c0"/><rect x="125" y="672" width="1" height="10" fill="#c0c0c0"/><rect x="129" y="670" width="1" height="12" fill="#c0c0c0"/><rect x="133" y="669" width="1" height="13" fill="#c0c0c0"/><rect x="137" y="668" width="1" height="14" fill="#c0c0c0"/><rect x="141" y="667" width="1" height="15" fill="#c0c0c0"/><rect x="145" y="668" width="1" height="14" fill="#c0c0c0"/><rect x="149" y="670" width="1" height="12" fill="#c0c0c0"/><rect x="153" y="673" width="1" height="9" fill="#c0c0c0"/><rect x="157" y="673" width="1" height="9" fill="#c0c0c0"/><rect x="161" y="671" width="1" height="11" fill="#c0c0c0"/><rect x="165" y="671" width="1" height="11" fill="#c0c0c0"/><rect x="169" y="674" width="1" height="8" fill="#c0c0c0"/><rect x="173" y="678" width="1" height="4" fill="#c0c0c0"/><rect x="177" y="681" width="1" height="1" fill="#c0c0c0"/><rect x="181" y="681" width="1" height="5" fill="#c0c0c0"/><rect x="185" y="681" width="1" height="6" fill="#c0c0c0"/><rect x="189" y="681" width="1" height="6" fill="#c0c0c0"/><rect x="193" y="681" width="1" height="7" fill="#c0c0c0"/><rect x="197" y="681" width="1" height="8" fill="#c0c0c0"/><rect x="201" y="681" width="1" height="10" fill="#c0c0c0"/><rect x="205" y="681" width="1" height="11" fill="#c0c0c0"/><rect x="209" y="681" width="1" height="11" fill="#c0c0c0"/><rect x="213" y="681" width="1" height="12" fill="#c0c0c0"/><rect x="217" y="681" width="1" height="12" fill="#c0c0c0"/><rect x="221" y="681" width="1" height="13" fill="#c0c0c0"/><rect x="225" y="681" width="1" height="14" fill="#c0c0c0"/><rect x="229" y="681" width="1" height="14" fill="#c0c0c0"/><rect x="233" y="681" width="1" height="14" fill="#c0c0c0"/><rect x="237" y="681" width="1" height="14" fill="#c0c0c0"/><rect x="241" y="681" width="1" height="15" fill="#c0c0c0"/><rect x="245" y="681" width="1" height="16" fill="#c0c0c0"/><rect x="249" y="681" width="1" height="16" fill="#c0c0c0"/><rect x="253" y="681" width="1" height="18" fill="#c0c0c0"/><rect x="257" y="681" width="1" height="20" fill="#c0c0c0"/><rect x="261" y="681" width="1" height="22" fill="#c0c0c0"/><rect x="265" y="681" width="1" height="26" fill="#c0c0c0"/><rect x="269" y="681" width="1" height="26" fill="#c0c0c0"/><rect x="273" y="681" width="1" height="27" fill="#c0c0c0"/><rect x="277" y="681" width="1" height="26" fill="#c0c0c0"/><rect x="281" y="681" width="1" height="24" fill="#c0c0c0"/><rect x="285" y="681" width="1" height="22" fill="#c0c0c0"/><rect x="289" y="681" width="1" height="19" fill="#c0c0c0"/><rect x="293" y="681" width="1" height="19" fill="#c0c0c0"/><rect x="297" y="681" width="1" height="19" fill="#c0c0c0"/><rect x="301" y="681" width="1" height="17" fill="#c0c0c0"/><rect x="305" y="681" width="1" height="15" fill="#c0c0c0"/><rect x="309" y="681" width="1" height="12" fill="#c0c0c0"/><rect x="313" y="681" width="1" height="10" fill="#c0c0c0"/><rect x="317" y="681" width="1" height="8" fill="#c0c0c0"/><rect x="321" y="681" width="1" height="6" fill="#c0c0c0"/><rect x="325" y="681" width="1" height="6" fill="#c0c0c0"/><rect x="329" y="681" width="1" height="6" fill="#c0c0c0"/><rect x="333" y="681" width="1" height="6" fill="#c0c0c0"/><rect x="337" y="681" width="1" height="6" fill="#c0c0c0"/><rect x="341" y="681" width="1" height="5" fill="#c0c0c0"/><rect x="345" y="681" width="1" height="4" fill="#c0c0c0"/><rect x="349" y="681" width="1" height="3" fill="#c0c0c0"/><rect x="353" y="680" width="1" height="2" fill="#c0c0c0"/><rect x="357" y="679" width="1" height="3" fill="#c0c0c0"/><rect x="361" y="679" width="1" height="3" fill="#c0c0c0"/><rect x="365" y="680" width="1" height="2" fill="#c0c0c0"/><rect x="369" y="681" width="1" height="1" fill="#c0c0c0"/><rect x="373" y="681" width="1" height="1" fill="#c0c0c0"/><rect x="377" y="681" width="1" height="1" fill="#c0c0c0"/><rect x="381" y="681" width="1" height="1" fill="#c0c0c0"/><rect x="385" y="681" width="1" height="6" fill="#c0c0c0"/><rect x="389" y="681" width="1" height="6" fill="#c0c0c0"/><rect x="393" y="681" width="1" height="8" fill="#c0c0c0"/><rect x="397" y="681" width="1" height="10" fill="#c0c0c0"/><rect x="401" y="681" width="1" height="11" fill="#c0c0c0"/><rect x="405" y="681" width="1" height="11" fill="#c0c0c0"/><rect x="409" y="681" width="1" height="11" fill="#c0c0c0"/><rect x="413" y="681" width="1" height="11" fill="#c0c0c0"/><rect x="417" y="681" width="1" height="11" fill="#c0c0c0"/><rect x="421" y="681" width="1" height="10" fill="#c0c0c0"/><rect x="425" y="681" width="1" height="10" fill="#c0c0c0"/><rect x="429" y="681" width="1" height="9" fill="#c0c0c0"/><rect x="433" y="681" width="1" height="10" fill="#c0c0c0"/><rect x="437" y="681" width="1" height="10" fill="#c0c0c0"/><rect x="441" y="681" width="1" height="10" fill="#c0c0c0"/><rect x="445" y="681" width="1" height="11" fill="#c0c0c0"/><rect x="449" y="681" width="1" height="13" fill="#c0c0c0"/><rect x="453" y="681" width="1" height="15" fill="#c0c0c0"/><rect x="457" y="681" width="1" height="16" fill="#c0c0c0"/><rect x="461" y="681" width="1" height="16" fill="#c0c0c0"/><rect x="465" y="681" width="1" height="16" fill="#c0c0c0"/><rect x="469" y="681" width="1" height="16" fill="#c0c0c0"/><rect x="473" y="681" width="1" height="17" fill="#c0c0c0"/><rect x="477" y="681" width="1" height="18" fill="#c0c0c0"/><rect x="481" y="681" width="1" height="20" fill="#c0c0c0"/><rect x="485" y="681" width="1" height="22" fill="#c0c0c0"/><rect x="489" y="681" width="1" height="24" fill="#c0c0c0"/><rect x="493" y="681" width="1" height="27" fill="#c0c0c0"/><rect x="497" y="681" width="1" height="29" fill="#c0c0c0"/><rect x="501" y="681" width="1" height="30" fill="#c0c0c0"/><rect x="505" y="681" width="1" height="31" fill="#c0c0c0"/><rect x="509" y="681" width="1" height="33" fill="#c0c0c0"/><rect x="513" y="681" width="1" height="34" fill="#c0c0c0"/><rect x="517" y="681" width="1" height="34" fill="#c0c0c0"/><rect x="521" y="681" width="1" height="31" fill="#c0c0c0"/><rect x="525" y="681" width="1" height="27" fill="#c0c0c0"/><rect x="529" y="681" width="1" height="23" fill="#c0c0c0"/><rect x="533" y="681" width="1" height="19" fill="#c0c0c0"/><rect x="537" y="681" width="1" height="16" fill="#c0c0c0"/><rect x="541" y="681" width="1" height="9" fill="#c0c0c0"/><rect x="545" y="681" width="1" height="5" fill="#c0c0c0"/><rect x="549" y="681" width="1" height="2" fill="#c0c0c0"/><rect x="553" y="677" width="1" height="5" fill="#c0c0c0"/><rect x="557" y="673" width="1" height="9" fill="#c0c0c0"/><rect x="561" y="671" width="1" height="11" fill="#c0c0c0"/><rect x="565" y="667" width="1" height="15" fill="#c0c0c0"/><rect x="569" y="667" width="1" height="15" fill="#c0c0c0"/><rect x="573" y="668" width="1" height="14" fill="#c0c0c0"/><rect x="577" y="669" width="1" height="13" fill="#c0c0c0"/><rect x="581" y="668" width="1" height="14" fill="#c0c0c0"/><rect x="585" y="666" width="1" height="16" fill="#c0c0c0"/><rect x="589" y="667" width="1" height="15" fill="#c0c0c0"/><rect x="593" y="669" width="1" height="13" fill="#c0c0c0"/><rect x="597" y="671" width="1" height="11" fill="#c0c0c0"/><rect x="601" y="671" width="1" height="11" fill="#c0c0c0"/><rect x="605" y="671" width="1" height="11" fill="#c0c0c0"/><rect x="609" y="671" width="1" height="11" fill="#c0c0c0"/><rect x="613" y="672" width="1" height="10" fill="#c0c0c0"/><rect x="617" y="671" width="1" height="11" fill="#c0c0c0"/><rect x="621" y="670" width="1" height="12" fill="#c0c0c0"/><rect x="625" y="667" width="1" height="15" fill="#c0c0c0"/><rect x="629" y="665" width="1" height="17" fill="#c0c0c0"/><rect x="633" y="664" width="1" height="18" fill="#c0c0c0"/><rect x="637" y="664" width="1" height="18" fill="#c0c0c0"/><rect x="641" y="664" width="1" height="18" fill="#c0c0c0"/><rect x="645" y="664" width="1" height="18" fill="#c0c0c0"/><rect x="649" y="666" width="1" height="16" fill="#c0c0c0"/><rect x="653" y="669" width="1" height="13" fill="#c0c0c0"/><rect x="657" y="672" width="1" height="10" fill="#c0c0c0"/><rect x="661" y="677" width="1" height="5" fill="#c0c0c0"/><rect x="665" y="681" width="1" height="2" fill="#c0c0c0"/><rect x="669" y="681" width="1" height="7" fill="#c0c0c0"/><rect x="673" y="681" width="1" height="10" fill="#c0c0c0"/><rect x="677" y="681" width="1" height="12" fill="#c0c0c0"/><rect x="681" y="681" width="1" height="14" fill="#c0c0c0"/><rect x="685" y="681" width="1" height="14" fill="#c0c0c0"/><rect x="689" y="681" width="1" height="13" fill="#c0c0c0"/><rect x="693" y="681" width="1" height="12" fill="#c0c0c0"/><rect x="697" y="681" width="1" height="5" fill="#c0c0c0"/><rect x="701" y="680" width="1" height="2" fill="#c0c0c0"/><rect x="705" y="677" width="1" height="5" fill="#c0c0c0"/><rect x="709" y="676" width="1" height="6" fill="#c0c0c0"/><rect x="713" y="674" width="1" height="8" fill="#c0c0c0"/><rect x="717" y="668" width="1" height="14" fill="#c0c0c0"/><rect x="721" y="658" width="1" height="24" fill="#c0c0c0"/><rect x="725" y="652" width="1" height="30" fill="#c0c0c0"/><rect x="729" y="648" width="1" height="34" fill="#c0c0c0"/><rect x="733" y="645" width="1" height="37" fill="#c0c0c0"/><rect x="737" y="647" width="1" height="35" fill="#c0c0c0"/><rect x="741" y="645" width="1" height="37" fill="#c0c0c0"/><rect x="745" y="647" width="1" height="35" fill="#c0c0c0"/><rect x="749" y="648" width="1" height="34" fill="#c0c0c0"/><rect x="753" y="650" width="1" height="32" fill="#c0c0c0"/><rect x="757" y="650" width="1" height="32" fill="#c0c0c0"/><rect x="761" y="653" width="1" height="29" fill="#c0c0c0"/><rect x="765" y="653" width="1" height="29" fill="#c0c0c0"/><rect x="769" y="656" width="1" height="26" fill="#c0c0c0"/><rect x="773" y="656" width="1" height="26" fill="#c0c0c0"/><rect x="777" y="657" width="1" height="25" fill="#c0c0c0"/><rect x="781" y="657" width="1" height="25" fill="#c0c0c0"/><rect x="785" y="663" width="1" height="19" fill="#c0c0c0"/><rect x="789" y="666" width="1" height="16" fill="#c0c0c0"/><rect x="793" y="670" width="1" height="12" fill="#c0c0c0"/><rect x="797" y="673" width="1" height="9" fill="#c0c0c0"/><rect x="801" y="677" width="1" height="5" fill="#c0c0c0"/><rect x="805" y="678" width="1" height="4" fill="#c0c0c0"/><rect x="809" y="680" width="1" height="2" fill="#c0c0c0"/><rect x="813" y="680" width="1" height="2" fill="#c0c0c0"/><rect x="817" y="679" width="1" height="3" fill="#c0c0c0"/><rect x="821" y="678" width="1" height="4" fill="#c0c0c0"/><rect x="825" y="678" width="1" height="4" fill="#c0c0c0"/><rect x="829" y="677" width="1" height="5" fill="#c0c0c0"/><rect x="833" y="675" width="1" height="7" fill="#c0c0c0"/><rect x="837" y="675" width="1" height="7" fill="#c0c0c0"/><rect x="841" y="675" width="1" height="7" fill="#c0c0c0"/><rect x="845" y="674" width="1" height="8" fill="#c0c0c0"/><rect x="849" y="674" width="1" height="8" fill="#c0c0c0"/><rect x="853" y="674" width="1" height="8" fill="#c0c0c0"/><rect x="857" y="675" width="1" height="7" fill="#c0c0c0"/><rect x="861" y="675" width="1" height="7" fill="#c0c0c0"/><rect x="865" y="677" width="1" height="5" fill="#c0c0c0"/><rect x="869" y="673" width="1" height="9" fill="#c0c0c0"/><rect x="873" y="670" width="1" height="12" fill="#c0c0c0"/><rect x="877" y="668" width="1" height="14" fill="#c0c0c0"/><rect x="881" y="668" width="1" height="14" fill="#c0c0c0"/><rect x="885" y="667" width="1" height="15" fill="#c0c0c0"/><rect x="889" y="670" width="1" height="12" fill="#c0c0c0"/><rect x="893" y="672" width="1" height="10" fill="#c0c0c0"/><rect x="897" y="673" width="1" height="9" fill="#c0c0c0"/><rect x="901" y="674" width="1" height="8" fill="#c0c0c0"/><rect x="905" y="674" width="1" height="8" fill="#c0c0c0"/><rect x="909" y="674" width="1" height="8" fill="#c0c0c0"/><rect x="913" y="674" width="1" height="8" fill="#c0c0c0"/><rect x="917" y="672" width="1" height="10" fill="#c0c0c0"/><rect x="921" y="671" width="1" height="11" fill="#c0c0c0"/><rect x="925" y="671" width="1" height="11" fill="#c0c0c0"/><rect x="929" y="672" width="1" height="10" fill="#c0c0c0"/><rect x="933" y="674" width="1" height="8" fill="#c0c0c0"/><rect x="937" y="674" width="1" height="8" fill="#c0c0c0"/><rect x="941" y="672" width="1" height="10" fill="#c0c0c0"/><rect x="945" y="670" width="1" height="12" fill="#c0c0c0"/><rect x="949" y="669" width="1" height="13" fill="#c0c0c0"/><rect x="953" y="669" width="1" height="13" fill="#c0c0c0"/><rect x="957" y="665" width="1" height="17" fill="#c0c0c0"/><rect x="961" y="665" width="1" height="17" fill="#c0c0c0"/><rect x="965" y="665" width="1" height="17" fill="#c0c0c0"/><rect x="969" y="665" width="1" height="17" fill="#c0c0c0"/><rect x="973" y="667" width="1" height="15" fill="#c0c0c0"/><rect x="977" y="671" width="1" height="11" fill="#c0c0c0"/><rect x="981" y="673" width="1" height="9" fill="#c0c0c0"/><rect x="985" y="676" width="1" height="6" fill="#c0c0c0"/><rect x="989" y="681" width="1" height="1" fill="#c0c0c0"/><rect x="993" y="681" width="1" height="5" fill="#c0c0c0"/><rect x="997" y="681" width="1" height="9" fill="#c0c0c0"/><rect x="1001" y="681" width="1" height="10" fill="#c0c0c0"/><rect x="1005" y="681" width="1" height="14" fill="#c0c0c0"/><rect x="1009" y="681" width="1" height="15" fill="#c0c0c0"/><rect x="1013" y="681" width="1" height="15" fill="#c0c0c0"/><rect x="1017" y="681" width="1" height="14" fill="#c0c0c0"/><rect x="1021" y="681" width="1" height="14" fill="#c0c0c0"/><rect x="1025" y="681" width="1" height="13" fill="#c0c0c0"/><rect x="1029" y="681" width="1" height="12" fill="#c0c0c0"/><rect x="1033" y="681" width="1" height="12" fill="#c0c0c0"/><rect x="1037" y="681" width="1" height="12" fill="#c0c0c0"/><rect x="1041" y="681" width="1" height="11" fill="#c0c0c0"/><rect x="1045" y="681" width="1" height="13" fill="#c0c0c0"/><rect x="1049" y="681" width="1" height="14" fill="#c0c0c0"/><rect x="1053" y="681" width="1" height="13" fill="#c0c0c0"/><rect x="1057" y="681" width="1" height="11" fill="#c0c0c0"/><rect x="1061" y="681" width="1" height="10" fill="#c0c0c0"/><rect x="1065" y="681" width="1" height="9" fill="#c0c0c0"/><rect x="1069" y="681" width="1" height="8" fill="#c0c0c0"/><rect x="1073" y="681" width="1" height="8" fill="#c0c0c0"/><rect x="1077" y="681" width="1" height="9" fill="#c0c0c0"/><rect x="1081" y="681" width="1" height="9" fill="#c0c0c0"/><rect x="1085" y="681" width="1" height="9" fill="#c0c0c0"/><rect x="1089" y="681" width="1" height="8" fill="#c0c0c0"/><rect x="1093" y="681" width="1" height="12" fill="#c0c0c0"/><rect x="1097" y="681" width="1" height="15" fill="#c0c0c0"/><rect x="1101" y="681" width="1" height="18" fill="#c0c0c0"/><rect x="1105" y="681" width="1" height="21" fill="#c0c0c0"/><rect x="1109" y="681" width="1" height="22" fill="#c0c0c0"/><rect x="1113" y="681" width="1" height="22" fill="#c0c0c0"/><rect x="1117" y="681" width="1" height="23" fill="#c0c0c0"/><rect x="1121" y="681" width="1" height="23" fill="#c0c0c0"/><rect x="1125" y="681" width="1" height="24" fill="#c0c0c0"/><rect x="1129" y="681" width="1" height="25" fill="#c0c0c0"/><rect x="1133" y="681" width="1" height="25" fill="#c0c0c0"/><rect x="1137" y="681" width="1" height="24" fill="#c0c0c0"/><rect x="1141" y="681" width="1" height="24" fill="#c0c0c0"/><rect x="1145" y="681" width="1" height="24" fill="#c0c0c0"/><rect x="1149" y="681" width="1" height="22" fill="#c0c0c0"/><rect x="1153" y="681" width="1" height="21" fill="#c0c0c0"/><rect x="1157" y="681" width="1" height="17" fill="#c0c0c0"/><rect x="1161" y="681" width="1" height="15" fill="#c0c0c0"/><rect x="1165" y="681" width="1" height="14" fill="#c0c0c0"/><rect x="1169" y="681" width="1" height="14" fill="#c0c0c0"/><rect x="1173" y="681" width="1" height="13" fill="#c0c0c0"/><rect x="1177" y="681" width="1" height="12" fill="#c0c0c0"/><rect x="1181" y="681" width="1" height="13" fill="#c0c0c0"/><rect x="1185" y="681" width="1" height="13" fill="#c0c0c0"/><rect x="1189" y="681" width="1" height="13" fill="#c0c0c0"/><rect x="1193" y="681" width="1" height="14" fill="#c0c0c0"/><rect x="1197" y="681" width="1" height="18" fill="#c0c0c0"/><rect x="1201" y="681" width="1" height="19" fill="#c0c0c0"/><rect x="1205" y="681" width="1" height="18" fill="#c0c0c0"/><rect x="1209" y="681" width="1" height="18" fill="#c0c0c0"/><rect x="1213" y="681" width="1" height="18" fill="#c0c0c0"/><rect x="1217" y="681" width="1" height="19" fill="#c0c0c0"/><rect x="1221" y="681" width="1" height="20" fill="#c0c0c0"/><rect x="1225" y="681" width="1" height="20" fill="#c0c0c0"/><rect x="1229" y="681" width="1" height="20" fill="#c0c0c0"/><rect x="1233" y="681" width="1" height="20" fill="#c0c0c0"/><rect x="1237" y="681" width="1" height="21" fill="#c0c0c0"/><rect x="1241" y="681" width="1" height="22" fill="#c0c0c0"/><rect x="1245" y="681" width="1" height="23" fill="#c0c0c0"/><rect x="1249" y="681" width="1" height="24" fill="#c0c0c0"/><rect x="1253" y="681" width="1" height="24" fill="#c0c0c0"/><rect x="1257" y="681" width="1" height="23" fill="#c0c0c0"/><rect x="1261" y="681" width="1" height="23" fill="#c0c0c0"/><rect x="1265" y="681" width="1" height="23" fill="#c0c0c0"/><rect x="1269" y="681" width="1" height="23" fill="#c0c0c0"/></g>
<path d="M5 641h1v1h-1zM6 641h1v1h-1zM7 641h1v1h-1zM11 641h1v1h-1zM12 641h1v1h-1zM13 641h1v1h-1zM17 640h1v1h-1zM18 640h1v1h-1zM19 640h1v1h-1zM23 639h1v1h-1zM24 638h1v1h-1zM25 638h1v1h-1zM29 637h1v1h-1zM30 637h1v1h-1zM31 637h1v1h-1zM35 635h1v1h-1zM36 635h1v1h-1zM37 634h1v1h-1zM41 634h1v1h-1zM42 634h1v1h-1zM43 634h1v1h-1zM47 633h1v1h-1zM48 634h1v1h-1zM49 634h1v1h-1zM53 636h1v1h-1zM54 636h1v1h-1zM55 637h1v1h-1zM59 639h1v1h-1zM60 639h1v1h-1zM61 640h1v1h-1zM65 643h1v1h-1zM66 644h1v1h-1zM67 644h1v1h-1zM71 648h1v1h-1zM72 649h1v1h-1zM73 650h1v1h-1zM76 654h1v1h-1zM77 655h1v1h-1zM78 656h1v1h-1zM81 660h1v1h-1zM82 661h1v1h-1zM83 662h1v1h-1zM87 666h1v1h-1zM88 667h1v1h-1zM89 668h1v1h-1zM93 672h1v1h-1zM94 673h1v1h-1zM95 673h1v1h-1zM99 676h1v1h-1zM100 676h1v1h-1zM101 677h1v1h-1zM105 679h1v1h-1zM106 679h1v1h-1zM107 680h1v1h-1zM111 681h1v1h-1zM112 681h1v1h-1zM113 681h1v1h-1zM117 680h1v1h-1zM118 680h1v1h-1zM119 680h1v1h-1zM123 679h1v1h-1zM124 678h1v1h-1zM125 678h1v1h-1zM129 677h1v1h-1zM130 677h1v1h-1zM131 676h1v1h-1zM135 675h1v1h-1zM136 674h1v1h-1zM137 674h1v1h-1zM141 672h1v1h-1zM142 672h1v1h-1zM143 672h1v1h-1zM147 671h1v1h-1zM148 670h1v1h-1zM149 670h1v1h-1zM153 670h1v1h-1zM154 670h1v1h-1zM155 670h1v1h-1zM159 670h1v1h-1zM160 670h1v1h-1zM161 670h1v1h-1zM165 670h1v1h-1zM166 670h1v1h-1zM167 670h1v1h-1zM171 671h1v1h-1zM172 672h1v1h-1zM173 672h1v1h-1zM177 673h1v1h-1zM178 673h1v1h-1zM179 674h1v1h-1zM183 676h1v1h-1zM184 676h1v1h-1zM185 677h1v1h-1zM189 678h1v1h-1zM190 678h1v1h-1zM191 679h1v1h-1zM195 681h1v1h-1zM196 681h1v1h-1zM197 682h1v1h-1zM201 684h1v1h-1zM202 684h1v1h-1zM203 685h1v1h-1zM207 686h1v1h-1zM208 687h1v1h-1zM209 687h1v1h-1zM213 689h1v1h-1zM214 689h1v1h-1zM215 689h1v1h-1zM219 689h1v1h-1zM220 690h1v1h-1zM221 690h1v1h-1zM225 691h1v1h-1zM226 691h1v1h-1zM227 691h1v1h-1zM231 692h1v1h-1zM232 692h1v1h-1zM233 692h1v1h-1zM237 693h1v1h-1zM238 693h1v1h-1zM239 693h1v1h-1zM243 693h1v1h-1zM244 694h1v1h-1zM245 694h1v1h-1zM249 694h1v1h-1zM250 694h1v1h-1zM251 694h1v1h-1zM255 695h1v1h-1zM256 696h1v1h-1zM257 696h1v1h-1zM261 697h1v1h-1zM262 697h1v1h-1zM263 697h1v1h-1zM267 698h1v1h-1zM268 699h1v1h-1zM269 699h1v1h-1zM273 701h1v1h-1zM274 701h1v1h-1zM275 701h1v1h-1zM279 702h1v1h-1zM280 703h1v1h-1zM281 703h1v1h-1zM285 703h1v1h-1zM286 703h1v1h-1zM287 703h1v1h-1zM291 704h1v1h-1zM292 704h1v1h-1zM293 704h1v1h-1zM297 703h1v1h-1zM298 703h1v1h-1zM299 703h1v1h-1zM303 702h1v1h-1zM304 701h1v1h-1zM305 701h1v1h-1zM309 699h1v1h-1zM310 699h1v1h-1zM311 698h1v1h-1zM315 697h1v1h-1zM316 696h1v1h-1zM317 696h1v1h-1zM321 694h1v1h-1zM322 694h1v1h-1zM323 693h1v1h-1zM327 692h1v1h-1zM328 691h1v1h-1zM329 691h1v1h-1zM333 690h1v1h-1zM334 690h1v1h-1zM335 689h1v1h-1zM339 688h1v1h-1zM340 687h1v1h-1zM341 687h1v1h-1zM345 686h1v1h-1zM346 686h1v1h-1zM347 686h1v1h-1zM351 686h1v1h-1zM352 685h1v1h-1zM353 685h1v1h-1zM357 684h1v1h-1zM358 684h1v1h-1zM359 684h1v1h-1zM363 683h1v1h-1zM364 682h1v1h-1zM365 682h1v1h-1zM369 682h1v1h-1zM370 682h1v1h-1zM371 682h1v1h-1zM375 681h1v1h-1zM376 681h1v1h-1zM377 681h1v1h-1zM381 680h1v1h-1zM382 680h1v1h-1zM383 680h1v1h-1zM387 681h1v1h-1zM388 681h1v1h-1zM389 681h1v1h-1zM393 682h1v1h-1zM394 682h1v1h-1zM395 683h1v1h-1zM399 684h1v1h-1zM400 685h1v1h-1zM401 685h1v1h-1zM405 686h1v1h-1zM406 686h1v1h-1zM407 686h1v1h-1zM411 687h1v1h-1zM412 688h1v1h-1zM413 688h1v1h-1zM417 689h1v1h-1zM418 689h1v1h-1zM419 689h1v1h-1zM423 690h1v1h-1zM424 690h1v1h-1zM425 690h1v1h-1zM429 690h1v1h-1zM430 690h1v1h-1zM431 690h1v1h-1zM435 690h1v1h-1zM436 690h1v1h-1zM437 690h1v1h-1zM441 690h1v1h-1zM442 690h1v1h-1zM443 690h1v1h-1zM447 690h1v1h-1zM448 690h1v1h-1zM449 690h1v1h-1zM453 691h1v1h-1zM454 691h1v1h-1zM455 691h1v1h-1zM459 691h1v1h-1zM460 692h1v1h-1zM461 692h1v1h-1zM465 693h1v1h-1zM466 693h1v1h-1zM467 693h1v1h-1zM471 694h1v1h-1zM472 694h1v1h-1zM473 694h1v1h-1zM477 695h1v1h-1zM478 695h1v1h-1zM479 695h1v1h-1zM483 696h1v1h-1zM484 697h1v1h-1zM485 697h1v1h-1zM489 698h1v1h-1zM490 698h1v1h-1zM491 698h1v1h-1zM495 700h1v1h-1zM496 700h1v1h-1zM497 701h1v1h-1zM501 702h1v1h-1zM502 702h1v1h-1zM503 703h1v1h-1zM507 705h1v1h-1zM508 705h1v1h-1zM509 706h1v1h-1zM513 708h1v1h-1zM514 708h1v1h-1zM515 708h1v1h-1zM519 709h1v1h-1zM520 710h1v1h-1zM521 710h1v1h-1zM525 711h1v1h-1zM526 711h1v1h-1zM527 711h1v1h-1zM531 710h1v1h-1zM532 709h1v1h-1zM533 709h1v1h-1zM537 708h1v1h-1zM538 707h1v1h-1zM539 707h1v1h-1zM543 704h1v1h-1zM544 703h1v1h-1zM545 702h1v1h-1zM549 698h1v1h-1zM550 697h1v1h-1zM551 696h1v1h-1zM555 692h1v1h-1zM556 691h1v1h-1zM557 690h1v1h-1zM561 686h1v1h-1zM562 685h1v1h-1zM563 684h1v1h-1zM567 681h1v1h-1zM568 680h1v1h-1zM569 679h1v1h-1zM573 676h1v1h-1zM574 675h1v1h-1zM575 675h1v1h-1zM579 672h1v1h-1zM580 672h1v1h-1zM581 671h1v1h-1zM585 670h1v1h-1zM586 670h1v1h-1zM587 669h1v1h-1zM591 668h1v1h-1zM592 668h1v1h-1zM593 668h1v1h-1zM597 668h1v1h-1zM598 668h1v1h-1zM599 668h1v1h-1zM603 668h1v1h-1zM604 669h1v1h-1zM605 669h1v1h-1zM609 669h1v1h-1zM610 669h1v1h-1zM611 669h1v1h-1zM615 669h1v1h-1zM616 670h1v1h-1zM617 670h1v1h-1zM621 670h1v1h-1zM622 670h1v1h-1zM623 670h1v1h-1zM627 670h1v1h-1zM628 670h1v1h-1zM629 670h1v1h-1zM633 669h1v1h-1zM634 669h1v1h-1zM635 669h1v1h-1zM639 668h1v1h-1zM640 668h1v1h-1zM641 668h1v1h-1zM645 667h1v1h-1zM646 667h1v1h-1zM647 667h1v1h-1zM651 666h1v1h-1zM652 666h1v1h-1zM653 666h1v1h-1zM657 666h1v1h-1zM658 666h1v1h-1zM659 666h1v1h-1zM663 668h1v1h-1zM664 668h1v1h-1zM665 669h1v1h-1zM669 672h1v1h-1zM670 673h1v1h-1zM671 673h1v1h-1zM675 676h1v1h-1zM676 677h1v1h-1zM677 678h1v1h-1zM681 681h1v1h-1zM682 682h1v1h-1zM683 682h1v1h-1zM687 685h1v1h-1zM688 686h1v1h-1zM689 687h1v1h-1zM693 689h1v1h-1zM694 689h1v1h-1zM695 689h1v1h-1zM699 690h1v1h-1zM700 689h1v1h-1zM701 689h1v1h-1zM705 688h1v1h-1zM706 688h1v1h-1zM707 688h1v1h-1zM711 686h1v1h-1zM712 686h1v1h-1zM713 685h1v1h-1zM717 682h1v1h-1zM718 681h1v1h-1zM719 680h1v1h-1zM723 676h1v1h-1zM724 675h1v1h-1zM725 674h1v1h-1zM728 670h1v1h-1zM729 669h1v1h-1zM730 668h1v1h-1zM733 664h1v1h-1zM734 663h1v1h-1zM735 663h1v1h-1zM739 659h1v1h-1zM740 658h1v1h-1zM741 657h1v1h-1zM745 654h1v1h-1zM746 653h1v1h-1zM747 653h1v1h-1zM751 650h1v1h-1zM752 650h1v1h-1zM753 649h1v1h-1zM757 648h1v1h-1zM758 648h1v1h-1zM759 648h1v1h-1zM763 648h1v1h-1zM764 648h1v1h-1zM765 648h1v1h-1zM769 650h1v1h-1zM770 650h1v1h-1zM771 650h1v1h-1zM775 651h1v1h-1zM776 652h1v1h-1zM777 652h1v1h-1zM781 653h1v1h-1zM782 653h1v1h-1zM783 654h1v1h-1zM787 656h1v1h-1zM788 656h1v1h-1zM789 657h1v1h-1zM793 659h1v1h-1zM794 659h1v1h-1zM795 660h1v1h-1zM799 662h1v1h-1zM800 663h1v1h-1zM801 664h1v1h-1zM805 666h1v1h-1zM806 667h1v1h-1zM807 667h1v1h-1zM811 670h1v1h-1zM812 671h1v1h-1zM813 672h1v1h-1zM817 674h1v1h-1zM818 674h1v1h-1zM819 675h1v1h-1zM823 676h1v1h-1zM824 677h1v1h-1zM825 677h1v1h-1zM829 678h1v1h-1zM830 678h1v1h-1zM831 678h1v1h-1zM835 678h1v1h-1zM836 678h1v1h-1zM837 678h1v1h-1zM841 678h1v1h-1zM842 678h1v1h-1zM843 678h1v1h-1zM847 677h1v1h-1zM848 676h1v1h-1zM849 676h1v1h-1zM853 676h1v1h-1zM854 676h1v1h-1zM855 676h1v1h-1zM859 675h1v1h-1zM860 675h1v1h-1zM861 675h1v1h-1zM865 675h1v1h-1zM866 675h1v1h-1zM867 675h1v1h-1zM871 675h1v1h-1zM872 674h1v1h-1zM873 674h1v1h-1zM877 673h1v1h-1zM878 673h1v1h-1zM879 673h1v1h-1zM883 673h1v1h-1zM884 672h1v1h-1zM885 672h1v1h-1zM889 672h1v1h-1zM890 672h1v1h-1zM891 672h1v1h-1zM895 671h1v1h-1zM896 671h1v1h-1zM897 671h1v1h-1zM901 671h1v1h-1zM902 671h1v1h-1zM903 671h1v1h-1zM907 671h1v1h-1zM908 671h1v1h-1zM909 671h1v1h-1zM913 672h1v1h-1zM914 672h1v1h-1zM915 672h1v1h-1zM919 672h1v1h-1zM920 673h1v1h-1zM921 673h1v1h-1zM925 673h1v1h-1zM926 673h1v1h-1zM927 673h1v1h-1zM931 673h1v1h-1zM932 673h1v1h-1zM933 673h1v1h-1zM937 673h1v1h-1zM938 673h1v1h-1zM939 673h1v1h-1zM943 673h1v1h-1zM944 672h1v1h-1zM945 672h1v1h-1zM949 672h1v1h-1zM950 672h1v1h-1zM951 672h1v1h-1zM955 671h1v1h-1zM956 671h1v1h-1zM957 671h1v1h-1zM961 670h1v1h-1zM962 670h1v1h-1zM963 670h1v1h-1zM967 669h1v1h-1zM968 668h1v1h-1zM969 668h1v1h-1zM973 668h1v1h-1zM974 668h1v1h-1zM975 668h1v1h-1zM979 668h1v1h-1zM980 668h1v1h-1zM981 668h1v1h-1zM985 669h1v1h-1zM986 669h1v1h-1zM987 669h1v1h-1zM991 671h1v1h-1zM992 671h1v1h-1zM993 672h1v1h-1zM997 675h1v1h-1zM998 676h1v1h-1zM999 676h1v1h-1zM1003 679h1v1h-1zM1004 680h1v1h-1zM1005 681h1v1h-1zM1009 684h1v1h-1zM1010 684h1v1h-1zM1011 685h1v1h-1zM1015 687h1v1h-1zM1016 688h1v1h-1zM1017 689h1v1h-1zM1021 691h1v1h-1zM1022 691h1v1h-1zM1023 691h1v1h-1zM1027 692h1v1h-1zM1028 693h1v1h-1zM1029 693h1v1h-1zM1033 693h1v1h-1zM1034 693h1v1h-1zM1035 693h1v1h-1zM1039 693h1v1h-1zM1040 693h1v1h-1zM1041 693h1v1h-1zM1045 693h1v1h-1zM1046 693h1v1h-1zM1047 693h1v1h-1zM1051 693h1v1h-1zM1052 692h1v1h-1zM1053 692h1v1h-1zM1057 692h1v1h-1zM1058 692h1v1h-1zM1059 692h1v1h-1zM1063 692h1v1h-1zM1064 691h1v1h-1zM1065 691h1v1h-1zM1069 691h1v1h-1zM1070 691h1v1h-1zM1071 691h1v1h-1zM1075 691h1v1h-1zM1076 690h1v1h-1zM1077 690h1v1h-1zM1081 690h1v1h-1zM1082 690h1v1h-1zM1083 690h1v1h-1zM1087 689h1v1h-1zM1088 689h1v1h-1zM1089 689h1v1h-1zM1093 689h1v1h-1zM1094 689h1v1h-1zM1095 689h1v1h-1zM1099 690h1v1h-1zM1100 691h1v1h-1zM1101 691h1v1h-1zM1105 692h1v1h-1zM1106 692h1v1h-1zM1107 693h1v1h-1zM1111 694h1v1h-1zM1112 695h1v1h-1zM1113 695h1v1h-1zM1117 697h1v1h-1zM1118 697h1v1h-1zM1119 697h1v1h-1zM1123 699h1v1h-1zM1124 699h1v1h-1zM1125 700h1v1h-1zM1129 702h1v1h-1zM1130 702h1v1h-1zM1131 702h1v1h-1zM1135 703h1v1h-1zM1136 703h1v1h-1zM1137 703h1v1h-1zM1141 704h1v1h-1zM1142 704h1v1h-1zM1143 704h1v1h-1zM1147 704h1v1h-1zM1148 704h1v1h-1zM1149 704h1v1h-1zM1153 704h1v1h-1zM1154 704h1v1h-1zM1155 704h1v1h-1zM1159 703h1v1h-1zM1160 702h1v1h-1zM1161 702h1v1h-1zM1165 701h1v1h-1zM1166 701h1v1h-1zM1167 700h1v1h-1zM1171 699h1v1h-1zM1172 698h1v1h-1zM1173 698h1v1h-1zM1177 697h1v1h-1zM1178 697h1v1h-1zM1179 697h1v1h-1zM1183 696h1v1h-1zM1184 695h1v1h-1zM1185 695h1v1h-1zM1189 694h1v1h-1zM1190 694h1v1h-1zM1191 694h1v1h-1zM1195 693h1v1h-1zM1196 694h1v1h-1zM1197 694h1v1h-1zM1201 694h1v1h-1zM1202 694h1v1h-1zM1203 694h1v1h-1zM1207 695h1v1h-1zM1208 695h1v1h-1zM1209 695h1v1h-1zM1213 696h1v1h-1zM1214 696h1v1h-1zM1215 696h1v1h-1zM1219 697h1v1h-1zM1220 698h1v1h-1zM1221 698h1v1h-1zM1225 698h1v1h-1zM1226 698h1v1h-1zM1227 698h1v1h-1zM1231 699h1v1h-1zM1232 699h1v1h-1zM1233 699h1v1h-1zM1237 699h1v1h-1zM1238 699h1v1h-1zM1239 699h1v1h-1zM1243 700h1v1h-1zM1244 701h1v1h-1zM1245 701h1v1h-1zM1249 701h1v1h-1zM1250 701h1v1h-1zM1251 701h1v1h-1zM1255 702h1v1h-1zM1256 702h1v1h-1zM1257 702h1v1h-1zM1261 702h1v1h-1zM1262 702h1v1h-1zM1263 702h1v1h-1zM1267 703h1v1h-1zM1268 703h1v1h-1z" fill="#ff0000"/>
<text class="t" x="9" y="639" style="letter-spacing:0.13px">MACD(12,26,9) -0.022578 -0.022656</text>
<text class="t" x="1601" y="637">0.05581</text>
<text class="t" x="1601" y="685">0.00</text>
<text class="t" x="1601" y="715">-0.038524</text>
<rect x="1598" y="681" width="2" height="1" fill="#000"/>
<rect x="1598" y="628" width="1" height="1" fill="#000"/><rect x="1598" y="717" width="1" height="1" fill="#000"/>
<rect x="5" y="719" width="1" height="3" fill="#000"/>
<text class="t" x="4" y="731" style="letter-spacing:0.15px">23 Aug 2019</text>
<rect x="69" y="719" width="1" height="3" fill="#000"/>
<text class="t" x="68" y="731" style="letter-spacing:0.15px">11 Sep 2019</text>
<rect x="133" y="719" width="1" height="3" fill="#000"/>
<text class="t" x="132" y="731" style="letter-spacing:0.15px">30 Sep 2019</text>
<rect x="197" y="719" width="1" height="3" fill="#000"/>
<text class="t" x="196" y="731" style="letter-spacing:0.15px">18 Oct 2019</text>
<rect x="261" y="719" width="1" height="3" fill="#000"/>
<text class="t" x="260" y="731" style="letter-spacing:0.15px">6 Nov 2019</text>
<rect x="325" y="719" width="1" height="3" fill="#000"/>
<text class="t" x="324" y="731" style="letter-spacing:0.15px">25 Nov 2019</text>
<rect x="389" y="719" width="1" height="3" fill="#000"/>
<text class="t" x="388" y="731" style="letter-spacing:0.15px">13 Dec 2019</text>
<rect x="453" y="719" width="1" height="3" fill="#000"/>
<text class="t" x="452" y="731" style="letter-spacing:0.15px">1 Jan 2020</text>
<rect x="517" y="719" width="1" height="3" fill="#000"/>
<text class="t" x="516" y="731" style="letter-spacing:0.15px">20 Jan 2020</text>
<rect x="581" y="719" width="1" height="3" fill="#000"/>
<text class="t" x="580" y="731" style="letter-spacing:0.15px">7 Feb 2020</text>
<rect x="645" y="719" width="1" height="3" fill="#000"/>
<text class="t" x="644" y="731" style="letter-spacing:0.15px">26 Feb 2020</text>
<rect x="709" y="719" width="1" height="3" fill="#000"/>
<text class="t" x="708" y="731" style="letter-spacing:0.15px">16 Mar 2020</text>
<rect x="773" y="719" width="1" height="3" fill="#000"/>
<text class="t" x="772" y="731" style="letter-spacing:0.15px">3 Apr 2020</text>
<rect x="837" y="719" width="1" height="3" fill="#000"/>
<text class="t" x="836" y="731" style="letter-spacing:0.15px">22 Apr 2020</text>
<rect x="901" y="719" width="1" height="3" fill="#000"/>
<text class="t" x="900" y="731" style="letter-spacing:0.15px">11 May 2020</text>
<rect x="965" y="719" width="1" height="3" fill="#000"/>
<text class="t" x="964" y="731" style="letter-spacing:0.15px">29 May 2020</text>
<rect x="1029" y="719" width="1" height="3" fill="#000"/>
<text class="t" x="1028" y="731" style="letter-spacing:0.15px">17 Jun 2020</text>
<rect x="1093" y="719" width="1" height="3" fill="#000"/>
<text class="t" x="1092" y="731" style="letter-spacing:0.15px">6 Jul 2020</text>
<rect x="1157" y="719" width="1" height="3" fill="#000"/>
<text class="t" x="1156" y="731" style="letter-spacing:0.15px">24 Jul 2020</text>
<rect x="1221" y="719" width="1" height="3" fill="#000"/>
<text class="t" x="1220" y="731" style="letter-spacing:0.15px">12 Aug 2020</text>
<rect x="0" y="741" width="1640" height="1" fill="#000"/>
<rect x="0" y="742" width="1640" height="1" fill="#ffffff"/>
<rect x="0" y="743" width="1640" height="17" fill="#f0f0f0"/>
<rect x="0" y="742" width="1" height="18" fill="#a0a0a0"/><rect x="1" y="742" width="1" height="18" fill="#696969"/>
<rect x="0" y="760" width="1640" height="2" fill="#ffffff"/>
<rect x="0" y="762" width="1640" height="3" fill="#f0f0f0"/>
<rect x="110" y="744" width="1" height="14" fill="#6e6e6e"/>
<rect x="210" y="744" width="1" height="14" fill="#6e6e6e"/>
<rect x="314" y="744" width="1" height="14" fill="#6e6e6e"/>
<rect x="626" y="744" width="1" height="14" fill="#6e6e6e"/>
<rect x="718" y="744" width="1" height="14" fill="#6e6e6e"/>
<rect x="810" y="744" width="1" height="14" fill="#6e6e6e"/>
<rect x="882" y="744" width="1" height="14" fill="#6e6e6e"/>
<rect x="962" y="744" width="1" height="14" fill="#6e6e6e"/>
<rect x="1042" y="744" width="1" height="14" fill="#6e6e6e"/>
<rect x="1122" y="744" width="1" height="14" fill="#6e6e6e"/>
<rect x="1198" y="744" width="1" height="14" fill="#6e6e6e"/>
<rect x="1270" y="744" width="1" height="14" fill="#6e6e6e"/>
<rect x="1354" y="744" width="1" height="14" fill="#6e6e6e"/>
<rect x="1434" y="744" width="1" height="14" fill="#6e6e6e"/>
<rect x="1534" y="744" width="1" height="14" fill="#6e6e6e"/>
<rect x="1606" y="744" width="1" height="14" fill="#6e6e6e"/>
<rect x="419" y="741" width="103" height="19" fill="#ffffff"/>
<rect x="419" y="741" width="1" height="19" fill="#000"/><rect x="521" y="741" width="1" height="19" fill="#000"/><rect x="419" y="759" width="103" height="1" fill="#000"/>
<text class="tab" x="18.7" y="756">EURUSD,Daily</text>
<text class="tab" x="120.2" y="756">USDCHF,Daily</text>
<text class="tab" x="220.7" y="756">AUDUSD,Daily</text>
<text class="tab" x="325.2" y="756">USDCAD,Daily</text>
<text class="tab" x="428.2" y="756" style="fill:#000">USDCNH,Daily</text>
<text class="tab" x="533.7" y="756">EURUSD,Daily</text>
<text class="tab" x="637.7" y="756">GBPUSD,H4</text>
<text class="tab" x="728.7" y="756">XAUUSD,H1</text>
<text class="tab" x="820.7" y="756">HK50,H1</text>
<text class="tab" x="892.7" y="756">UK100,H1</text>
<text class="tab" x="973.2" y="756">UK100,H1</text>
<text class="tab" x="1053.2" y="756">GER30,H1</text>
<text class="tab" x="1131.7" y="756">FRA40,H1</text>
<text class="tab" x="1207.7" y="756">USOil,H4</text>
<text class="tab" x="1280.2" y="756">USDJPY,H1</text>
<text class="tab" x="1364.2" y="756">DJ30,Daily</text>
<text class="tab" x="1443.7" y="756">CHINA300,H1</text>
<text class="tab" x="1544.2" y="756">USOil,H1</text>
<path d="M1616 747 L1616 754 L1612.5 750.5 Z" fill="#8a8a8a" shape-rendering="auto"/>
<path d="M1632 747 L1632 754 L1635.5 750.5 Z" fill="#000" shape-rendering="auto"/>
</svg></body></html>
